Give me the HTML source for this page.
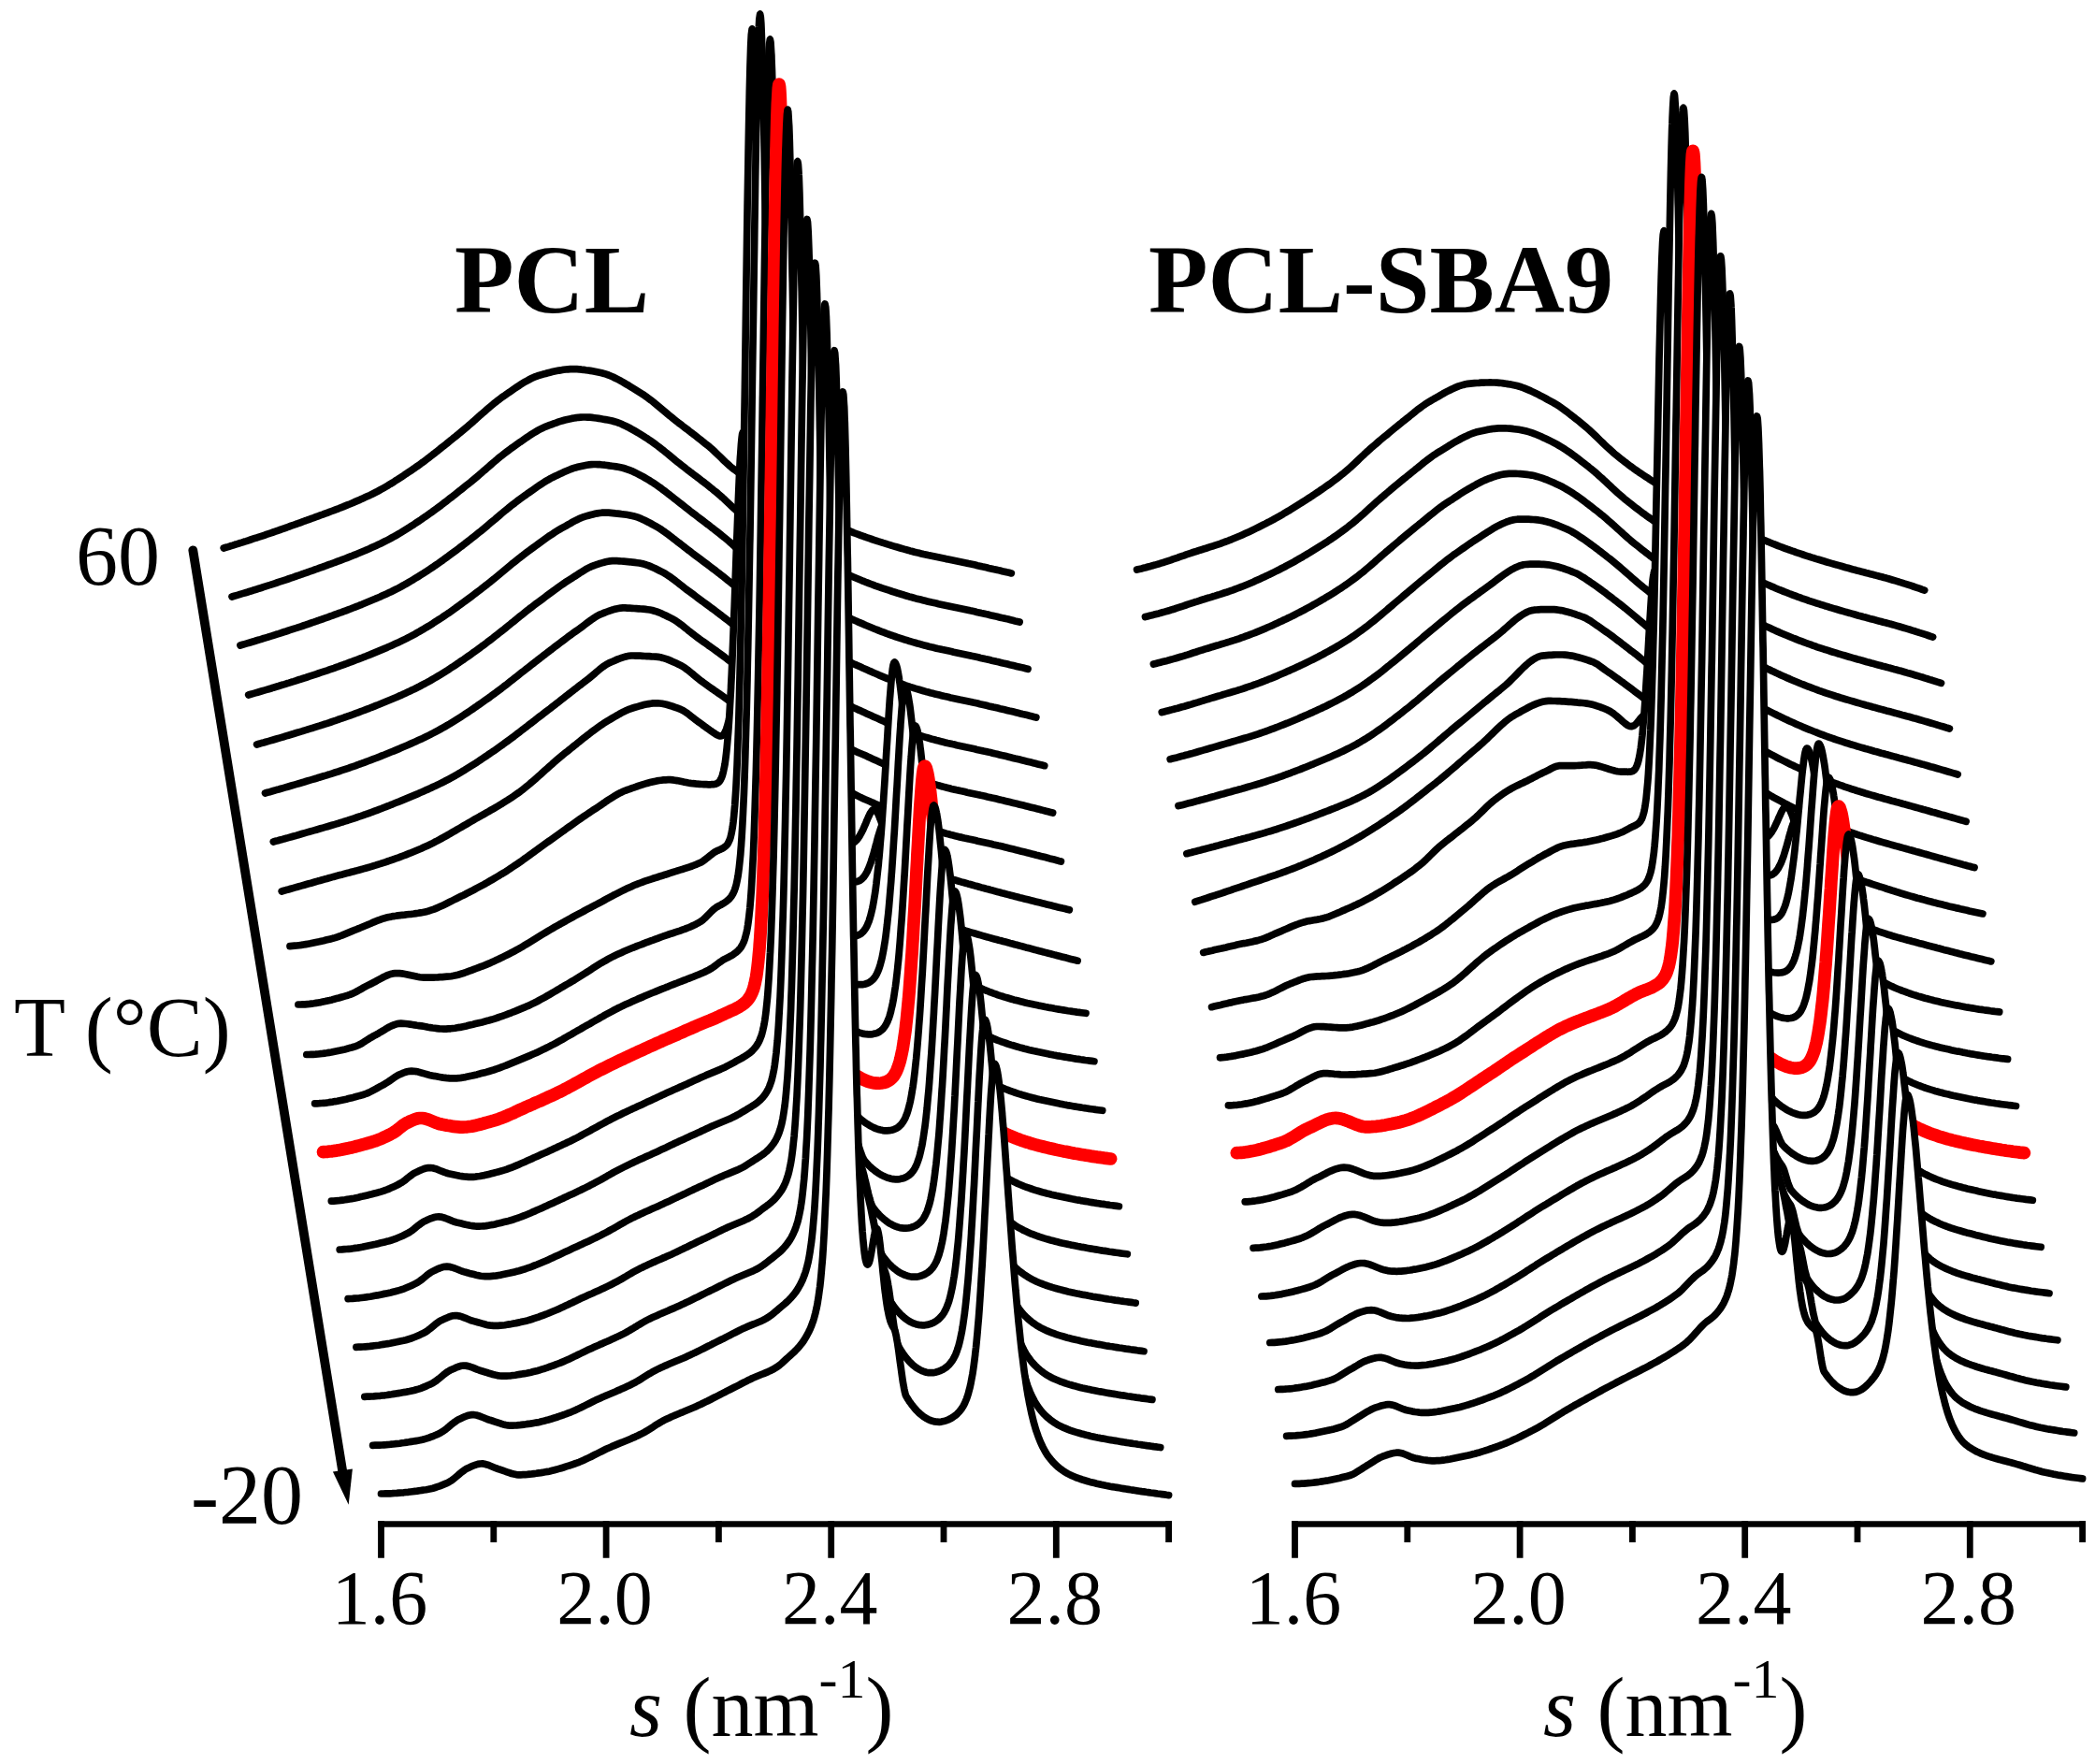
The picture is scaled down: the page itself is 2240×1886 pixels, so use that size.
<!DOCTYPE html>
<html><head><meta charset="utf-8"><style>html,body{margin:0;padding:0;background:#fff}svg{display:block}</style></head>
<body><svg xmlns="http://www.w3.org/2000/svg" width="2240" height="1886" viewBox="0 0 2240 1886">
<rect width="2240" height="1886" fill="#fff"/>
<g fill="#fff" stroke="#000" stroke-width="7.7" stroke-linecap="round" stroke-linejoin="round">
<path d="M239.2 586.0l2.4 -.7l2.4 -.7l2.4 -.8l2.4 -.7l2.4 -.8l2.4 -.7l2.4 -.8l2.4 -.7l2.4 -.8l2.4 -.7l2.4 -.8l2.4 -.8l2.4 -.8l2.4 -.8l2.4 -.7l2.5 -.8l2.4 -.8l2.4 -.8l2.4 -.9l2.4 -.8l2.4 -.8l2.4 -.8l2.4 -.8l2.4 -.9l2.4 -.8l2.4 -.8l2.4 -.9l2.4 -.8l2.4 -.9l2.4 -.9l2.4 -.8l2.5 -.9l2.4 -.8l2.4 -.9l2.4 -.9l2.4 -.9l2.4 -.8l2.4 -.9l2.4 -.9l2.4 -.8l2.4 -.9l2.4 -.9l2.4 -.9l2.4 -.8l2.4 -.9l2.4 -.9l2.4 -.9l2.4 -.9l2.5 -.9l2.4 -.9l2.4 -.9l2.4 -1l2.4 -.9l2.4 -1l2.4 -1l2.4 -.9l2.4 -1l2.4 -1.1l2.4 -1l2.4 -1l2.4 -1.1l2.4 -1.1l2.4 -1.1l2.4 -1.1l2.5 -1.1l2.4 -1.2l2.4 -1.2l2.4 -1.2l2.4 -1.3l2.4 -1.3l2.4 -1.3l2.4 -1.4l2.4 -1.4l2.4 -1.5l2.4 -1.4l2.4 -1.6l2.4 -1.5l2.4 -1.6l2.4 -1.5l2.4 -1.6l2.4 -1.7l2.5 -1.6l2.4 -1.6l2.4 -1.7l2.4 -1.6l2.4 -1.7l2.4 -1.7l2.4 -1.8l2.4 -1.7l2.4 -1.8l2.4 -1.8l2.4 -1.9l2.4 -1.9l2.4 -1.8l2.4 -1.9l2.4 -1.9l2.4 -2l2.4 -1.9l2.5 -1.9l2.4 -2l2.4 -1.9l2.4 -2l2.4 -1.9l2.4 -2l2.4 -1.9l2.4 -2l2.4 -2l2.4 -2l2.4 -2.1l2.4 -2.1l2.4 -2.1l2.4 -2.2l2.4 -2.1l2.4 -2.2l2.5 -2.1l2.4 -2.1l2.4 -2.1l2.4 -2.1l2.4 -2l2.4 -2l2.4 -1.9l2.4 -1.9l2.4 -1.8l2.4 -1.8l2.4 -1.6l2.4 -1.7l2.4 -1.6l2.4 -1.7l2.4 -1.7l2.4 -1.6l2.4 -1.6l2.5 -1.6l2.4 -1.5l2.4 -1.5l2.4 -1.3l2.4 -1.3l2.4 -1.2l2.4 -1.1l2.4 -.9l2.4 -.9l2.4 -.6l2.4 -.7l2.4 -.6l2.4 -.7l2.4 -.6l2.4 -.6l2.4 -.5l2.4 -.5l2.5 -.5l2.4 -.4l2.4 -.4l2.4 -.3l2.4 -.2l2.4 -.2l2.4 0l2.4 0l2.4 .1l2.4 .1l2.4 .3l2.4 .2l2.4 .4l2.4 .3l2.4 .4l2.4 .4l2.4 .5l2.5 .5l2.4 .5l2.4 .5l2.4 .6l2.4 .8l2.4 .8l2.4 1l2.4 1l2.4 1.2l2.4 1.2l2.4 1.2l2.4 1.4l2.4 1.4l2.4 1.4l2.4 1.4l2.4 1.5l2.5 1.5l2.4 1.5l2.4 1.5l2.4 1.5l2.4 1.5l2.4 1.6l2.4 1.7l2.4 1.8l2.4 1.8l2.4 1.9l2.4 2l2.4 2l2.4 2l2.4 2l2.4 2l2.4 2l2.4 2.1l2.5 1.9l2.4 2l2.4 1.9l2.4 1.9l2.4 1.8l2.4 1.9l2.4 1.8l2.4 1.8l2.4 1.9l2.4 1.8l2.4 1.9l2.4 1.8l2.4 1.9l2.4 1.9l2.4 1.9l2.4 2l2.4 1.9l2.5 2l2.4 2.1l2.4 2.2l2.4 2.3l2.4 2.3l2.4 2.3l2.4 2.4l2.4 2.3l2.4 2.2l2.4 2.2l2.4 2l2.4 1.8l2.4 1.7l2.4 1.7l2.4 1.6l2.4 1.7l2.5 1.6l2.4 1.6l2.4 1.6l2.4 1.5l2.4 1.6l2.4 1.5l2.4 1.5l2.4 1.5l2.4 1.4l2.4 1.5l2.4 1.4l2.4 1.4l2.4 1.4l2.4 1.4l2.4 1.3l2.4 1.4l2.4 1.3l2.5 1.3l2.4 1.3l2.4 1.3l2.4 1.3l2.4 1.2l2.4 1.3l2.4 1.2l2.4 1.2l2.4 1.2l2.4 1.2l2.4 1.2l2.4 1.1l2.4 1.2l2.4 1.1l2.4 1.1l2.4 1.1l2.5 1.1l2.4 1.1l2.4 1.1l2.4 1.1l2.4 1l2.4 1.1l2.4 1l2.4 1l2.4 1.1l2.4 1l2.4 1l2.4 1l2.4 1l2.4 .9l2.4 1l2.4 1l2.4 .9l2.5 .9l2.4 .9l2.4 .9l2.4 .8l2.4 .9l2.4 .8l2.4 .8l2.4 .8l2.4 .8l2.4 .8l2.4 .7l2.4 .8l2.4 .7l2.4 .8l2.4 .7l2.4 .8l2.4 .7l2.5 .7l2.4 .7l2.4 .7l2.4 .7l2.4 .7l2.4 .6l2.4 .7l2.4 .6l2.4 .7l2.4 .6l2.4 .5l2.4 .6l2.4 .6l2.4 .5l2.4 .6l2.4 .5l2.4 .5l2.5 .5l2.4 .5l2.4 .5l2.4 .5l2.4 .5l2.4 .5l2.4 .4l2.4 .5l2.4 .5l2.4 .5l2.4 .5l2.4 .5l2.4 .5l2.4 .5l2.4 .5l2.4 .6l2.5 .5l2.4 .5l2.4 .5l2.4 .6l2.4 .5l2.4 .6l2.4 .5l2.4 .5l2.4 .6l2.4 .5l2.4 .6l2.4 .5l2.4 .6l2.4 .5l2.4 .6l2.4 .5l2.4 .6l2.5 .5l2.4 .6"/>
<path d="M248.0 638.0l2.4 -.7l2.4 -.7l2.4 -.7l2.4 -.8l2.5 -.7l2.4 -.7l2.4 -.7l2.4 -.8l2.4 -.7l2.4 -.8l2.4 -.7l2.4 -.8l2.4 -.7l2.4 -.8l2.4 -.8l2.4 -.8l2.4 -.7l2.4 -.8l2.4 -.8l2.4 -.8l2.4 -.8l2.5 -.8l2.4 -.8l2.4 -.8l2.4 -.8l2.4 -.8l2.4 -.8l2.4 -.9l2.4 -.8l2.4 -.8l2.4 -.9l2.4 -.8l2.4 -.9l2.4 -.8l2.4 -.9l2.4 -.8l2.4 -.9l2.4 -.8l2.5 -.9l2.4 -.9l2.4 -.8l2.4 -.9l2.4 -.9l2.4 -.8l2.4 -.9l2.4 -.9l2.4 -.9l2.4 -.9l2.4 -.9l2.4 -.9l2.4 -.9l2.4 -1l2.4 -.9l2.4 -1l2.4 -.9l2.5 -1l2.4 -1l2.4 -1l2.4 -1l2.4 -1.1l2.4 -1l2.4 -1.1l2.4 -1.1l2.4 -1.1l2.4 -1.1l2.4 -1.1l2.4 -1.2l2.4 -1.2l2.4 -1.2l2.4 -1.3l2.4 -1.3l2.5 -1.3l2.4 -1.4l2.4 -1.4l2.4 -1.4l2.4 -1.5l2.4 -1.5l2.4 -1.5l2.4 -1.5l2.4 -1.6l2.4 -1.5l2.4 -1.6l2.4 -1.6l2.4 -1.6l2.4 -1.7l2.4 -1.6l2.4 -1.7l2.4 -1.7l2.5 -1.7l2.4 -1.8l2.4 -1.7l2.4 -1.8l2.4 -1.8l2.4 -1.9l2.4 -1.8l2.4 -1.9l2.4 -1.9l2.4 -1.8l2.4 -1.9l2.4 -1.9l2.4 -1.9l2.4 -1.9l2.4 -2l2.4 -1.9l2.4 -1.9l2.5 -1.9l2.4 -2l2.4 -2l2.4 -2l2.4 -2.1l2.4 -2.1l2.4 -2.1l2.4 -2l2.4 -2.1l2.4 -2.1l2.4 -2.1l2.4 -2l2.4 -2.1l2.4 -2l2.4 -1.9l2.4 -1.9l2.5 -1.9l2.4 -1.8l2.4 -1.8l2.4 -1.7l2.4 -1.7l2.4 -1.7l2.4 -1.7l2.4 -1.6l2.4 -1.7l2.4 -1.7l2.4 -1.6l2.4 -1.6l2.4 -1.5l2.4 -1.4l2.4 -1.4l2.4 -1.3l2.4 -1.2l2.5 -1.1l2.4 -1l2.4 -.9l2.4 -.9l2.4 -.9l2.4 -.8l2.4 -.9l2.4 -.8l2.4 -.7l2.4 -.7l2.4 -.6l2.4 -.5l2.4 -.5l2.4 -.4l2.4 -.4l2.4 -.3l2.5 -.2l2.4 -.1l2.4 0l2.4 .1l2.4 .1l2.4 .2l2.4 .3l2.4 .3l2.4 .4l2.4 .4l2.4 .4l2.4 .4l2.4 .4l2.4 .5l2.4 .5l2.4 .7l2.4 .7l2.5 .9l2.4 1l2.4 1.1l2.4 1.1l2.4 1.2l2.4 1.3l2.4 1.3l2.4 1.4l2.4 1.4l2.4 1.4l2.4 1.5l2.4 1.5l2.4 1.6l2.4 1.5l2.4 1.6l2.4 1.7l2.4 1.8l2.5 1.8l2.4 1.8l2.4 1.9l2.4 1.9l2.4 2l2.4 1.9l2.4 2l2.4 2l2.4 2l2.4 1.9l2.4 1.9l2.4 1.9l2.4 1.9l2.4 1.9l2.4 1.8l2.4 1.9l2.4 1.8l2.5 1.8l2.4 1.9l2.4 1.8l2.4 1.9l2.4 1.8l2.4 1.9l2.4 1.9l2.4 1.9l2.4 2l2.4 1.9l2.4 2l2.4 2.1l2.4 2.1l2.4 2.2l2.4 2.3l2.4 2.3l2.5 2.3l2.4 2.2l2.4 2.2l2.4 2.1l2.4 2l2.4 1.9l2.4 1.8l2.4 1.7l2.4 1.7l2.4 1.7l2.4 1.6l2.4 1.7l2.4 1.6l2.4 1.6l2.4 1.6l2.4 1.6l2.4 1.6l2.5 1.5l2.4 1.5l2.4 1.5l2.4 1.5l2.4 1.5l2.4 1.4l2.4 1.5l2.4 1.4l2.4 1.4l2.4 1.4l2.4 1.4l2.4 1.3l2.4 1.3l2.4 1.3l2.4 1.3l2.4 1.3l2.5 1.3l2.4 1.2l2.4 1.3l2.4 1.2l2.4 1.2l2.4 1.2l2.4 1.1l2.4 1.1l2.4 1.2l2.4 1.1l2.4 1.1l2.4 1l2.4 1.1l2.4 1.1l2.4 1.1l2.4 1l2.4 1.1l2.5 1l2.4 1.1l2.4 1l2.4 1l2.4 1.1l2.4 1l2.4 1l2.4 1l2.4 1l2.4 .9l2.4 1l2.4 .9l2.4 .9l2.4 .9l2.4 .9l2.4 .8l2.4 .9l2.5 .8l2.4 .8l2.4 .8l2.4 .8l2.4 .8l2.4 .8l2.4 .7l2.4 .8l2.4 .7l2.4 .7l2.4 .8l2.4 .7l2.4 .7l2.4 .6l2.4 .7l2.4 .7l2.4 .6l2.5 .6l2.4 .6l2.4 .6l2.4 .6l2.4 .6l2.4 .6l2.4 .5l2.4 .5l2.4 .6l2.4 .5l2.4 .5l2.4 .5l2.4 .5l2.4 .5l2.4 .5l2.4 .5l2.5 .5l2.4 .5l2.4 .5l2.4 .5l2.4 .5l2.4 .5l2.4 .6l2.4 .5l2.4 .5l2.4 .6l2.4 .5l2.4 .6l2.4 .5l2.4 .6l2.4 .5l2.4 .6l2.4 .5l2.5 .6l2.4 .5l2.4 .6l2.4 .6l2.4 .5l2.4 .6l2.4 .5l2.4 .6l2.4 .6l2.4 .6l2.4 .5l2.4 .6"/>
<path d="M256.9 690.0l2.4 -.7l2.4 -.7l2.4 -.7l2.4 -.7l2.4 -.7l2.4 -.7l2.4 -.8l2.4 -.7l2.4 -.7l2.4 -.8l2.4 -.7l2.5 -.7l2.4 -.8l2.4 -.7l2.4 -.8l2.4 -.8l2.4 -.7l2.4 -.8l2.4 -.8l2.4 -.7l2.4 -.8l2.4 -.8l2.4 -.8l2.4 -.8l2.4 -.7l2.4 -.8l2.4 -.8l2.4 -.8l2.5 -.8l2.4 -.9l2.4 -.8l2.4 -.8l2.4 -.8l2.4 -.9l2.4 -.8l2.4 -.9l2.4 -.8l2.4 -.9l2.4 -.8l2.4 -.9l2.4 -.8l2.4 -.9l2.4 -.9l2.4 -.9l2.5 -.8l2.4 -.9l2.4 -.9l2.4 -.9l2.4 -.9l2.4 -1l2.4 -.9l2.4 -.9l2.4 -1l2.4 -.9l2.4 -1l2.4 -1l2.4 -1l2.4 -1l2.4 -1l2.4 -1l2.4 -1.1l2.5 -1l2.4 -1.1l2.4 -1.1l2.4 -1.1l2.4 -1.1l2.4 -1.1l2.4 -1.2l2.4 -1.2l2.4 -1.2l2.4 -1.3l2.4 -1.3l2.4 -1.3l2.4 -1.4l2.4 -1.4l2.4 -1.4l2.4 -1.4l2.4 -1.5l2.5 -1.5l2.4 -1.5l2.4 -1.5l2.4 -1.6l2.4 -1.5l2.4 -1.6l2.4 -1.6l2.4 -1.6l2.4 -1.7l2.4 -1.6l2.4 -1.7l2.4 -1.7l2.4 -1.8l2.4 -1.7l2.4 -1.8l2.4 -1.8l2.4 -1.8l2.5 -1.8l2.4 -1.8l2.4 -1.9l2.4 -1.8l2.4 -1.9l2.4 -1.8l2.4 -1.9l2.4 -1.9l2.4 -1.9l2.4 -1.9l2.4 -1.9l2.4 -1.9l2.4 -2l2.4 -2l2.4 -2l2.4 -2.1l2.5 -2l2.4 -2l2.4 -2.1l2.4 -2l2.4 -2.1l2.4 -2l2.4 -2l2.4 -1.9l2.4 -2l2.4 -1.9l2.4 -1.8l2.4 -1.9l2.4 -1.8l2.4 -1.7l2.4 -1.7l2.4 -1.7l2.4 -1.8l2.5 -1.7l2.4 -1.7l2.4 -1.7l2.4 -1.7l2.4 -1.6l2.4 -1.6l2.4 -1.6l2.4 -1.4l2.4 -1.4l2.4 -1.4l2.4 -1.2l2.4 -1.2l2.4 -1.1l2.4 -1.1l2.4 -1.1l2.4 -1.1l2.5 -1.1l2.4 -1l2.4 -1l2.4 -.8l2.4 -.8l2.4 -.6l2.4 -.6l2.4 -.5l2.4 -.5l2.4 -.5l2.4 -.3l2.4 -.2l2.4 -.2l2.4 0l2.4 .1l2.4 .1l2.4 .3l2.5 .2l2.4 .3l2.4 .4l2.4 .3l2.4 .3l2.4 .4l2.4 .4l2.4 .5l2.4 .5l2.4 .7l2.4 .8l2.4 .9l2.4 .9l2.4 1.1l2.4 1.2l2.4 1.2l2.4 1.3l2.5 1.3l2.4 1.4l2.4 1.4l2.4 1.4l2.4 1.5l2.4 1.6l2.4 1.6l2.4 1.7l2.4 1.7l2.4 1.9l2.4 1.8l2.4 1.9l2.4 1.8l2.4 1.9l2.4 1.9l2.4 1.9l2.4 1.9l2.5 1.9l2.4 1.9l2.4 1.9l2.4 1.9l2.4 1.9l2.4 1.8l2.4 1.8l2.4 1.9l2.4 1.8l2.4 1.8l2.4 1.8l2.4 1.9l2.4 1.8l2.4 1.9l2.4 1.8l2.4 1.9l2.5 1.9l2.4 1.9l2.4 2l2.4 1.9l2.4 2l2.4 2l2.4 2.1l2.4 2.2l2.4 2.2l2.4 2.2l2.4 2.2l2.4 2.2l2.4 2.2l2.4 2.1l2.4 1.9l2.4 1.9l2.4 1.8l2.5 1.8l2.4 1.7l2.4 1.8l2.4 1.7l2.4 1.7l2.4 1.7l2.4 1.6l2.4 1.7l2.4 1.6l2.4 1.6l2.4 1.6l2.4 1.6l2.4 1.6l2.4 1.5l2.4 1.5l2.4 1.5l2.5 1.5l2.4 1.5l2.4 1.5l2.4 1.4l2.4 1.4l2.4 1.4l2.4 1.4l2.4 1.3l2.4 1.4l2.4 1.3l2.4 1.3l2.4 1.3l2.4 1.2l2.4 1.3l2.4 1.2l2.4 1.2l2.4 1.1l2.5 1.1l2.4 1.1l2.4 1.1l2.4 1.1l2.4 1.1l2.4 1.1l2.4 1l2.4 1.1l2.4 1.1l2.4 1l2.4 1.1l2.4 1.1l2.4 1l2.4 1.1l2.4 1l2.4 1l2.4 1.1l2.5 1l2.4 1l2.4 1l2.4 1l2.4 .9l2.4 1l2.4 .9l2.4 .9l2.4 .9l2.4 .9l2.4 .8l2.4 .9l2.4 .8l2.4 .8l2.4 .8l2.4 .8l2.4 .8l2.5 .7l2.4 .8l2.4 .7l2.4 .7l2.4 .7l2.4 .7l2.4 .6l2.4 .7l2.4 .6l2.4 .6l2.4 .7l2.4 .6l2.4 .5l2.4 .6l2.4 .6l2.4 .5l2.5 .6l2.4 .5l2.4 .5l2.4 .5l2.4 .5l2.4 .6l2.4 .5l2.4 .5l2.4 .5l2.4 .5l2.4 .5l2.4 .5l2.4 .5l2.4 .6l2.4 .5l2.4 .5l2.4 .5l2.5 .6l2.4 .5l2.4 .6l2.4 .5l2.4 .6l2.4 .6l2.4 .5l2.4 .6l2.4 .5l2.4 .6l2.4 .6l2.4 .5l2.4 .6l2.4 .6l2.4 .5l2.4 .6l2.4 .6l2.5 .6l2.4 .6l2.4 .5l2.4 .6l2.4 .6"/>
<path d="M265.7 743.0l2.4 -.7l2.5 -.7l2.4 -.7l2.4 -.7l2.4 -.7l2.4 -.7l2.4 -.7l2.4 -.7l2.4 -.7l2.4 -.7l2.4 -.8l2.4 -.7l2.4 -.7l2.4 -.8l2.4 -.7l2.4 -.7l2.4 -.8l2.4 -.7l2.5 -.8l2.4 -.7l2.4 -.8l2.4 -.8l2.4 -.7l2.4 -.8l2.4 -.7l2.4 -.8l2.4 -.8l2.4 -.8l2.4 -.8l2.4 -.8l2.4 -.8l2.4 -.8l2.4 -.8l2.4 -.8l2.4 -.8l2.5 -.9l2.4 -.8l2.4 -.8l2.4 -.9l2.4 -.8l2.4 -.9l2.4 -.9l2.4 -.8l2.4 -.9l2.4 -.9l2.4 -.9l2.4 -.9l2.4 -.9l2.4 -.9l2.4 -.9l2.4 -1l2.5 -.9l2.4 -1l2.4 -.9l2.4 -1l2.4 -1l2.4 -1l2.4 -1l2.4 -1l2.4 -1l2.4 -1l2.4 -1.1l2.4 -1l2.4 -1.1l2.4 -1.1l2.4 -1.1l2.4 -1.1l2.4 -1.2l2.5 -1.1l2.4 -1.2l2.4 -1.3l2.4 -1.2l2.4 -1.3l2.4 -1.3l2.4 -1.4l2.4 -1.3l2.4 -1.4l2.4 -1.4l2.4 -1.5l2.4 -1.4l2.4 -1.5l2.4 -1.5l2.4 -1.6l2.4 -1.5l2.4 -1.6l2.5 -1.5l2.4 -1.7l2.4 -1.6l2.4 -1.6l2.4 -1.7l2.4 -1.7l2.4 -1.7l2.4 -1.8l2.4 -1.7l2.4 -1.8l2.4 -1.7l2.4 -1.8l2.4 -1.8l2.4 -1.8l2.4 -1.8l2.4 -1.8l2.5 -1.9l2.4 -1.8l2.4 -1.9l2.4 -1.9l2.4 -1.8l2.4 -2l2.4 -1.9l2.4 -1.9l2.4 -2l2.4 -2l2.4 -2l2.4 -2l2.4 -2l2.4 -2l2.4 -2l2.4 -2l2.4 -1.9l2.5 -2l2.4 -1.9l2.4 -1.9l2.4 -1.8l2.4 -1.9l2.4 -1.8l2.4 -1.7l2.4 -1.8l2.4 -1.8l2.4 -1.7l2.4 -1.8l2.4 -1.8l2.4 -1.7l2.4 -1.7l2.4 -1.7l2.4 -1.7l2.5 -1.6l2.4 -1.6l2.4 -1.5l2.4 -1.5l2.4 -1.4l2.4 -1.3l2.4 -1.3l2.4 -1.4l2.4 -1.3l2.4 -1.4l2.4 -1.3l2.4 -1.2l2.4 -1.1l2.4 -1.1l2.4 -.9l2.4 -.7l2.4 -.7l2.5 -.7l2.4 -.6l2.4 -.6l2.4 -.4l2.4 -.4l2.4 -.3l2.4 -.1l2.4 0l2.4 .1l2.4 .2l2.4 .2l2.4 .3l2.4 .2l2.4 .3l2.4 .3l2.4 .3l2.4 .3l2.5 .4l2.4 .5l2.4 .5l2.4 .7l2.4 .8l2.4 .9l2.4 1.1l2.4 1.1l2.4 1.2l2.4 1.2l2.4 1.3l2.4 1.3l2.4 1.3l2.4 1.4l2.4 1.5l2.4 1.7l2.4 1.6l2.5 1.8l2.4 1.8l2.4 1.9l2.4 1.9l2.4 1.8l2.4 1.9l2.4 1.8l2.4 1.9l2.4 1.8l2.4 1.9l2.4 1.8l2.4 1.9l2.4 1.8l2.4 1.8l2.4 1.8l2.4 1.8l2.5 1.9l2.4 1.8l2.4 1.8l2.4 1.8l2.4 1.8l2.4 1.8l2.4 1.9l2.4 1.8l2.4 1.9l2.4 1.9l2.4 1.9l2.4 1.9l2.4 1.9l2.4 2l2.4 1.9l2.4 2l2.4 2.1l2.5 2.1l2.4 2.2l2.4 2.1l2.4 2.2l2.4 2.1l2.4 2.1l2.4 2l2.4 2l2.4 1.9l2.4 1.8l2.4 1.8l2.4 1.8l2.4 1.8l2.4 1.8l2.4 1.7l2.4 1.8l2.5 1.7l2.4 1.7l2.4 1.7l2.4 1.7l2.4 1.6l2.4 1.7l2.4 1.6l2.4 1.6l2.4 1.6l2.4 1.5l2.4 1.6l2.4 1.5l2.4 1.5l2.4 1.5l2.4 1.4l2.4 1.5l2.4 1.4l2.5 1.4l2.4 1.4l2.4 1.3l2.4 1.4l2.4 1.3l2.4 1.3l2.4 1.2l2.4 1.3l2.4 1.2l2.4 1.1l2.4 1.1l2.4 1.1l2.4 1.1l2.4 1.1l2.4 1l2.4 1.1l2.4 1.1l2.5 1.1l2.4 1l2.4 1.1l2.4 1.1l2.4 1.1l2.4 1l2.4 1.1l2.4 1.1l2.4 1l2.4 1.1l2.4 1l2.4 1.1l2.4 1l2.4 1l2.4 1l2.4 1l2.4 .9l2.5 1l2.4 .9l2.4 .9l2.4 .9l2.4 .9l2.4 .8l2.4 .9l2.4 .8l2.4 .8l2.4 .7l2.4 .8l2.4 .7l2.4 .7l2.4 .7l2.4 .7l2.4 .7l2.5 .6l2.4 .7l2.4 .6l2.4 .6l2.4 .6l2.4 .6l2.4 .6l2.4 .6l2.4 .5l2.4 .5l2.4 .6l2.4 .5l2.4 .5l2.4 .5l2.4 .6l2.4 .5l2.4 .5l2.5 .5l2.4 .5l2.4 .5l2.4 .6l2.4 .5l2.4 .5l2.4 .6l2.4 .5l2.4 .5l2.4 .6l2.4 .6l2.4 .5l2.4 .6l2.4 .5l2.4 .6l2.4 .6l2.4 .5l2.5 .6l2.4 .6l2.4 .6l2.4 .5l2.4 .6l2.4 .6l2.4 .6l2.4 .6l2.4 .6l2.4 .5l2.4 .6l2.4 .6l2.4 .6l2.4 .6l2.4 .6"/>
<path d="M274.6 796.0l2.4 -.7l2.4 -.7l2.4 -.6l2.4 -.7l2.4 -.7l2.4 -.7l2.4 -.7l2.4 -.7l2.5 -.7l2.4 -.7l2.4 -.7l2.4 -.7l2.4 -.8l2.4 -.7l2.4 -.7l2.4 -.7l2.4 -.8l2.4 -.7l2.4 -.7l2.4 -.7l2.4 -.8l2.4 -.7l2.4 -.8l2.4 -.7l2.4 -.7l2.5 -.8l2.4 -.8l2.4 -.7l2.4 -.8l2.4 -.8l2.4 -.7l2.4 -.8l2.4 -.8l2.4 -.8l2.4 -.8l2.4 -.9l2.4 -.8l2.4 -.8l2.4 -.9l2.4 -.8l2.4 -.9l2.5 -.8l2.4 -.9l2.4 -.9l2.4 -.9l2.4 -.9l2.4 -.9l2.4 -.9l2.4 -.9l2.4 -.9l2.4 -1l2.4 -.9l2.4 -1l2.4 -.9l2.4 -1l2.4 -1l2.4 -1l2.4 -1l2.5 -1l2.4 -1l2.4 -1l2.4 -1l2.4 -1.1l2.4 -1l2.4 -1.1l2.4 -1.1l2.4 -1.1l2.4 -1.1l2.4 -1.2l2.4 -1.1l2.4 -1.2l2.4 -1.2l2.4 -1.3l2.4 -1.3l2.4 -1.2l2.5 -1.4l2.4 -1.3l2.4 -1.4l2.4 -1.4l2.4 -1.4l2.4 -1.4l2.4 -1.5l2.4 -1.5l2.4 -1.5l2.4 -1.5l2.4 -1.6l2.4 -1.5l2.4 -1.6l2.4 -1.7l2.4 -1.6l2.4 -1.7l2.5 -1.6l2.4 -1.7l2.4 -1.7l2.4 -1.7l2.4 -1.8l2.4 -1.7l2.4 -1.7l2.4 -1.8l2.4 -1.8l2.4 -1.7l2.4 -1.8l2.4 -1.9l2.4 -1.8l2.4 -1.8l2.4 -1.9l2.4 -1.9l2.4 -1.9l2.5 -1.9l2.4 -1.9l2.4 -2l2.4 -1.9l2.4 -2l2.4 -1.9l2.4 -2l2.4 -1.9l2.4 -2l2.4 -1.9l2.4 -1.9l2.4 -1.9l2.4 -1.9l2.4 -1.8l2.4 -1.9l2.4 -1.8l2.5 -1.8l2.4 -1.8l2.4 -1.8l2.4 -1.8l2.4 -1.8l2.4 -1.8l2.4 -1.8l2.4 -1.8l2.4 -1.7l2.4 -1.8l2.4 -1.7l2.4 -1.6l2.4 -1.7l2.4 -1.6l2.4 -1.5l2.4 -1.5l2.4 -1.6l2.5 -1.5l2.4 -1.6l2.4 -1.6l2.4 -1.5l2.4 -1.5l2.4 -1.3l2.4 -1.2l2.4 -1.1l2.4 -.8l2.4 -.9l2.4 -.8l2.4 -.7l2.4 -.7l2.4 -.6l2.4 -.5l2.4 -.4l2.4 -.2l2.5 -.1l2.4 .1l2.4 .1l2.4 .2l2.4 .2l2.4 .2l2.4 .2l2.4 .2l2.4 .3l2.4 .3l2.4 .3l2.4 .3l2.4 .5l2.4 .6l2.4 .7l2.4 .8l2.4 1l2.5 1.1l2.4 1.1l2.4 1.2l2.4 1.2l2.4 1.2l2.4 1.3l2.4 1.4l2.4 1.6l2.4 1.6l2.4 1.8l2.4 1.8l2.4 1.9l2.4 1.9l2.4 1.9l2.4 1.9l2.4 1.8l2.5 1.8l2.4 1.8l2.4 1.8l2.4 1.8l2.4 1.8l2.4 1.8l2.4 1.8l2.4 1.7l2.4 1.8l2.4 1.8l2.4 1.8l2.4 1.7l2.4 1.8l2.4 1.8l2.4 1.9l2.4 1.8l2.4 1.8l2.5 1.9l2.4 1.9l2.4 1.8l2.4 1.9l2.4 1.9l2.4 2l2.4 1.9l2.4 2l2.4 1.9l2.4 2.1l2.4 2l2.4 2.1l2.4 2.1l2.4 2.1l2.4 2l2.4 2.1l2.4 2l2.5 2l2.4 1.9l2.4 1.9l2.4 1.8l2.4 1.9l2.4 1.8l2.4 1.8l2.4 1.8l2.4 1.8l2.4 1.8l2.4 1.7l2.4 1.8l2.4 1.7l2.4 1.7l2.4 1.7l2.4 1.7l2.5 1.6l2.4 1.7l2.4 1.6l2.4 1.6l2.4 1.6l2.4 1.5l2.4 1.6l2.4 1.5l2.4 1.5l2.4 1.4l2.4 1.5l2.4 1.4l2.4 1.4l2.4 1.4l2.4 1.3l2.4 1.3l2.4 1.3l2.5 1.2l2.4 1.3l2.4 1.1l2.4 1.1l2.4 1.1l2.4 1.1l2.4 1l2.4 1.1l2.4 1.1l2.4 1l2.4 1.1l2.4 1.1l2.4 1.1l2.4 1.1l2.4 1.1l2.4 1.1l2.5 1.1l2.4 1l2.4 1.1l2.4 1.1l2.4 1.1l2.4 1l2.4 1.1l2.4 1l2.4 1.1l2.4 1l2.4 1l2.4 .9l2.4 1l2.4 .9l2.4 1l2.4 .8l2.4 .9l2.5 .9l2.4 .8l2.4 .8l2.4 .8l2.4 .8l2.4 .7l2.4 .7l2.4 .7l2.4 .7l2.4 .6l2.4 .7l2.4 .6l2.4 .6l2.4 .6l2.4 .6l2.4 .6l2.4 .5l2.5 .6l2.4 .5l2.4 .6l2.4 .5l2.4 .5l2.4 .5l2.4 .6l2.4 .5l2.4 .5l2.4 .5l2.4 .5l2.4 .6l2.4 .5l2.4 .5l2.4 .6l2.4 .5l2.4 .6l2.5 .5l2.4 .6l2.4 .6l2.4 .5l2.4 .6l2.4 .6l2.4 .5l2.4 .6l2.4 .6l2.4 .6l2.4 .6l2.4 .6l2.4 .5l2.4 .6l2.4 .6l2.4 .6l2.5 .6l2.4 .6l2.4 .6l2.4 .6l2.4 .6l2.4 .6l2.4 .6l2.4 .6l2.4 .6"/>
<path d="M283.5 848.0l2.4 -.7l2.4 -.6l2.4 -.7l2.4 -.7l2.4 -.7l2.4 -.6l2.4 -.7l2.4 -.7l2.4 -.7l2.4 -.7l2.4 -.7l2.4 -.7l2.4 -.7l2.4 -.7l2.4 -.7l2.5 -.7l2.4 -.7l2.4 -.8l2.4 -.7l2.4 -.7l2.4 -.7l2.4 -.7l2.4 -.7l2.4 -.8l2.4 -.7l2.4 -.7l2.4 -.7l2.4 -.8l2.4 -.7l2.4 -.8l2.4 -.8l2.5 -.7l2.4 -.8l2.4 -.8l2.4 -.8l2.4 -.8l2.4 -.8l2.4 -.9l2.4 -.8l2.4 -.8l2.4 -.9l2.4 -.9l2.4 -.8l2.4 -.9l2.4 -.9l2.4 -.9l2.4 -.9l2.4 -.9l2.5 -1l2.4 -.9l2.4 -.9l2.4 -1l2.4 -.9l2.4 -1l2.4 -1l2.4 -1l2.4 -.9l2.4 -1l2.4 -1l2.4 -1l2.4 -1.1l2.4 -1l2.4 -1l2.4 -1.1l2.4 -1l2.5 -1.1l2.4 -1.1l2.4 -1.1l2.4 -1.1l2.4 -1.1l2.4 -1.2l2.4 -1.1l2.4 -1.2l2.4 -1.3l2.4 -1.2l2.4 -1.3l2.4 -1.3l2.4 -1.3l2.4 -1.3l2.4 -1.4l2.4 -1.4l2.5 -1.4l2.4 -1.5l2.4 -1.5l2.4 -1.5l2.4 -1.5l2.4 -1.5l2.4 -1.6l2.4 -1.6l2.4 -1.6l2.4 -1.6l2.4 -1.6l2.4 -1.7l2.4 -1.6l2.4 -1.7l2.4 -1.7l2.4 -1.7l2.4 -1.7l2.5 -1.7l2.4 -1.7l2.4 -1.8l2.4 -1.7l2.4 -1.8l2.4 -1.8l2.4 -1.8l2.4 -1.9l2.4 -1.8l2.4 -1.9l2.4 -1.9l2.4 -1.9l2.4 -1.9l2.4 -1.9l2.4 -1.9l2.4 -1.9l2.5 -1.9l2.4 -1.9l2.4 -1.9l2.4 -1.9l2.4 -1.8l2.4 -1.9l2.4 -1.9l2.4 -1.8l2.4 -1.9l2.4 -1.9l2.4 -1.8l2.4 -1.8l2.4 -1.9l2.4 -1.8l2.4 -1.9l2.4 -1.8l2.4 -1.8l2.5 -1.9l2.4 -1.8l2.4 -1.8l2.4 -1.8l2.4 -1.7l2.4 -1.8l2.4 -1.7l2.4 -1.7l2.4 -1.7l2.4 -1.8l2.4 -1.8l2.4 -1.8l2.4 -1.8l2.4 -1.8l2.4 -1.6l2.4 -1.6l2.4 -1.4l2.5 -1.2l2.4 -.9l2.4 -1l2.4 -.9l2.4 -.9l2.4 -.8l2.4 -.7l2.4 -.6l2.4 -.5l2.4 -.4l2.4 -.2l2.4 0l2.4 .2l2.4 .1l2.4 .1l2.4 .2l2.4 .1l2.5 .2l2.4 .2l2.4 .2l2.4 .2l2.4 .3l2.4 .3l2.4 .5l2.4 .7l2.4 .7l2.4 .9l2.4 1l2.4 1.1l2.4 1.1l2.4 1.2l2.4 1.2l2.4 1.2l2.5 1.4l2.4 1.6l2.4 1.7l2.4 1.8l2.4 1.9l2.4 1.9l2.4 2l2.4 1.9l2.4 1.9l2.4 1.8l2.4 1.8l2.4 1.8l2.4 1.7l2.4 1.7l2.4 1.7l2.4 1.8l2.4 1.7l2.5 1.7l2.4 1.7l2.4 1.8l2.4 1.7l2.4 1.8l2.4 1.8l2.4 1.8l2.4 1.8l2.4 1.8l2.4 1.9l2.4 1.8l2.4 1.9l2.4 1.9l2.4 1.8l2.4 2l2.4 1.9l2.5 1.9l2.4 1.9l2.4 2l2.4 2l2.4 2l2.4 2l2.4 2l2.4 2l2.4 2l2.4 2l2.4 2l2.4 2l2.4 1.9l2.4 1.9l2.4 1.9l2.4 1.9l2.4 1.9l2.5 1.8l2.4 1.9l2.4 1.8l2.4 1.9l2.4 1.8l2.4 1.8l2.4 1.8l2.4 1.7l2.4 1.8l2.4 1.7l2.4 1.7l2.4 1.7l2.4 1.7l2.4 1.6l2.4 1.7l2.4 1.6l2.4 1.6l2.5 1.5l2.4 1.6l2.4 1.5l2.4 1.5l2.4 1.4l2.4 1.4l2.4 1.4l2.4 1.4l2.4 1.4l2.4 1.3l2.4 1.2l2.4 1.3l2.4 1.1l2.4 1.1l2.4 1.1l2.4 1.1l2.5 1l2.4 1l2.4 1.1l2.4 1.1l2.4 1.1l2.4 1.1l2.4 1.1l2.4 1.1l2.4 1.1l2.4 1.1l2.4 1.1l2.4 1.1l2.4 1.1l2.4 1.1l2.4 1.1l2.4 1.1l2.4 1.1l2.5 1l2.4 1.1l2.4 1l2.4 1.1l2.4 1l2.4 1l2.4 .9l2.4 1l2.4 .9l2.4 .9l2.4 .9l2.4 .8l2.4 .8l2.4 .8l2.4 .8l2.4 .7l2.4 .7l2.5 .7l2.4 .7l2.4 .6l2.4 .7l2.4 .6l2.4 .6l2.4 .6l2.4 .5l2.4 .6l2.4 .5l2.4 .6l2.4 .5l2.4 .5l2.4 .6l2.4 .5l2.4 .5l2.5 .5l2.4 .5l2.4 .5l2.4 .6l2.4 .5l2.4 .5l2.4 .6l2.4 .5l2.4 .6l2.4 .5l2.4 .6l2.4 .6l2.4 .6l2.4 .5l2.4 .6l2.4 .6l2.4 .6l2.5 .6l2.4 .6l2.4 .5l2.4 .6l2.4 .6l2.4 .6l2.4 .6l2.4 .6l2.4 .6l2.4 .6l2.4 .6l2.4 .6l2.4 .6l2.4 .6l2.4 .7l2.4 .6l2.4 .6l2.5 .6l2.4 .6"/>
<path d="M292.3 900.0l2.4 -.7l2.4 -.6l2.4 -.7l2.4 -.6l2.5 -.7l2.4 -.6l2.4 -.7l2.4 -.7l2.4 -.7l2.4 -.6l2.4 -.7l2.4 -.7l2.4 -.7l2.4 -.7l2.4 -.7l2.4 -.7l2.4 -.6l2.4 -.7l2.4 -.7l2.4 -.7l2.4 -.7l2.5 -.7l2.4 -.7l2.4 -.7l2.4 -.7l2.4 -.7l2.4 -.7l2.4 -.7l2.4 -.7l2.4 -.8l2.4 -.7l2.4 -.8l2.4 -.7l2.4 -.8l2.4 -.8l2.4 -.8l2.4 -.8l2.4 -.8l2.5 -.8l2.4 -.9l2.4 -.8l2.4 -.9l2.4 -.8l2.4 -.9l2.4 -.9l2.4 -.9l2.4 -.9l2.4 -.9l2.4 -1l2.4 -.9l2.4 -.9l2.4 -1l2.4 -.9l2.4 -1l2.4 -1l2.5 -.9l2.4 -1l2.4 -1l2.4 -1l2.4 -1l2.4 -1l2.4 -1l2.4 -1l2.4 -1l2.4 -1.1l2.4 -1l2.4 -1.1l2.4 -1.1l2.4 -1l2.4 -1.1l2.4 -1.2l2.5 -1.1l2.4 -1.1l2.4 -1.2l2.4 -1.2l2.4 -1.2l2.4 -1.3l2.4 -1.2l2.4 -1.3l2.4 -1.4l2.4 -1.3l2.4 -1.4l2.4 -1.4l2.4 -1.5l2.4 -1.4l2.4 -1.5l2.4 -1.5l2.4 -1.5l2.5 -1.6l2.4 -1.5l2.4 -1.6l2.4 -1.6l2.4 -1.6l2.4 -1.6l2.4 -1.6l2.4 -1.7l2.4 -1.6l2.4 -1.6l2.4 -1.7l2.4 -1.7l2.4 -1.7l2.4 -1.7l2.4 -1.8l2.4 -1.7l2.5 -1.8l2.4 -1.8l2.4 -1.8l2.4 -1.9l2.4 -1.8l2.4 -1.9l2.4 -1.8l2.4 -1.9l2.4 -1.8l2.4 -1.9l2.4 -1.8l2.4 -1.9l2.4 -1.9l2.4 -1.8l2.4 -1.8l2.4 -1.9l2.4 -1.8l2.5 -1.9l2.4 -1.8l2.4 -1.9l2.4 -1.9l2.4 -1.9l2.4 -1.8l2.4 -1.9l2.4 -1.9l2.4 -1.9l2.4 -1.9l2.4 -1.8l2.4 -1.9l2.4 -1.9l2.4 -1.8l2.4 -1.9l2.4 -1.8l2.4 -1.9l2.5 -1.8l2.4 -1.9l2.4 -2l2.4 -2l2.4 -2l2.4 -2.1l2.4 -2l2.4 -1.9l2.4 -1.7l2.4 -1.6l2.4 -1.3l2.4 -1.1l2.4 -1l2.4 -1.1l2.4 -1l2.4 -.9l2.5 -.9l2.4 -.7l2.4 -.7l2.4 -.4l2.4 -.3l2.4 0l2.4 .1l2.4 .1l2.4 0l2.4 .1l2.4 .2l2.4 .1l2.4 .1l2.4 .2l2.4 .1l2.4 .2l2.4 .2l2.5 .4l2.4 .6l2.4 .7l2.4 .8l2.4 1l2.4 1l2.4 1.1l2.4 1.1l2.4 1.1l2.4 1.2l2.4 1.4l2.4 1.5l2.4 1.8l2.4 1.9l2.4 1.9l2.4 2.1l2.4 2l2.5 2l2.4 1.9l2.4 1.8l2.4 1.7l2.4 1.7l2.4 1.7l2.4 1.7l2.4 1.7l2.4 1.6l2.4 1.7l2.4 1.7l2.4 1.7l2.4 1.7l2.4 1.7l2.4 1.7l2.4 1.8l2.5 1.8l2.4 1.8l2.4 1.8l2.4 1.9l2.4 1.8l2.4 1.9l2.4 1.9l2.4 1.9l2.4 1.9l2.4 1.9l2.4 1.9l2.4 2l2.4 1.9l2.4 2l2.4 1.9l2.4 2l2.4 1.9l2.5 2l2.4 1.9l2.4 2l2.4 1.9l2.4 2l2.4 1.9l2.4 2l2.4 1.9l2.4 2l2.4 1.9l2.4 1.9l2.4 1.9l2.4 1.9l2.4 1.9l2.4 1.9l2.4 1.8l2.4 1.9l2.5 1.8l2.4 1.8l2.4 1.8l2.4 1.8l2.4 1.7l2.4 1.8l2.4 1.7l2.4 1.7l2.4 1.6l2.4 1.7l2.4 1.6l2.4 1.6l2.4 1.5l2.4 1.6l2.4 1.5l2.4 1.4l2.4 1.5l2.5 1.4l2.4 1.3l2.4 1.4l2.4 1.3l2.4 1.2l2.4 1.2l2.4 1.1l2.4 1.1l2.4 1l2.4 1l2.4 1.1l2.4 1l2.4 1.1l2.4 1.1l2.4 1.1l2.4 1.1l2.5 1.2l2.4 1.1l2.4 1.1l2.4 1.2l2.4 1.1l2.4 1.1l2.4 1.2l2.4 1.1l2.4 1.1l2.4 1.1l2.4 1.1l2.4 1.1l2.4 1.1l2.4 1.1l2.4 1l2.4 1l2.4 1l2.5 1l2.4 1l2.4 .9l2.4 .9l2.4 .9l2.4 .8l2.4 .8l2.4 .8l2.4 .7l2.4 .7l2.4 .7l2.4 .6l2.4 .7l2.4 .6l2.4 .6l2.4 .6l2.4 .6l2.5 .5l2.4 .6l2.4 .5l2.4 .6l2.4 .5l2.4 .5l2.4 .5l2.4 .6l2.4 .5l2.4 .5l2.4 .5l2.4 .5l2.4 .6l2.4 .5l2.4 .6l2.4 .5l2.5 .6l2.4 .5l2.4 .6l2.4 .6l2.4 .6l2.4 .6l2.4 .6l2.4 .6l2.4 .6l2.4 .6l2.4 .6l2.4 .6l2.4 .6l2.4 .6l2.4 .6l2.4 .6l2.4 .6l2.5 .7l2.4 .6l2.4 .6l2.4 .6l2.4 .6l2.4 .6l2.4 .7l2.4 .6l2.4 .6l2.4 .6l2.4 .7l2.4 .6"/>
<path d="M301.2 953.0l2.4 -.7l2.4 -.7l2.4 -.6l2.4 -.7l2.4 -.7l2.4 -.7l2.4 -.7l2.4 -.6l2.4 -.7l2.4 -.7l2.4 -.7l2.5 -.7l2.4 -.6l2.4 -.7l2.4 -.7l2.4 -.7l2.4 -.6l2.4 -.7l2.4 -.7l2.4 -.6l2.4 -.7l2.4 -.7l2.4 -.7l2.4 -.6l2.4 -.7l2.4 -.6l2.4 -.6l2.4 -.7l2.5 -.6l2.4 -.6l2.4 -.7l2.4 -.6l2.4 -.6l2.4 -.7l2.4 -.6l2.4 -.7l2.4 -.7l2.4 -.6l2.4 -.7l2.4 -.7l2.4 -.8l2.4 -.7l2.4 -.8l2.4 -.7l2.4 -.8l2.5 -.8l2.4 -.8l2.4 -.8l2.4 -.9l2.4 -.8l2.4 -.9l2.4 -.8l2.4 -.9l2.4 -.9l2.4 -.9l2.4 -1l2.4 -.9l2.4 -1l2.4 -1l2.4 -1l2.4 -1l2.5 -1l2.4 -1.1l2.4 -1.1l2.4 -1.1l2.4 -1.1l2.4 -1.2l2.4 -1.3l2.4 -1.2l2.4 -1.3l2.4 -1.3l2.4 -1.3l2.4 -1.4l2.4 -1.3l2.4 -1.4l2.4 -1.4l2.4 -1.4l2.4 -1.4l2.5 -1.4l2.4 -1.4l2.4 -1.4l2.4 -1.4l2.4 -1.4l2.4 -1.4l2.4 -1.4l2.4 -1.4l2.4 -1.3l2.4 -1.4l2.4 -1.3l2.4 -1.4l2.4 -1.4l2.4 -1.3l2.4 -1.4l2.4 -1.4l2.5 -1.4l2.4 -1.4l2.4 -1.5l2.4 -1.4l2.4 -1.5l2.4 -1.5l2.4 -1.6l2.4 -1.5l2.4 -1.6l2.4 -1.7l2.4 -1.7l2.4 -1.7l2.4 -1.9l2.4 -1.9l2.4 -1.9l2.4 -2l2.4 -2.1l2.5 -2l2.4 -2.2l2.4 -2.1l2.4 -2.1l2.4 -2.2l2.4 -2.2l2.4 -2.1l2.4 -2.2l2.4 -2.1l2.4 -2.2l2.4 -2.1l2.4 -2l2.4 -2l2.4 -2l2.4 -1.9l2.4 -1.9l2.4 -2l2.5 -1.9l2.4 -2l2.4 -1.9l2.4 -2l2.4 -1.9l2.4 -1.9l2.4 -1.9l2.4 -1.9l2.4 -1.8l2.4 -1.9l2.4 -1.8l2.4 -1.7l2.4 -1.7l2.4 -1.7l2.4 -1.6l2.4 -1.5l2.5 -1.6l2.4 -1.4l2.4 -1.4l2.4 -1.4l2.4 -1.4l2.4 -1.4l2.4 -1.3l2.4 -1.3l2.4 -1.1l2.4 -1.1l2.4 -.9l2.4 -.8l2.4 -.7l2.4 -.7l2.4 -.7l2.4 -.7l2.4 -.6l2.5 -.6l2.4 -.4l2.4 -.4l2.4 -.3l2.4 -.1l2.4 0l2.4 .2l2.4 .3l2.4 .5l2.4 .5l2.4 .7l2.4 .7l2.4 .8l2.4 .8l2.4 .9l2.4 .9l2.4 1.1l2.5 1.4l2.4 1.6l2.4 1.8l2.4 1.9l2.4 1.9l2.4 1.9l2.4 1.8l2.4 1.7l2.4 1.7l.7 .6l.7 .5l.8 .5l.2 .2l.5 .3l.7 .6l.7 .5l.5 .3l.3 .2l.7 .5l.7 .5l.7 .6l.7 .5l.8 .5l.7 .5l.2 .2l.5 .3l.7 .5l.8 .5l.4 .3l.3 .2l.7 .5l.7 .4l.7 .5l.8 .4l.7 .4l.7 .3l.2 .1l.5 .2l.7 .2l.8 .2l.4 0l.3 0l.7 -.1l.7 -.3l.8 -.4l.7 -.7l.7 -.9l.7 -1.2l.3 -.4l.4 -1l.8 -1.8l.7 -2l.5 -1.6l.2 -.8l.7 -2.6l.8 -2.9l.7 -3.1l.7 -3.2l.7 -3.3l.7 -3.2l.3 -1.1l.5 -2l.7 -2.8l.6 -2.1l.1 -.4l.5 -1.4l.1 -.3l.1 -.3l.6 -1.2l.1 -.1l.6 -.7l.2 0l.6 -.1l.1 .1l.6 .6l.1 .2l.6 1.2l.1 .3l.6 1.8l.2 .4l.2 .9l.4 1.4l.1 .5l.6 2.7l.1 .5l.6 3l.1 .6l.5 2.6l.1 .6l.1 .7l.6 3.3l.2 .6l.6 3.3l.1 .7l.6 3.2l.1 .7l.6 3l.1 .6l.6 2.9l.2 .6l.6 2.7l.1 .5l.2 .9l.4 1.4l.1 .5l.6 2.1l.1 .4l.6 1.7l.1 .4l.5 1.2l.1 .3l.2 .2l.6 1.2l.1 .2l.6 1l.1 .1l.6 .7l.1 .1l.6 .5l.1 0l.7 .3l.1 0l.6 .1l.1 0l.2 -.1l.4 0l.1 -.1l.6 -.2l.1 -.1l.6 -.3l.2 -.1l.4 -.4l.2 -.1l.1 -.1l.6 -.5l.1 -.1l.6 -.6l.1 -.2l.6 -.6l.1 -.2l.6 -.7l.2 -.1l.6 -.7l.1 -.2l.6 -.7l.1 -.1l.3 -.3l.3 -.4l.1 -.2l.6 -.7l.2 -.1l.6 -.7l.1 -.1l.5 -.5l.1 -.1l.1 -.2l.6 -.5l.1 -.1l.6 -.5l.1 -.1l.6 -.3l.2 -.1l.6 -.2l.1 -.1l.6 -.1l.1 0l.6 0l.1 0l.3 .1l.3 .1l.2 .1l.6 .4l.1 0l.6 .6l.1 .1l.5 .6l.1 .1l.1 .2l.6 .8l.1 .2l.6 1.1l.2 .2l.6 1.2l.1 .3l.6 1.3l.7 1.8l.7 1.9l.4 1l.3 1l.8 2.2l.7 2.2l.6 1.8l.1 .4l.7 2.3l.8 2.4l.7 2.4l.1 .3l.6 2l.7 2.4l.7 2.3l.4 1.1l.4 1.2l.7 2.2l.7 2.3l.6 1.8l.1 .3l.8 2.1l.7 2.1l.7 2l.1 .3l.6 1.6l.7 1.9l.8 1.8l.3 .9l.4 .8l.7 1.7l.7 1.6l.6 1.3l.2 .3l.7 1.5l.7 1.4l.7 1.4l.1 .2l.6 1.1l.8 1.3l.7 1.2l.3 .6l.4 .6l.7 1.2l.7 1.1l.6 .9l.2 .1l.7 1.1l.7 .9l.7 1l.2 .2l.6 .7l.7 .9l.7 .9l.4 .5l.3 .4l.7 .8l.8 .9l.6 .6l2.4 2.6l2.4 2.4l2.4 2.3l2.4 2.3l2.4 2.1l2.4 2.1l2.4 2l2.4 1.9l2.4 1.8l2.4 1.8l2.4 1.7l2.4 1.6l2.4 1.6l2.4 1.4l2.5 1.4l2.4 1.2l2.4 1.1l1.2 .4l.7 .3l.5 .2l.2 0l.7 .3l.8 .2l.7 .1l.7 .2l.7 .1l.7 .1l.3 0l.5 .1l.7 0l.7 0l.5 -.1l.2 0l.8 -.1l.7 -.1l.7 -.2l.7 -.3l.7 -.3l.8 -.4l.2 -.1l.5 -.3l.7 -.5l.7 -.6l.5 -.4l.3 -.3l.7 -.7l.7 -.8l.7 -.9l.7 -1l.8 -1.1l.7 -1.1l.2 -.4l.5 -.9l.7 -1.3l.7 -1.3l.5 -1l.3 -.5l.7 -1.5l.7 -1.6l.7 -1.6l.8 -1.7l.7 -1.7l.7 -1.7l.2 -.6l.5 -1.1l.7 -1.7l.8 -1.7l.4 -1l.3 -.5l.7 -1.5l.7 -1.3l.8 -1.1l.7 -.9l.7 -.8l.7 -.4l.3 -.1l.4 -.1l.8 0l.7 .4l.5 .4l.2 .3l.7 .9l.7 1.1l.8 1.4l.7 1.6l.7 1.8l.7 1.9l.3 .6l.5 1.4l.7 2.1l.7 2.1l.5 1.4l.2 .8l.7 2.1l.8 2.2l.7 2.1l.7 2.1l.7 2l.8 2l.2 .7l.5 1.2l.7 1.9l.7 1.8l.5 1.1l.2 .5l.8 1.7l.7 1.5l.7 1.4l.7 1.4l.7 1.3l.8 1.2l.2 .4l.5 .8l.7 1l.7 1.1l.5 .6l.3 .3l.7 .9l.7 .8l.7 .8l.7 .7l.8 .7l.7 .6l.2 .2l.5 .4l.7 .6l.8 .5l.4 .3l.3 .2l.7 .5l.7 .4l.7 .4l.8 .4l.7 .4l.7 .4l.2 .1l.5 .2l.8 .4l1.2 .5l2.4 1l2.4 .9l2.4 .8l2.4 .8l2.4 .8l2.4 .7l2.4 .7l2.4 .7l2.4 .7l2.4 .6l2.4 .7l2.4 .6l2.4 .7l2.4 .6l2.4 .7l2.5 .7l2.4 .6l2.4 .7l2.4 .7l2.4 .6l2.4 .7l2.4 .7l2.4 .7l2.4 .6l2.4 .7l2.4 .7l2.4 .6l2.4 .7l2.4 .7l2.4 .6l2.4 .7l2.4 .7l2.5 .6l2.4 .7l2.4 .6l2.4 .7l2.4 .6l2.4 .7l2.4 .6l2.4 .6l2.4 .7l2.4 .6l2.4 .6l2.4 .7l2.4 .6l2.4 .6l2.4 .6l2.4 .6l2.4 .7l2.5 .6l2.4 .6l2.4 .6l2.4 .6l2.4 .6l2.4 .6l2.4 .6l2.4 .6l2.4 .6l2.4 .6l2.4 .6l2.4 .6l2.4 .6l2.4 .6l2.4 .6l2.4 .6l2.4 .6l2.5 .6l2.4 .6l2.4 .5l2.4 .6l2.4 .6"/>
<path d="M310.0 1011.6l2.4 -.2l2.5 -.2l2.4 -.2l2.4 -.3l2.4 -.3l2.4 -.4l2.4 -.4l2.4 -.4l2.4 -.4l2.4 -.5l2.4 -.5l2.4 -.5l2.4 -.5l2.4 -.6l2.4 -.5l2.4 -.6l2.4 -.6l2.4 -.6l2.5 -.6l2.4 -.7l2.4 -.8l2.4 -.8l2.4 -.9l2.4 -1l2.4 -1l2.4 -1l2.4 -1l2.4 -1l2.4 -.9l2.4 -1l2.4 -.9l2.4 -1l2.4 -1l2.4 -1l2.4 -1.1l2.5 -1l2.4 -1.1l2.4 -1l2.4 -.9l2.4 -.9l2.4 -.9l2.4 -.7l2.4 -.6l2.4 -.6l2.4 -.4l2.4 -.5l2.4 -.3l2.4 -.4l2.4 -.3l2.4 -.3l2.4 -.2l2.5 -.3l2.4 -.3l2.4 -.2l2.4 -.3l2.4 -.4l2.4 -.3l2.4 -.4l2.4 -.4l2.4 -.5l2.4 -.6l2.4 -.7l2.4 -.8l2.4 -.8l2.4 -1l2.4 -1l2.4 -1.1l2.4 -1.1l2.5 -1.2l2.4 -1.2l2.4 -1.2l2.4 -1.2l2.4 -1.2l2.4 -1.2l2.4 -1.2l2.4 -1.2l2.4 -1.1l2.4 -1.2l2.4 -1.3l2.4 -1.2l2.4 -1.2l2.4 -1.3l2.4 -1.3l2.4 -1.3l2.4 -1.3l2.5 -1.3l2.4 -1.3l2.4 -1.4l2.4 -1.4l2.4 -1.4l2.4 -1.4l2.4 -1.4l2.4 -1.4l2.4 -1.5l2.4 -1.4l2.4 -1.5l2.4 -1.6l2.4 -1.6l2.4 -1.6l2.4 -1.6l2.4 -1.6l2.5 -1.7l2.4 -1.7l2.4 -1.8l2.4 -1.7l2.4 -1.7l2.4 -1.8l2.4 -1.7l2.4 -1.8l2.4 -1.7l2.4 -1.8l2.4 -1.7l2.4 -1.7l2.4 -1.7l2.4 -1.7l2.4 -1.7l2.4 -1.7l2.4 -1.7l2.5 -1.8l2.4 -1.7l2.4 -1.7l2.4 -1.7l2.4 -1.8l2.4 -1.7l2.4 -1.7l2.4 -1.7l2.4 -1.7l2.4 -1.7l2.4 -1.7l2.4 -1.7l2.4 -1.6l2.4 -1.6l2.4 -1.6l2.4 -1.6l2.4 -1.6l2.5 -1.6l2.4 -1.6l2.4 -1.6l2.4 -1.7l2.4 -1.6l2.4 -1.7l2.4 -1.6l2.4 -1.5l2.4 -1.5l2.4 -1.4l2.4 -1.3l2.4 -1.3l2.4 -1.1l2.4 -1l2.4 -.9l2.4 -.8l2.5 -.9l2.4 -.8l2.4 -.9l2.4 -.8l2.4 -.8l2.4 -.8l2.4 -.7l2.4 -.7l2.4 -.6l2.4 -.6l2.4 -.6l2.4 -.5l2.4 -.4l2.4 -.3l2.4 -.3l2.4 -.1l2.4 -.1l2.5 0l2.4 .2l2.4 .3l2.4 .4l2.4 .5l2.4 .5l2.4 .5l2.4 .4l2.4 .5l2.4 .4l2.4 .3l2.4 .2l2.4 .3l2.4 .1l2.4 .2l2.4 .1l2.4 .1l2.5 .1l.9 0l.7 0l.7 0l.1 0l.6 -.1l.7 0l.8 0l.3 -.1l.4 0l.7 -.1l.7 -.1l.6 -.1l.2 -.1l.7 -.2l.7 -.3l.7 -.4l.1 0l.6 -.5l.8 -.6l.7 -.8l.3 -.4l.4 -.6l.7 -1.3l.8 -1.6l.5 -1.4l.2 -.5l.7 -2.4l.7 -2.9l.7 -3.5l.1 -.3l.7 -3.8l.7 -4.9l.7 -5.8l.3 -2.7l.4 -4l.7 -7.8l.8 -8.9l.5 -7.4l.2 -2.6l.7 -11.3l.7 -12.6l.8 -13.8l0 -1.2l.7 -13.9l.7 -16.3l.7 -17.4l.3 -7.5l.4 -10.8l.8 -19.2l.7 -19.7l.5 -15.1l.2 -5l.7 -20.2l.8 -19.9l.7 -19.2l0 -1.6l.7 -16.7l.7 -16.9l.7 -15.1l.3 -5.7l.3 -5.3l.2 -2l.6 -8.9l.1 -1.6l.6 -6.6l.1 -1l.5 -3.8l.1 -.3l.1 -.6l.6 -1.4l.1 0l.6 1.3l.2 .5l.6 4l.1 1l.1 .6l.5 5.9l.1 1.5l.6 8.9l.1 2l.6 10.9l.2 2.4l.3 6.2l.3 6.5l.1 2.7l.6 14.2l.1 3l.6 15.4l.1 3.1l.6 14.6l0 1.6l.1 3.3l.6 16.7l.2 3.4l.6 16.9l.1 3.4l.6 16.8l.1 3.4l.1 1.7l.5 14.8l.1 3.3l.6 16l.2 3.1l.6 15.4l.1 2.9l.3 7.4l.3 7.1l.1 2.8l.6 13.5l.1 2.6l.6 12.5l.1 2.3l.6 10.3l0 1.1l.2 2.2l.6 10.2l.1 1.9l.6 9.2l.1 1.7l.6 8l.1 1.5l.1 .8l.5 6.2l.1 1.3l.7 6l.1 1.1l.6 5.1l.1 1l.3 2.2l.3 2l.1 .8l.6 3.5l.1 .6l.6 2.8l.2 .5l.5 2l.1 .2l.1 .4l.6 1.7l.1 .3l.6 1.2l.1 .2l.6 .8l.1 .2l.1 0l.5 .5l.2 .1l.6 .3l.1 0l.6 .2l.1 0l.3 0l.3 -.1l.1 0l.6 -.1l.2 0l.6 -.2l.1 0l.5 -.2l.1 0l.1 0l.6 -.2l.1 0l.6 -.1l.1 0l.6 .1l.2 0l.6 .1l.1 .1l.6 .2l.1 .1l.6 .5l.1 .1l.3 .2l.3 .4l.2 .1l.6 .8l.1 .1l.6 1l.1 .2l.5 1l.1 .1l.1 .3l.6 1.2l.1 .3l.6 1.4l.8 1.9l.1 .5l.6 1.5l.7 2.1l.7 2.3l.4 1.3l.3 1l.8 2.4l.7 2.4l.7 2.2l0 .2l.7 2.5l.8 2.5l.7 2.4l.2 .6l.5 1.9l.7 2.3l.7 2.4l.5 1.3l.3 1l.7 2.2l.7 2.2l.7 2l0 .2l.8 2l.7 2l.7 2l.2 .4l.5 1.4l.7 1.8l.8 1.7l.4 1l.3 .7l.7 1.6l.7 1.5l.7 1.3l.1 .1l.7 1.4l.7 1.4l.7 1.3l.2 .3l.5 .9l.8 1.2l.7 1.1l.4 .7l.3 .4l.7 1.1l.7 1l.7 .9l.1 .1l.7 1l.7 .9l.7 .9l.2 .2l.6 .7l.7 .8l.7 .8l.4 .5l.3 .3l2.1 2.3l2.4 2.4l2.4 2.3l2.4 2.2l2.4 2.1l2.5 2.1l2.4 1.9l2.4 1.9l2.4 1.8l2.4 1.8l2.4 1.7l2.4 1.6l2.4 1.5l2.4 1.4l2.4 1.4l2.4 1.2l2.4 1.1l2.4 .9l2.4 .7l.6 .2l.8 .1l.7 .2l.3 0l.4 .1l.7 0l.7 .1l.6 0l.2 0l.7 -.1l.7 0l.7 -.2l.2 0l.6 -.2l.7 -.2l.7 -.3l.4 -.2l.3 -.1l.7 -.5l.8 -.5l.6 -.4l.1 -.1l.7 -.7l.7 -.7l.7 -.9l.2 -.1l.6 -.8l.7 -1l.7 -1.2l.4 -.6l.3 -.6l.8 -1.4l.7 -1.5l.6 -1.4l.1 -.2l.7 -1.8l.7 -1.8l.8 -2l.1 -.4l.6 -1.7l.7 -2.2l.7 -2.4l.4 -1.2l.4 -1.2l.7 -2.5l.7 -2.6l.6 -2.2l.1 -.5l.7 -2.7l.8 -2.7l.7 -2.7l.1 -.5l.6 -2.2l.7 -2.5l.8 -2.5l.3 -1.2l.4 -1.1l.7 -2.1l.7 -1.8l.6 -1.3l.1 -.2l.8 -1.1l.7 -.8l.7 -.4l.1 0l.6 .1l.7 .5l.8 1l.3 .7l.4 .7l.7 1.8l.7 2.1l.6 2l.2 .4l.7 2.7l.7 2.9l.7 3.1l.1 .5l.6 2.7l.8 3.2l.7 3.3l.3 1.7l.4 1.7l.7 3.3l.8 3.3l.6 2.6l.1 .6l.7 3.1l.7 3l.7 3l.2 .5l.6 2.3l.7 2.7l.7 2.6l.4 1.3l.3 1.2l.7 2.4l.8 2.2l.6 1.8l.1 .3l.7 2l.7 1.9l.8 1.8l.1 .3l.6 1.3l.7 1.6l.7 1.4l.4 .7l.3 .7l.8 1.3l.7 1.2l.6 .9l.1 .2l.7 1l.8 1l.7 .9l.1 .2l.6 .7l.7 .8l.7 .8l.4 .3l.4 .4l.7 .7l.7 .6l.6 .6l.1 .1l.8 .6l.7 .5l.7 .6l.1 0l.6 .5l1.8 1.2l2.4 1.5l2.4 1.4l2.4 1.2l2.4 1.2l2.5 1.2l2.4 1.1l2.4 1l2.4 1l2.4 1l2.4 1l2.4 .9l2.4 .9l2.4 .9l2.4 .9l2.4 .9l2.4 .8l2.4 .8l2.4 .9l2.4 .8l2.4 .8l2.4 .7l2.5 .8l2.4 .7l2.4 .7l2.4 .7l2.4 .7l2.4 .7l2.4 .7l2.4 .7l2.4 .6l2.4 .7l2.4 .7l2.4 .6l2.4 .6l2.4 .7l2.4 .6l2.4 .7l2.4 .6l2.5 .6l2.4 .7l2.4 .6l2.4 .7l2.4 .6l2.4 .6l2.4 .7l2.4 .6l2.4 .7l2.4 .6l2.4 .6l2.4 .7l2.4 .6l2.4 .7l2.4 .6l2.4 .6l2.4 .6l2.5 .7l2.4 .6l2.4 .6l2.4 .6l2.4 .7l2.4 .6l2.4 .6l2.4 .6l2.4 .6l2.4 .6l2.4 .7l2.4 .6l2.4 .6l2.4 .6l2.4 .6"/>
<path d="M318.9 1074.0l2.4 0l2.4 -.1l2.4 -.1l2.4 -.2l2.4 -.2l2.4 -.3l2.4 -.3l2.4 -.4l2.5 -.4l2.4 -.4l2.4 -.5l2.4 -.5l2.4 -.6l2.4 -.5l2.4 -.6l2.4 -.7l2.4 -.6l2.4 -.6l2.4 -.7l2.4 -.7l2.4 -.7l2.4 -.7l2.4 -.8l2.4 -1l2.4 -1.1l2.5 -1.3l2.4 -1.3l2.4 -1.4l2.4 -1.4l2.4 -1.3l2.4 -1.2l2.4 -1.2l2.4 -1.2l2.4 -1.2l2.4 -1.4l2.4 -1.3l2.4 -1.3l2.4 -1.3l2.4 -1.1l2.4 -1l2.4 -.9l2.5 -.6l2.4 -.3l2.4 -.1l2.4 .2l2.4 .2l2.4 .4l2.4 .4l2.4 .5l2.4 .6l2.4 .5l2.4 .5l2.4 .5l2.4 .4l2.4 .3l2.4 .2l2.4 0l2.4 0l2.5 0l2.4 -.1l2.4 -.1l2.4 -.1l2.4 -.2l2.4 -.1l2.4 -.2l2.4 -.2l2.4 -.2l2.4 -.3l2.4 -.4l2.4 -.5l2.4 -.6l2.4 -.7l2.4 -.7l2.4 -.8l2.4 -.9l2.5 -.9l2.4 -.9l2.4 -.9l2.4 -.9l2.4 -.9l2.4 -.9l2.4 -.9l2.4 -.9l2.4 -1l2.4 -1l2.4 -1.1l2.4 -1.1l2.4 -1.1l2.4 -1.1l2.4 -1.2l2.4 -1.1l2.5 -1.3l2.4 -1.2l2.4 -1.2l2.4 -1.3l2.4 -1.2l2.4 -1.3l2.4 -1.3l2.4 -1.4l2.4 -1.4l2.4 -1.5l2.4 -1.4l2.4 -1.5l2.4 -1.5l2.4 -1.5l2.4 -1.5l2.4 -1.5l2.4 -1.5l2.5 -1.5l2.4 -1.4l2.4 -1.4l2.4 -1.4l2.4 -1.4l2.4 -1.4l2.4 -1.3l2.4 -1.4l2.4 -1.3l2.4 -1.4l2.4 -1.3l2.4 -1.4l2.4 -1.3l2.4 -1.3l2.4 -1.3l2.4 -1.3l2.4 -1.3l2.5 -1.3l2.4 -1.3l2.4 -1.3l2.4 -1.3l2.4 -1.2l2.4 -1.3l2.4 -1.3l2.4 -1.2l2.4 -1.3l2.4 -1.3l2.4 -1.3l2.4 -1.3l2.4 -1.3l2.4 -1.3l2.4 -1.3l2.4 -1.2l2.5 -1.3l2.4 -1.2l2.4 -1.2l2.4 -1.2l2.4 -1.1l2.4 -1.1l2.4 -1.1l2.4 -1.1l2.4 -1l2.4 -.9l2.4 -.9l2.4 -.9l2.4 -.9l2.4 -.8l2.4 -.8l2.4 -.8l2.4 -.8l2.5 -.7l2.4 -.8l2.4 -.8l2.4 -.7l2.4 -.8l2.4 -.7l2.4 -.8l2.4 -.8l2.4 -.8l2.4 -.7l2.4 -.8l2.4 -.7l2.4 -.7l2.4 -.8l2.4 -.8l2.4 -.8l2.4 -.8l2.5 -1l2.4 -.9l2.4 -1.1l2.4 -1.1l2.4 -1.5l2.4 -1.8l2.4 -1.9l2.4 -1.9l2.4 -1.9l2.4 -1.7l2.4 -1.4l1.7 -.7l.7 -.3l.7 -.3l.8 -.4l.7 -.3l.2 -.1l.5 -.3l.7 -.3l.8 -.4l.4 -.3l.3 -.2l.7 -.5l.7 -.5l.7 -.6l.8 -.8l.7 -.8l.7 -1l.2 -.4l.5 -.9l.7 -1.5l.8 -1.8l.5 -1.5l.2 -.8l.7 -2.9l.7 -3.5l.8 -4.4l.7 -5.4l.7 -6.6l.7 -8.1l.3 -3.1l.4 -6.7l.8 -11.8l.7 -14l.5 -10.7l.2 -5.8l.7 -19.4l.8 -22.4l.7 -25.6l.7 -29.1l.7 -32.6l.7 -36.1l.3 -12.8l.5 -26.8l.7 -42.7l.7 -45.6l.5 -31.8l.2 -16.2l.8 -49.8l.7 -50.8l.7 -51l.7 -50.2l.7 -48.3l.8 -45.3l.2 -14.2l.5 -26.8l.6 -30l.1 -5.5l.6 -24.7l.1 -4.4l.5 -15.2l.1 -3.2l.1 -3.1l.6 -11.6l.2 -1.5l.6 -4.3l.1 -.1l.6 3.2l.1 1.4l.6 10.7l.1 2.8l.6 17.6l.2 4.2l.6 23.9l.1 5.4l.2 11.2l.4 18.2l.1 6.4l.6 34l.1 7.2l.6 37.6l.1 7.8l.5 32.1l.1 8.1l.2 8.3l.6 41.8l.1 8.5l.6 42.5l.1 8.5l.6 42.5l.1 8.4l.6 41.6l.2 8.1l.6 40.1l.1 7.9l.6 38.1l.1 7.3l.2 14.6l.4 21.1l.1 6.9l.6 33l.1 6.3l.6 30l.2 5.8l.4 21.8l.2 5.2l.1 5.2l.6 24.1l.1 4.5l.6 21.1l.1 4l.6 18.4l.1 3.4l.6 15.7l.2 2.9l.6 13.4l.1 2.4l.6 11.2l.1 2l.3 3.9l.3 5.3l.1 1.7l.6 7.5l.2 1.4l.6 6l.1 1l.5 3.9l.1 .9l.1 .8l.6 3.7l.1 .6l.6 2.8l.1 .5l.6 2l.2 .4l.6 1.4l.1 .2l.6 1l.1 .2l.6 .6l.1 .1l.3 .1l.3 .2l.2 .1l.6 .1l.1 0l.6 .1l.1 0l.5 -.1l.1 0l.1 0l.6 0l.1 -.1l.6 0l.2 0l.6 .1l.1 0l.6 .1l.1 0l.6 .3l.1 .1l.6 .4l.1 .1l.3 .2l.4 .3l.1 .2l.6 .7l.1 .2l.6 .9l.1 .2l.5 .9l.1 .2l.1 .3l.6 1.2l.2 .3l.6 1.5l.1 .3l.6 1.6l.1 .3l.6 1.8l.7 2.2l.7 2.3l.4 1.3l.4 1.2l.7 2.6l.7 2.6l.6 2.2l.1 .4l.8 2.7l.7 2.7l.7 2.7l.1 .4l.6 2.2l.7 2.7l.8 2.6l.3 1.2l.4 1.3l.7 2.5l.7 2.4l.6 2l.2 .4l.7 2.3l.7 2.2l.7 2.2l.1 .3l.6 1.8l.8 2l.7 1.9l.3 .9l.4 .9l.7 1.8l.7 1.7l.6 1.4l.2 .2l.7 1.6l.7 1.5l.7 1.4l.2 .2l.6 1.2l.7 1.3l.7 1.3l.4 .6l.3 .6l.7 1.1l.8 1.1l.6 .9l.1 .2l.7 1l.7 1l.8 1l.1 .1l.6 .8l.7 .9l.7 .9l.4 .4l.3 .4l.8 .8l1.3 1.5l2.4 2.4l2.4 2.3l2.4 2.1l2.4 2l2.4 1.9l2.4 1.8l2.4 1.6l2.4 1.5l2.4 1.3l2.4 1.2l2.5 1l2.4 .9l2.4 .7l2.4 .4l2.4 .2l2.4 -.1l2.4 -.5l2.4 -.9l2.4 -1.4l.7 -.5l.7 -.7l.8 -.7l.2 -.2l.5 -.6l.7 -.8l.7 -1l.5 -.7l.3 -.4l.7 -1.3l.7 -1.3l.7 -1.6l.7 -1.7l.8 -1.9l.7 -2.2l.2 -.7l.5 -1.6l.7 -2.7l.7 -2.9l.5 -2.1l.3 -1.1l.7 -3.6l.7 -3.9l.7 -4.3l.8 -4.6l.7 -5.2l.7 -5.5l.2 -2l.5 -4.1l.7 -6.5l.8 -7l.4 -5l.3 -2.5l.7 -8.1l.7 -8.6l.8 -9l.7 -9.6l.7 -10.1l.7 -10.5l.3 -3.6l.4 -7.3l.8 -11.3l.7 -11.6l.5 -7.9l.2 -3.9l.7 -12l.8 -12l.7 -11.8l.7 -11.6l.7 -11.1l.7 -10.5l.3 -3.3l.5 -6.4l.7 -8.6l.7 -7.3l.5 -4.1l.2 -1.8l.7 -4.3l.8 -2.5l.7 -.6l.7 .6l.7 1.4l.8 2.1l.2 .8l.5 1.9l.7 3.4l.7 4l.5 3l.2 1.6l.8 5.1l.7 5.6l.7 6l.7 6.4l.8 6.8l.7 7l.2 2.4l.5 4.9l.7 7.5l.7 7.6l.5 5.2l.3 2.6l.7 7.8l.7 7.8l.7 7.9l.7 7.8l.8 7.8l.7 7.7l.2 2.6l.5 5l.7 7.5l.8 7.4l.4 4.8l.3 2.4l.7 7.1l.7 6.9l.7 6.8l.8 6.6l.7 6.3l.7 6.2l.3 2l.4 4l.8 5.8l.7 5.6l.5 3.6l.2 1.8l.7 5.2l.7 5l.8 4.9l.7 4.6l.7 4.4l.7 4.3l.3 1.3l.4 2.7l.8 3.9l.7 3.7l.5 2.4l.2 1.2l.7 3.4l.8 3.2l.7 3.1l2.4 9.2l2.4 7.8l2.4 6.6l2.4 5.6l2.4 4.8l2.4 4l2.4 3.6l2.4 3.1l2.4 2.7l2.4 2.5l2.4 2.2l2.5 2.1l2.4 1.8l2.4 1.8l2.4 1.6l2.4 1.6l2.4 1.5l2.4 1.3l2.4 1.4l2.4 1.2l2.4 1.2l2.4 1.2l2.4 1.1l2.4 1l2.4 1.1l2.4 .9l2.4 1l2.4 .9l2.5 .9l2.4 .8l2.4 .9l2.4 .8l2.4 .7l2.4 .8l2.4 .7l2.4 .7l2.4 .7l2.4 .7l2.4 .6l2.4 .6l2.4 .6l2.4 .6l2.4 .6l2.4 .6l2.4 .5l2.5 .5l2.4 .6l2.4 .5l2.4 .5l2.4 .4l2.4 .5l2.4 .5l2.4 .4l2.4 .5l2.4 .4l2.4 .5l2.4 .4l2.4 .4l2.4 .4l2.4 .4l2.4 .4l2.5 .4l2.4 .3l2.4 .4l2.4 .3l2.4 .4l2.4 .3l2.4 .3l2.4 .3l2.4 .3"/>
<path d="M327.8 1127.5l2.4 0l2.4 -.1l2.4 -.1l2.4 -.1l2.4 -.2l2.4 -.3l2.4 -.2l2.4 -.4l2.4 -.3l2.4 -.4l2.4 -.4l2.4 -.5l2.4 -.5l2.4 -.5l2.4 -.5l2.5 -.6l2.4 -.5l2.4 -.6l2.4 -.7l2.4 -.6l2.4 -.7l2.4 -.7l2.4 -1.1l2.4 -1.2l2.4 -1.4l2.4 -1.6l2.4 -1.5l2.4 -1.6l2.4 -1.4l2.4 -1.4l2.4 -1.2l2.5 -1.4l2.4 -1.5l2.4 -1.4l2.4 -1.5l2.4 -1.4l2.4 -1.3l2.4 -1.1l2.4 -1l2.4 -.8l2.4 -.4l2.4 -.2l2.4 .1l2.4 .2l2.4 .3l2.4 .3l2.4 .4l2.4 .4l2.5 .4l2.4 .3l2.4 .3l2.4 .4l2.4 .4l2.4 .5l2.4 .4l2.4 .4l2.4 .3l2.4 .3l2.4 .3l2.4 .1l2.4 .1l2.4 0l2.4 -.2l2.4 -.1l2.5 -.3l2.4 -.3l2.4 -.4l2.4 -.4l2.4 -.5l2.4 -.5l2.4 -.5l2.4 -.6l2.4 -.6l2.4 -.5l2.4 -.6l2.4 -.6l2.4 -.6l2.4 -.5l2.4 -.6l2.4 -.7l2.4 -.6l2.5 -.7l2.4 -.7l2.4 -.8l2.4 -.8l2.4 -.8l2.4 -.8l2.4 -.9l2.4 -.9l2.4 -.9l2.4 -.9l2.4 -1l2.4 -.9l2.4 -1l2.4 -1l2.4 -1l2.4 -1l2.4 -1.1l2.5 -1l2.4 -1.2l2.4 -1.1l2.4 -1.2l2.4 -1.3l2.4 -1.3l2.4 -1.3l2.4 -1.3l2.4 -1.4l2.4 -1.4l2.4 -1.4l2.4 -1.4l2.4 -1.4l2.4 -1.4l2.4 -1.5l2.4 -1.4l2.4 -1.4l2.5 -1.4l2.4 -1.4l2.4 -1.4l2.4 -1.4l2.4 -1.5l2.4 -1.5l2.4 -1.5l2.4 -1.5l2.4 -1.5l2.4 -1.6l2.4 -1.5l2.4 -1.6l2.4 -1.5l2.4 -1.5l2.4 -1.5l2.4 -1.5l2.5 -1.4l2.4 -1.4l2.4 -1.4l2.4 -1.3l2.4 -1.2l2.4 -1.2l2.4 -1.1l2.4 -1.1l2.4 -1.1l2.4 -1.1l2.4 -1l2.4 -1l2.4 -1l2.4 -1l2.4 -.9l2.4 -1l2.4 -.9l2.5 -.9l2.4 -1l2.4 -.9l2.4 -.9l2.4 -.9l2.4 -.8l2.4 -.9l2.4 -.9l2.4 -.9l2.4 -.9l2.4 -.9l2.4 -.8l2.4 -.8l2.4 -.8l2.4 -.7l2.4 -.8l2.4 -.8l2.5 -.8l2.4 -.9l2.4 -.8l2.4 -1l2.4 -.9l2.4 -1.1l2.4 -1l2.4 -1.2l2.4 -1.3l2.4 -1.4l2.4 -1.7l2.4 -2.1l2.4 -2.4l2.4 -2.5l2.4 -2.5l2.4 -2.2l2.5 -1.9l2.4 -1.4l2.4 -1.2l2.4 -1.4l2.4 -1.5l1.3 -.9l.7 -.6l.4 -.3l.3 -.3l.8 -.6l.7 -.7l.6 -.6l.1 -.2l.7 -.8l.8 -.9l.7 -1l.1 -.2l.6 -1l.7 -1.3l.7 -1.5l.4 -.8l.4 -.9l.7 -2l.7 -2.4l.6 -2.3l.1 -.5l.7 -3.3l.8 -4l.7 -4.7l.1 -.8l.6 -4.7l.7 -6.6l.8 -7.8l.3 -4.4l.4 -4.7l.7 -10.8l.7 -12.5l.6 -12l.1 -2.5l.8 -16.8l.7 -19.1l.7 -21.8l.1 -3.8l.6 -20.7l.8 -27.4l.7 -30.4l.3 -16.3l.4 -17.1l.7 -36.5l.7 -39.3l.6 -34.8l.2 -7.2l.7 -44.5l.7 -46.5l.7 -48.2l.1 -8.1l.6 -41.1l.8 -49.6l.7 -49.3l.4 -24.2l.3 -23.8l.7 -45.9l.8 -42.8l.6 -32.5l.1 -6.1l.6 -28.2l.1 -5.2l.6 -23.1l.1 -4.1l.6 -17.3l.1 -2.8l.2 -2.6l.4 -8.2l.2 -1.5l.6 -4l.1 -.1l.6 3l.1 1.3l.4 5.3l.2 4.6l.1 2.6l.6 16.4l.2 3.9l.6 22.4l.1 5l.6 27.6l.1 5.9l.6 32l.1 6.8l.6 35.5l.1 7.4l.6 38.1l.2 7.8l.1 7.9l.5 32.1l.1 8.1l.6 41l.1 8.3l.6 41.3l.1 8.2l.4 24.6l.2 16.4l.2 8.1l.6 40.1l.1 7.9l.6 38.7l.1 7.6l.6 37l.1 7.2l.6 34.9l.1 6.7l.6 32.6l.2 6.3l.6 30.1l.1 5.8l.1 5.7l.5 21.9l.1 5.3l.6 25l.1 4.7l.6 22.5l.1 4.2l.4 12.2l.2 7.8l.2 3.7l.6 17.6l.1 3.3l.6 15.3l.1 2.9l.6 13.2l.1 2.5l.6 11.3l.2 2.1l.6 9.7l.1 1.7l.6 8.1l.1 1.5l.1 1.4l.5 5.3l.1 1.2l.6 5.5l.1 1l.6 4.5l.2 .8l.3 2.2l.3 1.4l.1 .6l.6 2.9l.1 .5l.6 2.2l.1 .4l.6 1.8l.2 .3l.6 1.4l.1 .2l.6 1.1l.1 .2l.6 .8l.1 .2l.1 .1l.5 .6l.1 .1l.6 .6l.2 .2l.6 .6l.1 .1l.3 .4l.3 .2l.1 .1l.6 .7l.1 .2l.6 .8l.1 .2l.6 .9l.2 .2l.6 1.1l.1 .2l.6 1.2l.1 .3l.6 1.4l.1 .3l.2 .3l.4 1.2l.2 .4l.6 1.7l.1 .3l.6 1.9l.5 1.6l.2 .8l.7 2.5l.7 2.6l.8 2.8l.7 2.8l.7 2.8l.7 2.9l.3 1l.5 1.9l.7 3l.7 2.9l.5 1.9l.2 .9l.7 2.9l.8 2.7l.7 2.8l.7 2.6l.7 2.6l.8 2.5l.2 .8l.5 1.6l.7 2.4l.7 2.2l.5 1.5l.2 .7l.8 2.1l.7 2l.7 1.9l.7 1.9l.7 1.7l.8 1.7l.2 .6l.5 1l.7 1.5l.7 1.5l.5 .9l.3 .5l.7 1.3l.7 1.3l.7 1.2l.7 1.1l.8 1.1l.7 1.1l.2 .3l.5 .7l.7 .9l.8 1l.4 .6l.3 .3l.7 .8l.7 .9l.7 .8l.8 .7l1.6 1.7l2.5 2.3l2.4 2l2.4 1.9l2.4 1.8l2.4 1.6l2.4 1.5l2.4 1.3l2.4 1.3l2.4 1.1l2.4 .9l2.4 .8l2.4 .6l2.4 .5l2.4 .2l2.4 0l2.4 -.1l2.4 -.4l2.5 -.7l2.4 -1.1l2.4 -1.6l0 -.1l.7 -.6l.8 -.7l.7 -.8l.2 -.2l.5 -.7l.7 -.9l.8 -1.1l.4 -.7l.3 -.5l.7 -1.4l.7 -1.5l.7 -1.5l0 -.2l.8 -1.9l.7 -2l.7 -2.4l.2 -.6l.5 -1.9l.8 -2.9l.7 -3.2l.4 -2l.3 -1.5l.7 -3.8l.7 -4.2l.7 -4.3l.1 -.4l.7 -5.1l.7 -5.5l.7 -6l.2 -1.6l.5 -4.9l.8 -7.1l.7 -7.5l.4 -4.7l.3 -3.5l.7 -8.6l.8 -9.3l.6 -8.9l.1 -.9l.7 -10.3l.7 -10.9l.7 -11.3l.2 -2.9l.6 -8.9l.7 -12.1l.7 -12.6l.4 -7.4l.3 -5.3l.8 -12.9l.7 -12.9l.6 -11.7l.1 -1.1l.7 -12.4l.7 -12l.8 -11.4l.1 -2.7l.6 -7.7l.7 -9.2l.7 -8l.5 -3.9l.3 -2.4l.7 -4.6l.7 -2.7l.7 -.7l.7 .7l.8 1.4l.7 2.2l.2 .7l.5 2.3l.7 3.6l.7 4.3l.5 2.8l.3 2.1l.7 5.5l.7 6.1l.7 5.9l0 .5l.8 7l.7 7.2l.7 7.6l.2 1.9l.5 5.9l.7 8.1l.8 8.2l.4 4.9l.3 3.4l.7 8.4l.7 8.5l.7 7.7l.1 .7l.7 8.5l.7 8.3l.7 8.3l.2 2.1l.5 6.1l.8 8.1l.7 8l.4 4.5l.3 3.2l.7 7.7l.7 7.4l.7 6.7l.1 .6l.7 7l.7 6.9l.7 6.7l.2 1.6l.6 4.8l.7 6.3l.7 6l.4 3.4l.3 2.4l.7 5.6l.8 5.4l.6 4.7l.1 .5l.7 4.9l.7 4.8l.8 4.6l.1 1.1l.6 3.3l.7 4.1l.7 4l.4 2.3l.3 1.6l.8 3.6l.7 3.5l.6 3l.1 .3l2.4 9.7l2.4 8.4l2.4 7.1l2.4 6.1l2.4 5.1l2.4 4.4l2.4 3.8l2.4 3.3l2.4 2.9l2.4 2.7l2.4 2.3l2.4 2.2l2.4 2l2.4 1.9l2.4 1.7l2.4 1.6l2.4 1.5l2.5 1.5l2.4 1.3l2.4 1.3l2.4 1.2l2.4 1.2l2.4 1.1l2.4 1.1l2.4 1l2.4 1l2.4 .9l2.4 .9l2.4 .8l2.4 .8l2.4 .8l2.4 .8l2.4 .7l2.4 .7l2.5 .7l2.4 .7l2.4 .6l2.4 .7l2.4 .6l2.4 .6l2.4 .5l2.4 .6l2.4 .5l2.4 .6l2.4 .5l2.4 .5l2.4 .5l2.4 .5l2.4 .5l2.4 .4l2.5 .5l2.4 .4l2.4 .5l2.4 .4l2.4 .4l2.4 .4l2.4 .4l2.4 .4l2.4 .4l2.4 .4l2.4 .4l2.4 .3l2.4 .4l2.4 .3l2.4 .4l2.4 .3l2.4 .3l2.5 .3l2.4 .3"/>
<path d="M336.6 1179.9l2.4 -.1l2.4 -.1l2.4 -.2l2.4 -.2l2.5 -.2l2.4 -.3l2.4 -.4l2.4 -.3l2.4 -.5l2.4 -.4l2.4 -.5l2.4 -.5l2.4 -.5l2.4 -.5l2.4 -.6l2.4 -.6l2.4 -.6l2.4 -.7l2.4 -.6l2.4 -.7l2.4 -.6l2.5 -.8l2.4 -.9l2.4 -1l2.4 -1.2l2.4 -1.3l2.4 -1.3l2.4 -1.3l2.4 -1.4l2.4 -1.2l2.4 -1.3l2.4 -1.5l2.4 -1.6l2.4 -1.7l2.4 -1.7l2.4 -1.6l2.4 -1.4l2.4 -1.1l2.5 -1.1l2.4 -.9l2.4 -.7l2.4 -.4l2.4 -.2l2.4 .1l2.4 .3l2.4 .5l2.4 .7l2.4 .6l2.4 .7l2.4 .7l2.4 .6l2.4 .5l2.4 .5l2.4 .4l2.4 .5l2.5 .4l2.4 .4l2.4 .3l2.4 .3l2.4 .2l2.4 0l2.4 0l2.4 -.1l2.4 -.1l2.4 -.3l2.4 -.4l2.4 -.4l2.4 -.5l2.4 -.5l2.4 -.5l2.4 -.6l2.5 -.6l2.4 -.7l2.4 -.6l2.4 -.6l2.4 -.6l2.4 -.7l2.4 -.7l2.4 -.7l2.4 -.8l2.4 -.8l2.4 -.9l2.4 -.9l2.4 -.9l2.4 -.9l2.4 -1l2.4 -1l2.4 -1l2.5 -1l2.4 -1l2.4 -1l2.4 -1l2.4 -1l2.4 -1l2.4 -1l2.4 -1l2.4 -1.1l2.4 -1l2.4 -1.1l2.4 -1.1l2.4 -1.2l2.4 -1.1l2.4 -1.2l2.4 -1.2l2.4 -1.3l2.5 -1.2l2.4 -1.3l2.4 -1.3l2.4 -1.4l2.4 -1.3l2.4 -1.4l2.4 -1.4l2.4 -1.4l2.4 -1.3l2.4 -1.4l2.4 -1.4l2.4 -1.4l2.4 -1.3l2.4 -1.4l2.4 -1.4l2.4 -1.4l2.5 -1.3l2.4 -1.4l2.4 -1.4l2.4 -1.4l2.4 -1.3l2.4 -1.4l2.4 -1.3l2.4 -1.4l2.4 -1.3l2.4 -1.3l2.4 -1.3l2.4 -1.3l2.4 -1.2l2.4 -1.3l2.4 -1.1l2.4 -1.2l2.4 -1.1l2.5 -1.1l2.4 -1.1l2.4 -1.1l2.4 -1.1l2.4 -1l2.4 -1.1l2.4 -1l2.4 -1l2.4 -1.1l2.4 -1l2.4 -1l2.4 -1l2.4 -.9l2.4 -1l2.4 -1l2.4 -1l2.5 -.9l2.4 -1l2.4 -.9l2.4 -1l2.4 -1l2.4 -.9l2.4 -.9l2.4 -1l2.4 -.9l2.4 -.9l2.4 -.9l2.4 -1l2.4 -.9l2.4 -.9l2.4 -1l2.4 -1l2.4 -.9l2.5 -1.1l2.4 -1l2.4 -1.2l2.4 -1.2l2.4 -1.4l2.4 -1.6l2.4 -1.8l2.4 -1.8l2.4 -1.8l2.4 -1.6l2.4 -1.5l2.4 -1.2l2.4 -1.2l2.4 -1.3l2.4 -1.5l2.4 -1.7l.8 -.6l.7 -.7l.8 -.6l.1 -.2l.6 -.6l.7 -.7l.7 -.9l.5 -.5l.3 -.4l.7 -1l.7 -1.2l.7 -1.2l0 -.1l.7 -1.4l.8 -1.7l.7 -2l.2 -.5l.5 -1.7l.7 -2.6l.8 -3.1l.4 -2l.3 -1.6l.7 -4.3l.7 -5l.7 -5.5l0 -.5l.8 -7l.7 -8.3l.7 -9.7l.2 -2.7l.5 -8.6l.7 -13.2l.8 -15.1l.4 -9.9l.3 -7.6l.7 -19.9l.7 -22.5l.7 -23.1l.1 -2.2l.7 -28.3l.7 -31.2l.7 -34.3l.2 -9.1l.5 -28.2l.8 -40.3l.7 -42.9l.4 -26.2l.3 -19.2l.7 -47.5l.8 -49.1l.6 -46l.1 -4.2l.7 -50.6l.7 -50.3l.7 -49l.2 -12l.6 -34.9l.7 -43.7l.7 -39.5l.4 -20.7l.2 -8.2l.1 -5.3l.6 -23.7l.1 -4.2l.7 -17.7l.1 -2.9l.6 -11.1l0 -.8l.1 -.8l.6 -4.1l.1 -.1l.6 3.1l.1 1.3l.6 10.1l.2 2.7l.1 4.4l.5 12.4l.1 3.9l.6 22.9l.1 5.1l.6 28.2l.1 6.1l.4 22.5l.2 10.2l.1 6.9l.6 36.2l.2 7.6l.6 38.9l.1 8l.6 40.7l0 4.1l.1 4.2l.6 41.7l.1 8.4l.6 42.1l.2 8.4l.6 41.7l.1 8.3l.2 12.3l.4 28.5l.1 8.1l.6 39.4l.1 7.7l.6 37.7l.1 7.3l.5 25.2l.1 10.4l.2 6.9l.6 33.3l.1 6.4l.6 30.8l.1 6l.6 28.2l.1 2.7l0 2.7l.6 25.6l.1 4.9l.7 23l.1 4.4l.6 20.5l.1 3.9l.2 5.6l.4 12.5l.1 3.4l.6 15.9l.1 2.9l.6 13.8l.2 2.5l.4 8.4l.2 3.4l.1 2.2l.6 10l.1 1.9l.6 8.4l.1 1.6l.6 7l.1 .6l0 .7l.6 5.8l.2 1l.6 4.8l.1 .8l.6 3.9l.1 .6l.2 1l.4 2.1l.1 .5l.6 2.5l.2 .4l.6 1.9l.1 .3l.4 1.1l.2 .4l.1 .3l.6 1.1l.1 .3l.6 .9l.1 .2l.6 .7l.1 .1l.1 .1l.6 .7l.1 .1l.6 .7l.1 .1l.6 .7l.1 .2l.2 .2l.4 .5l.2 .2l.6 .8l.1 .2l.6 1l.1 .2l.4 .8l.2 .4l.1 .2l.6 1.3l.1 .3l.6 1.5l.2 .3l.6 1.6l0 .2l.1 .2l.6 1.8l.1 .3l.6 2l.7 2.5l.3 1.1l.4 1.6l.8 2.7l.7 2.9l.5 2.2l.2 .8l.7 3l.8 3l.7 3.1l0 .2l.7 2.8l.7 3.1l.7 3l.3 1.2l.5 1.7l.7 3l.7 2.8l.6 2.1l.1 .7l.8 2.7l.7 2.6l.7 2.5l.1 .3l.6 2.2l.7 2.3l.8 2.3l.3 .9l.4 1.3l.7 2.1l.7 2l.6 1.4l.2 .5l.7 1.8l.7 1.7l.7 1.7l.1 .1l.6 1.4l.8 1.5l.7 1.5l.3 .5l.4 .8l.7 1.3l.7 1.2l.6 .9l.2 .3l.7 1.1l.7 1.1l.7 1l.1 .1l.7 .9l.7 .9l.7 .9l.3 .4l.4 .5l.7 .8l.8 .8l.5 .6l.2 .2l2.2 2.2l2.4 2.2l2.4 2l2.4 1.8l2.4 1.7l2.4 1.6l2.4 1.4l2.5 1.3l2.4 1.1l2.4 1l2.4 .9l2.4 .7l2.4 .6l2.4 .3l2.4 .2l2.4 0l2.4 -.3l2.4 -.5l2.4 -.8l2.4 -1.3l2 -1.5l.4 -.4l.3 -.3l.8 -.7l.7 -.8l.6 -.8l.1 -.1l.7 -1l.7 -1.2l.8 -1.3l.1 -.3l.6 -1.1l.7 -1.5l.7 -1.8l.5 -1.1l.3 -.9l.7 -2.1l.7 -2.5l.7 -2.4l0 -.2l.7 -3l.8 -3.3l.7 -3.6l.2 -1l.5 -3l.7 -4.4l.7 -4.9l.5 -3l.3 -2.2l.7 -5.8l.7 -6.2l.7 -6.2l0 -.6l.8 -7.3l.7 -7.9l.7 -8.4l.2 -2.2l.5 -6.8l.7 -9.6l.8 -10.1l.4 -6.2l.3 -4.6l.7 -11.2l.7 -11.8l.7 -11.2l.1 -1l.7 -12.6l.7 -13l.7 -13.2l.2 -3.4l.5 -10l.8 -13.4l.7 -13.2l.4 -7.6l.3 -5.4l.7 -12.4l.7 -11.8l.7 -9.9l.1 -.9l.7 -9.6l.7 -8.2l.7 -6.6l.2 -1.4l.6 -3.4l.7 -2.8l.7 -.7l.4 .3l.3 .4l.7 1.5l.8 2.3l.6 2.7l.1 .3l.7 3.8l.7 4.4l.8 5.1l.1 1.4l.6 4.3l.7 6.2l.7 6.8l.4 4.1l.3 3l.8 7.5l.7 7.9l.6 7.4l.1 .7l.7 8.3l.7 8.5l.8 8.7l.2 2.1l.5 6.6l.7 8.7l.7 8.8l.5 5.1l.3 3.6l.7 8.7l.7 8.6l.7 7.7l0 .8l.7 8.3l.8 8.2l.7 8.1l.2 2l.5 5.9l.7 7.7l.8 7.5l.4 4.3l.3 3l.7 7.1l.7 6.9l.7 6.2l0 .5l.8 6.5l.7 6.2l.7 6l.2 1.5l.5 4.3l.8 5.6l.7 5.4l.4 3l.3 2.1l.7 5l.7 4.7l.7 4.2l.1 .3l.7 4.3l.7 4.2l.7 3.9l.2 1l.5 2.8l.8 3.6l.7 3.4l.4 1.9l2.4 10l2.4 8.4l2.4 7.1l2.4 6l2.4 5.2l2.4 4.3l2.5 3.8l2.4 3.4l2.4 2.9l2.4 2.6l2.4 2.4l2.4 2.2l2.4 2l2.4 1.9l2.4 1.7l2.4 1.6l2.4 1.5l2.4 1.5l2.4 1.3l2.4 1.3l2.4 1.2l2.4 1.1l2.4 1.1l2.5 1.1l2.4 1l2.4 .9l2.4 .9l2.4 .9l2.4 .8l2.4 .8l2.4 .8l2.4 .7l2.4 .8l2.4 .6l2.4 .7l2.4 .7l2.4 .6l2.4 .6l2.4 .6l2.5 .6l2.4 .5l2.4 .6l2.4 .5l2.4 .5l2.4 .5l2.4 .5l2.4 .5l2.4 .5l2.4 .5l2.4 .4l2.4 .5l2.4 .4l2.4 .5l2.4 .4l2.4 .4l2.4 .4l2.5 .4l2.4 .4l2.4 .4l2.4 .3l2.4 .4l2.4 .4l2.4 .3l2.4 .3l2.4 .4l2.4 .3l2.4 .3l2.4 .3"/>
<path d="M345.5 1231.6l2.4 -.1l2.4 -.2l2.4 -.3l2.4 -.2l2.4 -.4l2.4 -.3l2.4 -.4l2.4 -.4l2.4 -.5l2.4 -.5l2.4 -.5l2.5 -.6l2.4 -.5l2.4 -.6l2.4 -.7l2.4 -.6l2.4 -.6l2.4 -.7l2.4 -.7l2.4 -.7l2.4 -.6l2.4 -.8l2.4 -.7l2.4 -.9l2.4 -.9l2.4 -1l2.4 -1.1l2.4 -1.1l2.5 -1.2l2.4 -1.2l2.4 -1.3l2.4 -1.6l2.4 -1.8l2.4 -1.9l2.4 -1.9l2.4 -1.8l2.4 -1.5l2.4 -1.1l2.4 -1.2l2.4 -1l2.4 -1l2.4 -.7l2.4 -.3l2.4 0l2.5 .3l2.4 .7l2.4 .8l2.4 1l2.4 1l2.4 1l2.4 .8l2.4 .7l2.4 .5l2.4 .4l2.4 .5l2.4 .4l2.4 .4l2.4 .4l2.4 .3l2.4 .2l2.4 .2l2.5 0l2.4 -.1l2.4 -.2l2.4 -.3l2.4 -.3l2.4 -.5l2.4 -.5l2.4 -.6l2.4 -.6l2.4 -.6l2.4 -.7l2.4 -.7l2.4 -.7l2.4 -.6l2.4 -.7l2.4 -.8l2.4 -.8l2.5 -.9l2.4 -.9l2.4 -1l2.4 -1l2.4 -1.1l2.4 -1l2.4 -1.1l2.4 -1.2l2.4 -1.1l2.4 -1.1l2.4 -1.1l2.4 -1.1l2.4 -1l2.4 -1.1l2.4 -1l2.4 -1.1l2.4 -1.1l2.5 -1l2.4 -1.1l2.4 -1.1l2.4 -1.1l2.4 -1.1l2.4 -1.1l2.4 -1.1l2.4 -1.1l2.4 -1.2l2.4 -1.1l2.4 -1.2l2.4 -1.2l2.4 -1.3l2.4 -1.2l2.4 -1.3l2.4 -1.3l2.5 -1.4l2.4 -1.3l2.4 -1.4l2.4 -1.3l2.4 -1.4l2.4 -1.3l2.4 -1.3l2.4 -1.3l2.4 -1.3l2.4 -1.3l2.4 -1.3l2.4 -1.2l2.4 -1.2l2.4 -1.2l2.4 -1.2l2.4 -1.2l2.4 -1.2l2.5 -1.1l2.4 -1.2l2.4 -1.2l2.4 -1.1l2.4 -1.1l2.4 -1.2l2.4 -1.1l2.4 -1.1l2.4 -1.2l2.4 -1.1l2.4 -1.1l2.4 -1.1l2.4 -1.1l2.4 -1.1l2.4 -1.1l2.4 -1.1l2.5 -1.1l2.4 -1.1l2.4 -1.1l2.4 -1.1l2.4 -1.1l2.4 -1l2.4 -1.1l2.4 -1.1l2.4 -1l2.4 -1.1l2.4 -1l2.4 -1l2.4 -1l2.4 -1.1l2.4 -1l2.4 -1.1l2.4 -1.1l2.5 -1.1l2.4 -1l2.4 -1.1l2.4 -1l2.4 -1.1l2.4 -1l2.4 -1l2.4 -1l2.4 -1l2.4 -1l2.4 -.9l2.4 -1l2.4 -1l2.4 -1.1l2.4 -1.1l2.4 -1.2l2.4 -1.1l2.5 -1.1l2.4 -1.1l2.4 -1.1l2.4 -1.1l2.4 -1.1l2.4 -1.2l2.4 -1.4l2.4 -1.5l2.4 -1.8l1.5 -1.3l.7 -.7l.2 -.2l.5 -.5l.8 -.8l.7 -.9l.4 -.5l.3 -.4l.7 -1.1l.8 -1.1l.6 -1.2l.1 -.1l.7 -1.4l.7 -1.6l.7 -1.8l.2 -.5l.6 -1.6l.7 -2.5l.7 -2.8l.4 -1.8l.3 -1.5l.8 -3.8l.7 -4.6l.6 -4.8l.1 -.5l.7 -6.2l.7 -7.4l.8 -8.6l.1 -2.3l.6 -7.7l.7 -11.6l.7 -13.5l.4 -8.8l.4 -6.7l.7 -17.7l.7 -20.2l.7 -20.8l0 -2l.7 -25.5l.8 -28.5l.7 -31.4l.2 -8.3l.5 -26.1l.7 -37.3l.7 -40.3l.5 -24.7l.3 -18.1l.7 -45.4l.7 -47.3l.7 -44.9l0 -4.1l.8 -50l.7 -50.5l.7 -50.1l.2 -12.4l.5 -36.5l.7 -46.9l.8 -43.7l.4 -23.6l.3 -15.9l.6 -28.9l.1 -5.3l.6 -23.8l.1 -4.1l.6 -17.8l.1 -1.5l.1 -1.4l.6 -11.2l.1 -1.5l.6 -4.2l.1 -.1l.6 3l.1 1.3l.2 2.5l.4 7.6l.1 2.7l.6 16.8l.2 4l.6 22.8l.1 5.1l.4 19.3l.2 8.9l.1 6.1l.6 32.6l.1 6.9l.6 36.2l.1 7.5l.6 38.8l.1 3.9l.1 4l.6 40.6l.1 8.2l.6 41.6l.1 8.4l.6 41.9l.1 8.3l.2 12.5l.4 29l.2 8.3l.6 40.6l.1 8l.6 39.3l.1 7.7l.4 26.4l.2 11.1l.1 7.3l.6 35.4l.1 6.9l.6 33.2l.2 6.4l.6 30.7l0 3l.1 2.9l.6 28.2l.1 5.4l.6 25.7l.1 4.9l.6 23.1l.2 4.3l.1 6.4l.5 14.3l.1 3.8l.6 18.3l.1 3.4l.6 16l.1 3l.4 9.9l.2 3.9l.1 2.6l.6 12l.2 2.2l.6 10.2l.1 1.8l.6 8.6l0 .8l.1 .8l.6 7.2l.1 1.3l.6 5.9l.1 1.1l.7 4.9l.1 .9l.2 1.2l.4 2.7l.1 .7l.6 3.2l.1 .5l.6 2.5l.1 .5l.5 1.4l.1 .6l.2 .3l.6 1.6l.1 .2l.6 1.3l.1 .2l.6 1l.1 0l0 .1l.6 .9l.1 .1l.6 .7l.2 .2l.6 .7l.1 .1l.2 .2l.4 .5l.1 .2l.6 .8l.1 .2l.6 .9l.2 .2l.4 .7l.2 .3l.1 .2l.6 1.2l.1 .3l.6 1.3l.1 .3l.6 1.6l.1 .1l0 .2l.6 1.7l.2 .4l.6 1.9l.1 .4l.6 2l.3 1.1l.4 1.5l.7 2.8l.8 2.9l.5 2.2l.2 .8l.7 3.1l.7 3.1l.7 3.2l.1 .3l.7 2.9l.7 3.2l.7 3.2l.3 1.3l.4 1.8l.7 3.1l.8 3.1l.5 2.2l.2 .7l.7 2.9l.7 2.8l.8 2.8l0 .2l.7 2.4l.7 2.6l.7 2.4l.3 1l.4 1.4l.8 2.2l.7 2.2l.5 1.5l.2 .5l.7 2l.8 1.9l.7 1.8l0 .1l.7 1.6l.7 1.6l.7 1.5l.3 .6l.5 .9l.7 1.4l.7 1.3l.5 .9l.2 .4l.8 1.1l.7 1.2l.7 1.1l.1 .1l.6 .9l.7 1l.8 1l.3 .3l.4 .6l.7 .8l.7 .9l.6 .6l.1 .2l.8 .8l1.5 1.5l2.4 2.2l2.4 2.1l2.4 1.9l2.4 1.7l2.4 1.6l2.4 1.4l2.4 1.4l2.4 1.2l2.4 1l2.4 1l2.4 .7l2.4 .7l2.5 .4l2.4 .3l2.4 0l2.4 -.2l2.4 -.4l2.4 -.7l2.4 -1.1l2.4 -1.6l.9 -.7l.7 -.7l.7 -.8l.1 0l.7 -.8l.7 -1l.7 -1l.3 -.5l.4 -.7l.7 -1.3l.8 -1.5l.5 -1.2l.2 -.4l.7 -1.8l.7 -2.1l.8 -2.2l0 -.2l.7 -2.3l.7 -2.7l.7 -3.1l.3 -1.4l.4 -2l.8 -3.7l.7 -4.1l.5 -3.4l.2 -1.2l.7 -4.9l.8 -5.4l.7 -5.9l0 -.6l.7 -5.9l.7 -6.9l.7 -7.5l.3 -3.3l.5 -4.8l.7 -8.7l.7 -9.2l.5 -7.3l.2 -2.6l.7 -10.4l.8 -11l.7 -11.6l.1 -.9l.6 -11.1l.7 -12.6l.8 -13l.3 -5.5l.4 -7.8l.7 -13.6l.7 -13.7l.6 -10.3l.1 -3.4l.8 -13.6l.7 -13.3l.7 -12.8l.1 -1.1l.6 -11l.8 -11.1l.7 -9.8l.3 -3.8l.4 -4.7l.7 -6.8l.7 -4.9l.6 -2.3l.2 -.5l.7 -.8l.7 .7l.7 1.5l.1 .2l.6 2.2l.8 3.1l.7 3.8l.3 1.9l.4 2.7l.7 5.2l.8 5.9l.5 4.7l.2 1.6l.7 6.9l.7 7.4l.7 7.7l.1 .7l.7 7.3l.7 8.4l.7 8.5l.3 3.6l.4 5.1l.8 8.9l.7 8.9l.5 6.7l.2 2.3l.7 9l.7 8.9l.8 8.9l0 .8l.7 8l.7 8.7l.7 8.6l.3 3.6l.5 4.9l.7 8.2l.7 8.1l.5 6l.2 1.9l.7 7.7l.8 7.5l.7 7.3l0 .6l.7 6.5l.7 6.9l.7 6.6l.3 2.7l.5 3.7l.7 6.2l.7 5.9l.6 4.3l.1 1.4l.8 5.5l.7 5.3l.7 5.1l.1 .4l.6 4.4l.7 4.7l.8 4.4l.3 1.8l.4 2.4l.7 4.1l.7 3.8l.6 2.8l.2 .9l.7 3.5l1.5 6.8l2.4 9.4l2.4 8l2.4 6.8l2.4 5.7l2.4 4.9l2.4 4.2l2.4 3.6l2.4 3.2l2.4 2.9l2.4 2.5l2.4 2.3l2.4 2.2l2.5 1.9l2.4 1.8l2.4 1.7l2.4 1.6l2.4 1.5l2.4 1.4l2.4 1.3l2.4 1.2l2.4 1.2l2.4 1.1l2.4 1l2.4 1l2.4 1l2.4 .9l2.4 .9l2.4 .8l2.5 .9l2.4 .7l2.4 .8l2.4 .7l2.4 .7l2.4 .7l2.4 .6l2.4 .6l2.4 .6l2.4 .6l2.4 .6l2.4 .6l2.4 .5l2.4 .5l2.4 .6l2.4 .5l2.4 .5l2.5 .5l2.4 .4l2.4 .5l2.4 .5l2.4 .4l2.4 .5l2.4 .4l2.4 .4l2.4 .4l2.4 .4l2.4 .4l2.4 .4l2.4 .4l2.4 .4l2.4 .3l2.4 .4l2.5 .3l2.4 .3l2.4 .4l2.4 .3l2.4 .3l2.4 .3" stroke="#f00" stroke-width="13.7"/>
<path d="M354.3 1284.2l2.4 -.1l2.5 -.2l2.4 -.2l2.4 -.3l2.4 -.3l2.4 -.3l2.4 -.4l2.4 -.4l2.4 -.4l2.4 -.4l2.4 -.5l2.4 -.5l2.4 -.6l2.4 -.5l2.4 -.6l2.4 -.6l2.4 -.6l2.4 -.6l2.5 -.7l2.4 -.6l2.4 -.6l2.4 -.7l2.4 -.8l2.4 -.8l2.4 -.9l2.4 -1l2.4 -1.1l2.4 -1.1l2.4 -1.1l2.4 -1.3l2.4 -1.3l2.4 -1.6l2.4 -1.8l2.4 -2l2.5 -1.9l2.4 -1.8l2.4 -1.5l2.4 -1.2l2.4 -1.1l2.4 -1.1l2.4 -1l2.4 -.7l2.4 -.4l2.4 -.1l2.4 .3l2.4 .6l2.4 .8l2.4 1l2.4 1l2.4 .9l2.4 .9l2.5 .7l2.4 .5l2.4 .5l2.4 .5l2.4 .5l2.4 .5l2.4 .4l2.4 .4l2.4 .2l2.4 .2l2.4 0l2.4 -.1l2.4 -.2l2.4 -.3l2.4 -.3l2.4 -.5l2.4 -.4l2.5 -.6l2.4 -.6l2.4 -.6l2.4 -.6l2.4 -.6l2.4 -.7l2.4 -.6l2.4 -.7l2.4 -.7l2.4 -.8l2.4 -.9l2.4 -.9l2.4 -.9l2.4 -1l2.4 -1l2.4 -1.1l2.4 -1l2.5 -1.1l2.4 -1.1l2.4 -1.1l2.4 -1.1l2.4 -1.1l2.4 -1l2.4 -1.1l2.4 -1.1l2.4 -1.1l2.4 -1l2.4 -1.1l2.4 -1.1l2.4 -1.1l2.4 -1.1l2.4 -1.1l2.4 -1.2l2.5 -1.1l2.4 -1.1l2.4 -1.1l2.4 -1.2l2.4 -1.1l2.4 -1.2l2.4 -1.2l2.4 -1.2l2.4 -1.3l2.4 -1.3l2.4 -1.3l2.4 -1.3l2.4 -1.3l2.4 -1.3l2.4 -1.4l2.4 -1.3l2.4 -1.3l2.5 -1.4l2.4 -1.3l2.4 -1.3l2.4 -1.3l2.4 -1.3l2.4 -1.2l2.4 -1.3l2.4 -1.2l2.4 -1.2l2.4 -1.1l2.4 -1.2l2.4 -1.2l2.4 -1.1l2.4 -1.1l2.4 -1.2l2.4 -1.1l2.5 -1.1l2.4 -1.1l2.4 -1.1l2.4 -1.1l2.4 -1.1l2.4 -1.2l2.4 -1.1l2.4 -1.1l2.4 -1.1l2.4 -1.1l2.4 -1.1l2.4 -1.2l2.4 -1.1l2.4 -1.1l2.4 -1.1l2.4 -1.1l2.4 -1.1l2.5 -1.1l2.4 -1l2.4 -1.1l2.4 -1.1l2.4 -1l2.4 -1.1l2.4 -1.1l2.4 -1.1l2.4 -1.1l2.4 -1.1l2.4 -1.1l2.4 -1.1l2.4 -1.1l2.4 -1.1l2.4 -1l2.4 -1.1l2.4 -1l2.5 -1l2.4 -1l2.4 -1l2.4 -1l2.4 -1l2.4 -1.1l2.4 -1.1l2.4 -1.3l2.4 -1.2l2.4 -1.3l2.4 -1.3l2.4 -1.4l2.4 -1.3l2.4 -1.3l2.4 -1.3l2.4 -1.5l2.4 -1.6l2.5 -1.8l2.4 -2.1l1.8 -2l.6 -.6l.1 -.2l.8 -.9l.7 -.9l.7 -1.1l.1 -.1l.6 -1l.8 -1.2l.7 -1.3l.3 -.6l.4 -.9l.7 -1.6l.7 -1.9l.6 -1.5l.2 -.5l.7 -2.4l.7 -2.7l.7 -3.2l.1 -.2l.7 -3.4l.7 -4.2l.7 -4.9l.3 -2.3l.4 -3.4l.7 -6.7l.8 -7.8l.5 -6.7l.2 -2.4l.7 -10.5l.7 -12.2l.7 -14.1l.1 -1.3l.7 -14.8l.7 -18.4l.7 -20.8l.3 -9.4l.4 -14l.8 -26.2l.7 -29.1l.5 -23.7l.2 -8.3l.7 -35l.7 -38l.8 -40.9l0 -3.5l.7 -40l.7 -45.9l.7 -48l.3 -20.5l.5 -29l.7 -50.7l.7 -51.1l.5 -38.2l.2 -12.6l.7 -49.6l.8 -47.5l.7 -44.4l0 -3.5l.7 -36.6l.6 -29.4l.1 -5.4l.6 -24.2l.2 -4.3l.3 -9.7l.3 -8.4l.1 -3l.6 -11.4l.1 -1.6l.6 -4.3l.1 -.1l.6 2.4l0 .6l.1 1.3l.6 10.2l.2 2.7l.6 16.9l.1 4.1l.6 23.1l.1 5.2l.1 2.6l.5 25.8l.1 6.2l.6 33l.1 7l.6 36.5l.2 7.6l.3 19.3l.3 19.9l.1 8l.6 41l.1 8.3l.6 42l.1 8.4l.6 38l0 4.2l.2 8.4l.6 41.9l.1 8.3l.6 41l.1 8l.6 39.6l.1 7.8l.1 3.8l.5 34l.1 7.4l.6 35.8l.2 6.9l.6 33.5l.1 6.5l.3 15.8l.3 15.3l.1 5.9l.6 28.6l.1 5.4l.6 26l.2 4.9l.5 21.2l.1 2.3l.1 4.4l.6 21l.1 3.9l.6 18.6l.1 3.5l.6 16.3l.1 3l.1 1.5l.5 12.7l.2 2.6l.6 12.3l.1 2.2l.6 10.5l.1 1.9l.3 4.6l.3 4.2l.1 1.6l.6 7.4l.1 1.4l.7 6.1l.1 1.1l.5 4.6l.1 .5l.1 .9l.6 4.1l.1 .7l.6 3.3l.1 .6l.6 2.6l.2 .4l0 .3l.6 1.8l.1 .4l.6 1.6l.1 .3l.6 1.2l.1 .3l.3 .5l.3 .5l.1 .2l.6 .8l.2 .2l.6 .7l.1 .1l.5 .7l.1 .1l.1 .1l.6 .7l.1 .2l.6 .8l.2 .2l.6 .9l.1 .2l0 .1l.6 .9l.1 .3l.6 1.2l.1 .2l.6 1.4l.1 .3l.3 .8l.3 .8l.2 .3l.6 1.8l.1 .4l.6 1.9l.1 .4l.5 1.9l.1 .2l.7 2.7l.8 2.9l.7 2.9l.2 .8l.5 2.3l.7 3.2l.7 3.2l.5 2l.3 1.3l.7 3.3l.7 3.3l.7 3l0 .3l.7 3.2l.8 3.2l.7 3.1l.2 .8l.5 2.2l.7 3l.8 2.9l.4 1.6l.3 1.2l.7 2.7l.7 2.5l.7 2.3l0 .2l.8 2.4l.7 2.3l.7 2.2l.2 .5l.5 1.6l.8 2l.7 1.9l.4 1l.3 .8l.7 1.7l.7 1.6l.7 1.4l.1 .1l.7 1.5l.7 1.3l.7 1.4l.2 .3l.5 1l.8 1.4l.7 1.5l.4 .9l.3 .6l.7 1.5l.8 1.6l.6 1.4l.1 .2l.7 1.5l.7 1.6l.7 1.5l.2 .4l.6 1.1l.7 1.4l1.1 2.1l2.4 3.7l2.4 2.4l2.5 2.2l2.4 2l2.4 1.8l2.4 1.6l2.4 1.5l2.4 1.3l2.4 1.2l2.4 1l2.4 .9l2.4 .6l2.4 .5l2.4 .3l2.4 0l2.4 -.2l2.4 -.4l2.4 -.7l2.4 -1.1l2.5 -1.6l1.6 -1.5l.8 -.7l.7 -.8l.7 -.9l.7 -1.1l.3 -.3l.4 -.8l.8 -1.2l.7 -1.4l.5 -1l.2 -.5l.7 -1.8l.8 -1.8l.7 -2.1l.7 -2.4l.7 -2.6l.7 -2.8l.3 -1l.5 -2.2l.7 -3.5l.7 -3.8l.5 -2.8l.2 -1.5l.8 -4.6l.7 -5.1l.7 -5.6l.7 -6l.7 -6.6l.8 -7.1l.2 -2.5l.5 -5.2l.7 -8.3l.7 -8.9l.5 -6.2l.2 -3.2l.8 -10.1l.7 -10.6l.7 -11.3l.7 -11.8l.8 -12.3l.7 -12.9l.2 -4.3l.5 -8.9l.7 -13.6l.7 -13.9l.5 -9.3l.3 -4.7l.7 -14l.7 -13.9l.7 -13.5l.8 -13.1l.7 -12.3l.7 -11.3l.2 -3.5l.5 -6.6l.7 -8.6l.8 -6.9l.4 -3.5l.3 -1.5l.7 -2.9l.7 -.8l.7 .7l.8 1.6l.7 2.4l.7 3.2l.3 1.2l.4 2.7l.8 4.7l.7 5.3l.5 3.9l.2 2l.7 6.6l.7 7l.8 7.5l.7 7.9l.7 8.2l.7 8.5l.3 2.9l.5 5.9l.7 8.9l.7 9l.5 6.1l.2 3l.7 9.2l.8 9.2l.7 9.1l.7 9.1l.7 9l.7 8.9l.3 3l.5 5.8l.7 8.6l.7 8.5l.5 5.5l.2 2.8l.8 8.1l.7 7.8l.7 7.7l.7 7.5l.7 7.2l.8 7l.2 2.3l.5 4.5l.7 6.6l.7 6.3l.5 4.1l.3 2l.7 5.8l.7 5.7l.7 5.4l.7 5.2l.8 5l.7 4.7l.2 1.6l.5 3l.7 4.3l.8 4.2l.4 2.6l.3 1.3l.7 3.8l.7 3.6l.7 3.5l2.4 10.2l2.4 8.7l2.5 7.4l2.4 6.3l2.4 5.3l2.4 4.6l2.4 3.9l2.4 3.5l2.4 3.1l2.4 2.7l2.4 2.5l2.4 2.3l2.4 2l2.4 2l2.4 1.7l2.4 1.7l2.4 1.5l2.4 1.4l2.5 1.4l2.4 1.3l2.4 1.1l2.4 1.2l2.4 1l2.4 1l2.4 1l2.4 .9l2.4 .8l2.4 .8l2.4 .8l2.4 .8l2.4 .7l2.4 .7l2.4 .7l2.4 .6l2.4 .7l2.5 .6l2.4 .6l2.4 .5l2.4 .6l2.4 .5l2.4 .5l2.4 .5l2.4 .5l2.4 .5l2.4 .5l2.4 .5l2.4 .4l2.4 .5l2.4 .4l2.4 .5l2.4 .4l2.4 .4l2.5 .4l2.4 .4l2.4 .4l2.4 .4l2.4 .4l2.4 .3l2.4 .4l2.4 .3l2.4 .4l2.4 .3l2.4 .4l2.4 .3l2.4 .3l2.4 .3l2.4 .3"/>
<path d="M363.2 1336.0l2.4 -.1l2.4 -.2l2.4 -.2l2.4 -.2l2.4 -.2l2.4 -.3l2.4 -.4l2.4 -.3l2.5 -.4l2.4 -.4l2.4 -.5l2.4 -.5l2.4 -.5l2.4 -.5l2.4 -.5l2.4 -.5l2.4 -.6l2.4 -.6l2.4 -.6l2.4 -.6l2.4 -.6l2.4 -.6l2.4 -.7l2.4 -.8l2.4 -.9l2.5 -1l2.4 -1l2.4 -1.1l2.4 -1.2l2.4 -1.2l2.4 -1.3l2.4 -1.6l2.4 -1.9l2.4 -2l2.4 -1.9l2.4 -1.8l2.4 -1.6l2.4 -1.3l2.4 -1.1l2.4 -1.1l2.4 -.9l2.5 -.8l2.4 -.5l2.4 -.1l2.4 .2l2.4 .6l2.4 .8l2.4 .9l2.4 1l2.4 1l2.4 .9l2.4 .7l2.4 .5l2.4 .6l2.4 .6l2.4 .6l2.4 .5l2.4 .5l2.5 .3l2.4 .3l2.4 .2l2.4 0l2.4 -.1l2.4 -.2l2.4 -.2l2.4 -.4l2.4 -.4l2.4 -.4l2.4 -.5l2.4 -.6l2.4 -.5l2.4 -.6l2.4 -.6l2.4 -.6l2.4 -.6l2.5 -.7l2.4 -.7l2.4 -.8l2.4 -.8l2.4 -.9l2.4 -.9l2.4 -.9l2.4 -1l2.4 -1l2.4 -1l2.4 -1.1l2.4 -1l2.4 -1.1l2.4 -1l2.4 -1.1l2.4 -1.1l2.5 -1.1l2.4 -1.1l2.4 -1.1l2.4 -1.1l2.4 -1.1l2.4 -1.1l2.4 -1.1l2.4 -1.1l2.4 -1.2l2.4 -1.1l2.4 -1.1l2.4 -1.1l2.4 -1.1l2.4 -1.1l2.4 -1.2l2.4 -1.1l2.4 -1.2l2.5 -1.2l2.4 -1.2l2.4 -1.2l2.4 -1.3l2.4 -1.2l2.4 -1.3l2.4 -1.3l2.4 -1.3l2.4 -1.3l2.4 -1.4l2.4 -1.4l2.4 -1.3l2.4 -1.4l2.4 -1.3l2.4 -1.3l2.4 -1.3l2.5 -1.3l2.4 -1.2l2.4 -1.2l2.4 -1.1l2.4 -1.2l2.4 -1.1l2.4 -1.2l2.4 -1.1l2.4 -1.1l2.4 -1.1l2.4 -1.1l2.4 -1.1l2.4 -1.1l2.4 -1l2.4 -1.1l2.4 -1.1l2.4 -1.1l2.5 -1.2l2.4 -1.1l2.4 -1.1l2.4 -1.1l2.4 -1.2l2.4 -1.1l2.4 -1.1l2.4 -1.2l2.4 -1.1l2.4 -1.1l2.4 -1.1l2.4 -1.1l2.4 -1.1l2.4 -1.1l2.4 -1.1l2.4 -1.1l2.4 -1.1l2.5 -1.1l2.4 -1.1l2.4 -1.2l2.4 -1.1l2.4 -1.1l2.4 -1.1l2.4 -1.1l2.4 -1.1l2.4 -1l2.4 -1l2.4 -1l2.4 -1l2.4 -1l2.4 -1l2.4 -1l2.4 -1.1l2.4 -1.2l2.5 -1.2l2.4 -1.3l2.4 -1.4l2.4 -1.5l2.4 -1.4l2.4 -1.5l2.4 -1.4l2.4 -1.4l2.4 -1.5l2.4 -1.7l2.4 -1.9l2.4 -2.2l2.4 -2.5l1.2 -1.5l.8 -.9l.4 -.7l.3 -.3l.7 -1.1l.7 -1.1l.7 -1.3l.8 -1.3l.7 -1.5l.7 -1.6l.2 -.6l.5 -1.2l.7 -2l.8 -2.3l.5 -1.7l.2 -.9l.7 -2.9l.7 -3.3l.8 -3.9l.7 -4.4l.7 -5.2l.7 -6l.3 -2.2l.4 -4.7l.8 -8l.7 -9.4l.5 -7l.2 -3.7l.7 -12.4l.8 -14.3l.7 -16.2l.7 -18.5l.7 -20.8l.7 -23.4l.3 -8.4l.5 -17.7l.7 -28.9l.7 -31.8l.5 -22.8l.2 -11.9l.8 -37.6l.7 -40.3l.7 -43l.7 -45.2l.7 -47.3l.8 -48.9l.2 -16.5l.5 -33.4l.7 -50.3l.7 -50.1l.5 -32.8l.2 -16.1l.8 -46.9l.7 -43.8l.7 -39.7l.6 -29.1l.1 -5.4l.6 -23.9l.2 -4.2l.6 -18l.1 -3l.2 -5.2l.4 -6.1l.1 -1.6l.6 -4.4l.1 -.1l.6 2.9l.1 1.3l.5 7.5l.1 2.4l.2 2.7l.6 16.7l.1 4l.6 22.7l.1 5.1l.6 28l.1 6.1l.6 32.4l.2 6.9l.6 35.9l.1 7.5l.6 38.5l.1 7.9l.2 16l.4 24.3l.1 8.1l.6 41.2l.1 8.3l.6 41.5l.2 8.2l.4 33l.2 8.1l.1 8.2l.6 40.1l.1 8l.6 38.8l.1 7.6l.6 37.1l.1 7.2l.6 35.2l.2 6.8l.6 32.9l.1 6.3l.6 30.6l.1 5.8l.3 11.5l.3 16.6l.1 5.4l.6 25.5l.2 4.9l.6 23.1l.1 4.4l.5 16.7l.1 4l.1 3.9l.6 18.3l.1 3.4l.6 16.2l.1 3l.6 14l.2 2.7l.6 12.1l.1 2.3l.6 10.3l.1 1.9l.6 8.8l.1 1.7l.3 3l.3 4.3l.2 1.4l.6 6.1l.1 1.1l.6 5l.1 .9l.5 3.4l.1 .7l.1 .8l.6 3.2l.1 .6l.6 2.6l.2 .5l.6 2l.1 .4l.6 1.6l.1 .2l.6 1.3l.1 .2l.6 1l.1 .2l.3 .3l.4 .5l.1 .2l.6 .7l.1 .1l.6 .7l.1 .1l.5 .6l.1 .1l.1 .2l.6 .8l.2 .2l.6 .9l.1 .1l.6 1.1l.1 .2l.6 1.2l.1 .3l.6 1.4l.1 .3l.6 1.6l.2 .3l.2 .7l.4 1.1l.1 .4l.6 2l.1 .4l.6 2.1l.6 2.3l.1 .5l.8 2.9l.7 3l.7 3.2l.1 .5l.6 2.8l.7 3.3l.8 3.3l.3 1.7l.4 1.7l.7 3.4l.7 3.3l.6 2.8l.2 .5l.7 3.3l.7 3.2l.7 3.1l.1 .5l.6 2.5l.8 3l.7 2.8l.3 1.4l.4 1.3l.7 2.7l.7 2.5l.7 2l.1 .4l.7 2.4l.7 2.2l.7 2.1l.2 .3l.6 1.7l.7 1.9l.7 1.8l.4 .8l.3 .9l.7 1.6l.8 1.5l.6 1.3l.1 .2l.7 1.7l.7 1.9l.8 2l.1 .3l.6 1.8l.7 2.2l.7 2.3l.4 1.2l.3 1.1l.8 2.4l.7 2.3l.6 1.9l.1 .3l.7 2.2l.7 2.1l.8 2l.1 .3l.6 1.6l1.8 3.7l2.4 3l2.4 2.6l2.4 2.3l2.4 2.1l2.4 1.9l2.4 1.7l2.4 1.5l2.4 1.4l2.5 1.2l2.4 1l2.4 .8l2.4 .6l2.4 .5l2.4 .1l2.4 0l2.4 -.2l2.4 -.5l2.4 -.8l2.4 -1.2l2.4 -1.6l2.3 -2l.1 -.1l.6 -.7l.7 -.9l.8 -.9l.3 -.6l.4 -.5l.7 -1.2l.7 -1.3l.6 -1.1l.2 -.3l.7 -1.6l.7 -1.7l.7 -2l.1 -.3l.6 -1.8l.8 -2.4l.7 -2.7l.3 -1.4l.4 -1.5l.7 -3.2l.8 -3.5l.6 -3.3l.1 -.7l.7 -4.3l.7 -4.7l.7 -5.1l.2 -.9l.6 -4.8l.7 -6.1l.7 -6.6l.4 -3.6l.3 -3.6l.7 -7.8l.8 -8.3l.6 -7.4l.1 -1.6l.7 -9.5l.7 -10.2l.8 -10.7l.1 -1.9l.6 -9.5l.7 -11.9l.7 -12.4l.4 -6.4l.3 -6.5l.8 -13.4l.7 -13.7l.6 -11.6l.1 -2.3l.7 -14.1l.8 -14.1l.7 -14l.1 -2.3l.6 -11.4l.7 -13.1l.7 -12.4l.4 -5.9l.4 -5.5l.7 -10.2l.7 -8.6l.6 -5.9l.1 -1.1l.8 -5l.7 -2.9l.7 -.8l.1 .1l.6 .7l.7 1.5l.8 2.5l.3 1.5l.4 1.7l.7 4l.7 4.7l.6 4.4l.1 1l.8 6l.7 6.6l.7 7.1l.1 1.2l.6 6.4l.8 7.9l.7 8.3l.3 4.3l.4 4.3l.7 8.9l.7 9l.6 7.6l.2 1.5l.7 9.2l.7 9.3l.7 9.2l.2 1.6l.6 7.7l.7 9.2l.7 9.1l.4 4.5l.3 4.5l.7 8.8l.8 8.8l.6 7.1l.1 1.4l.7 8.4l.7 8.2l.7 7.9l.2 1.3l.6 6.5l.7 7.6l.7 7.3l.4 3.6l.3 3.5l.8 6.8l.7 6.7l.6 5.3l.1 1.1l.7 6.1l.7 6l.8 5.7l.1 .9l.6 4.6l.7 5.2l.7 5.1l.4 2.4l.4 2.4l.7 4.6l.7 4.4l.6 3.6l.1 .6l.7 4.1l.8 3.8l.7 3.7l.1 .6l2.4 10.9l2.4 9.2l2.4 7.8l2.4 6.7l2.4 5.6l2.4 4.9l2.4 4.2l2.5 3.6l2.4 3.3l2.4 2.9l2.4 2.6l2.4 2.3l2.4 2.2l2.4 1.9l2.4 1.8l2.4 1.7l2.4 1.5l2.4 1.5l2.4 1.3l2.4 1.3l2.4 1.1l2.4 1.1l2.4 1.1l2.4 .9l2.5 .9l2.4 .9l2.4 .8l2.4 .8l2.4 .8l2.4 .7l2.4 .7l2.4 .7l2.4 .6l2.4 .6l2.4 .6l2.4 .6l2.4 .6l2.4 .5l2.4 .5l2.4 .6l2.4 .5l2.5 .4l2.4 .5l2.4 .5l2.4 .4l2.4 .5l2.4 .4l2.4 .5l2.4 .4l2.4 .4l2.4 .4l2.4 .4l2.4 .4l2.4 .4l2.4 .4l2.4 .3l2.4 .4l2.5 .4l2.4 .3l2.4 .4l2.4 .3l2.4 .3l2.4 .4l2.4 .3l2.4 .3l2.4 .3"/>
<path d="M372.1 1388.6l2.4 -.1l2.4 -.1l2.4 -.2l2.4 -.2l2.4 -.2l2.4 -.3l2.4 -.3l2.4 -.3l2.4 -.4l2.4 -.3l2.4 -.4l2.4 -.5l2.4 -.4l2.4 -.5l2.4 -.5l2.5 -.5l2.4 -.5l2.4 -.5l2.4 -.5l2.4 -.6l2.4 -.6l2.4 -.6l2.4 -.7l2.4 -.8l2.4 -.8l2.4 -1l2.4 -1l2.4 -1l2.4 -1.2l2.4 -1.2l2.4 -1.3l2.5 -1.7l2.4 -1.8l2.4 -2l2.4 -2l2.4 -1.9l2.4 -1.6l2.4 -1.2l2.4 -1.2l2.4 -1.1l2.4 -1l2.4 -.8l2.4 -.5l2.4 -.2l2.4 .2l2.4 .6l2.4 .7l2.4 .9l2.5 1l2.4 1l2.4 .9l2.4 .7l2.4 .6l2.4 .7l2.4 .6l2.4 .6l2.4 .6l2.4 .5l2.4 .5l2.4 .3l2.4 .2l2.4 0l2.4 -.1l2.4 -.2l2.4 -.2l2.5 -.3l2.4 -.4l2.4 -.4l2.4 -.5l2.4 -.5l2.4 -.5l2.4 -.5l2.4 -.6l2.4 -.6l2.4 -.6l2.4 -.6l2.4 -.7l2.4 -.7l2.4 -.8l2.4 -.9l2.4 -.8l2.5 -.9l2.4 -1l2.4 -.9l2.4 -1l2.4 -1l2.4 -1l2.4 -1l2.4 -1.1l2.4 -1.1l2.4 -1.1l2.4 -1.1l2.4 -1.1l2.4 -1.1l2.4 -1.1l2.4 -1.2l2.4 -1.1l2.4 -1.1l2.5 -1.2l2.4 -1.1l2.4 -1.1l2.4 -1.1l2.4 -1.1l2.4 -1.1l2.4 -1.1l2.4 -1.1l2.4 -1.1l2.4 -1.1l2.4 -1.2l2.4 -1.1l2.4 -1.2l2.4 -1.2l2.4 -1.3l2.4 -1.2l2.5 -1.3l2.4 -1.3l2.4 -1.3l2.4 -1.3l2.4 -1.4l2.4 -1.4l2.4 -1.4l2.4 -1.4l2.4 -1.3l2.4 -1.4l2.4 -1.2l2.4 -1.3l2.4 -1.1l2.4 -1.2l2.4 -1.1l2.4 -1.2l2.4 -1.1l2.5 -1.1l2.4 -1l2.4 -1.1l2.4 -1.1l2.4 -1.1l2.4 -1l2.4 -1.1l2.4 -1.1l2.4 -1.1l2.4 -1.1l2.4 -1.1l2.4 -1.1l2.4 -1.2l2.4 -1.1l2.4 -1.2l2.4 -1.1l2.4 -1.1l2.5 -1.2l2.4 -1.1l2.4 -1.2l2.4 -1.1l2.4 -1.1l2.4 -1.2l2.4 -1.1l2.4 -1.1l2.4 -1.1l2.4 -1.1l2.4 -1.2l2.4 -1.1l2.4 -1.2l2.4 -1.1l2.4 -1.2l2.4 -1.1l2.4 -1.1l2.5 -1l2.4 -1.1l2.4 -1l2.4 -.9l2.4 -1l2.4 -1l2.4 -1l2.4 -1l2.4 -1.1l2.4 -1.2l2.4 -1.3l2.4 -1.4l2.4 -1.6l2.4 -1.5l2.4 -1.6l2.4 -1.6l2.5 -1.5l2.4 -1.6l2.4 -1.6l2.4 -1.8l2.4 -2l2.4 -2.3l2.4 -2.7l2.4 -3.1l.7 -1l.7 -1.1l.8 -1.2l.2 -.4l.5 -.9l.7 -1.4l.7 -1.5l.5 -1l.2 -.6l.8 -1.8l.7 -1.9l.7 -2.2l.7 -2.4l.8 -2.8l.7 -3.1l.2 -1.1l.5 -2.4l.7 -4.1l.7 -4.6l.5 -3.5l.3 -1.9l.7 -6.2l.7 -7.1l.7 -8.3l.8 -9.5l.7 -10.9l.7 -12.5l.2 -4.6l.5 -9.7l.7 -16.3l.8 -18.4l.4 -13.6l.3 -7.2l.7 -23.2l.7 -25.9l.7 -28.6l.8 -31.3l.7 -34.2l.7 -36.9l.3 -12.9l.4 -26.7l.8 -42.1l.7 -44.3l.5 -30.7l.2 -15.7l.7 -47.8l.7 -48.9l.8 -49.3l.7 -49.1l.7 -48l.7 -46l.3 -14.7l.5 -28.3l.7 -39l.6 -28.7l.1 -5.3l.5 -19.2l.1 -4.4l.1 -4.1l.6 -17.8l.1 -2.9l.6 -11.2l.2 -1.6l.6 -4.3l.1 -.2l.6 2.8l.1 1.2l.6 9.7l.1 2.6l.6 16.3l.1 3.9l.3 8.3l.4 13.9l.1 5l.6 27.5l.1 5.9l.6 31.7l.1 6.7l.5 28l.1 7.2l.1 7.3l.6 37.6l.2 7.7l.6 39.3l.1 8l.6 40.2l.1 8.1l.6 40.4l.1 8.1l.6 40l.1 8l.6 39.1l.2 7.7l.2 15.3l.4 22.6l.1 7.4l.6 36.2l.1 7l.6 34.3l.1 6.6l.5 25.9l.1 6.2l.2 6.2l.6 29.8l.1 5.8l.6 27.4l.1 5.2l.6 25l.1 4.8l.6 22.6l.1 4.3l.6 20.2l.2 3.9l.6 18l.1 3.3l.2 6.6l.4 9.3l.1 2.9l.6 13.9l.1 2.5l.6 12l.2 2.2l.4 8.3l.2 1.9l.1 1.9l.6 8.7l.1 1.6l.6 7.3l.1 1.3l.6 6.1l.1 1.1l.6 4.9l.2 .9l.6 4l.1 .8l.6 3.2l.1 .6l.2 1.1l.4 1.4l.1 .5l.6 2l.1 .3l.6 1.6l.2 .2l.5 1l.1 .3l.1 .2l.6 .9l.1 .2l.6 .8l.1 .1l.6 .7l.2 .1l.6 .7l.1 .1l.6 .7l.1 .1l.6 .8l.1 .1l.3 .4l.3 .5l.1 .2l.6 1l.2 .3l.6 1.2l.1 .2l.5 1.2l.1 .2l.1 .3l.6 1.7l.1 .3l.6 1.8l.2 .4l.6 2l.1 .4l.6 2.2l.7 2.8l.7 3l.4 1.5l.3 1.6l.8 3.2l.7 3.4l.6 2.8l.1 .5l.7 3.5l.7 3.4l.8 3.5l.1 .6l.6 2.8l.7 3.4l.7 3.3l.4 1.6l.4 1.7l.7 3.1l.7 3.1l.6 2.5l.1 .5l.7 2.9l.8 2.8l.7 2.7l.1 .4l.6 2.2l.7 2.4l.8 2.4l.3 1.1l.4 1.1l.7 2.1l.7 2.1l.6 1.6l.1 .3l.8 1.8l.7 1.7l.7 1.6l.1 .3l.6 1.6l.8 2.2l.7 2.4l.3 1.3l.4 1.3l.7 2.8l.7 3l.6 2.5l.2 .5l.7 3.1l.7 3.1l.7 3l.1 .5l.6 2.5l.8 2.9l.7 2.6l.4 1.3l.3 1.2l.7 2.3l.8 1.9l.6 1.4l2.4 3.5l2.4 3l2.4 2.6l2.4 2.4l2.4 2.1l2.4 1.9l2.4 1.8l2.4 1.5l2.4 1.3l2.4 1.1l2.4 .9l2.4 .7l2.4 .5l2.4 .2l2.4 .1l2.5 -.2l2.4 -.5l2.4 -.7l2.4 -1l2.4 -1.4l2.4 -1.9l1.8 -1.8l.6 -.7l.1 -.1l.7 -.9l.8 -1.1l.7 -1.1l.1 -.2l.6 -1l.7 -1.4l.7 -1.5l.4 -.8l.4 -.8l.7 -1.8l.7 -2.1l.6 -1.8l.1 -.4l.8 -2.5l.7 -2.7l.7 -3l.1 -.5l.6 -2.8l.7 -3.6l.8 -4l.3 -2.2l.4 -2.2l.7 -4.9l.7 -5.2l.6 -4.8l.1 -1l.8 -6.2l.7 -6.8l.7 -7.4l.1 -1.2l.6 -6.7l.8 -8.5l.7 -9.1l.3 -4.8l.4 -4.9l.7 -10.4l.7 -10.9l.6 -9.6l.2 -2l.7 -12.1l.7 -12.6l.7 -13.2l.1 -2.2l.7 -11.4l.7 -13.9l.7 -14.2l.4 -7.2l.3 -7.2l.7 -14.4l.8 -14.2l.6 -11.6l.1 -2.3l.7 -13.4l.7 -12.6l.7 -11.6l.2 -1.8l.6 -8.5l.7 -8.8l.7 -7l.4 -2.8l.3 -2.3l.8 -3l.7 -.8l.6 .6l.1 .2l.7 1.6l.7 2.5l.8 3.3l.1 .6l.6 3.5l.7 4.8l.7 5.5l.4 3l.4 3.1l.7 6.8l.7 7.2l.6 6.5l.1 1.3l.7 8.1l.8 8.5l.7 8.8l.1 1.4l.6 7.6l.7 9.2l.7 9.3l.4 4.7l.4 4.7l.7 9.4l.7 9.5l.6 7.9l.1 1.5l.8 9.4l.7 9.3l.7 9.2l.1 1.5l.6 7.6l.7 8.9l.8 8.7l.3 4.3l.4 4.3l.7 8.3l.7 8.2l.6 6.6l.2 1.3l.7 7.7l.7 7.5l.7 7.2l.1 1.2l.6 5.9l.8 6.7l.7 6.6l.3 3.2l.4 3.1l.7 6.1l.8 5.8l.6 4.7l.1 .9l.7 5.4l.7 5.2l.7 4.9l.2 .8l.6 3.9l.7 4.6l.7 4.3l.4 2.1l.3 2l.7 4l.8 3.7l.6 3l2.4 10.8l2.4 9.2l2.4 7.8l2.4 6.6l2.4 5.7l2.4 4.8l2.4 4.2l2.4 3.7l2.4 3.3l2.4 2.9l2.4 2.5l2.4 2.4l2.4 2.1l2.5 1.9l2.4 1.8l2.4 1.7l2.4 1.5l2.4 1.4l2.4 1.4l2.4 1.2l2.4 1.1l2.4 1l2.4 1l2.4 .9l2.4 .9l2.4 .8l2.4 .8l2.4 .8l2.4 .7l2.4 .7l2.5 .6l2.4 .7l2.4 .6l2.4 .6l2.4 .6l2.4 .5l2.4 .5l2.4 .6l2.4 .5l2.4 .4l2.4 .5l2.4 .5l2.4 .4l2.4 .5l2.4 .4l2.4 .5l2.5 .4l2.4 .4l2.4 .4l2.4 .4l2.4 .4l2.4 .4l2.4 .4l2.4 .3l2.4 .4l2.4 .4l2.4 .3l2.4 .4l2.4 .3l2.4 .4l2.4 .3l2.4 .3l2.4 .3l2.5 .4l2.4 .3"/>
<path d="M380.9 1440.3l2.4 -.1l2.4 -.1l2.4 -.1l2.4 -.2l2.5 -.2l2.4 -.2l2.4 -.3l2.4 -.3l2.4 -.3l2.4 -.3l2.4 -.4l2.4 -.4l2.4 -.4l2.4 -.4l2.4 -.4l2.4 -.5l2.4 -.5l2.4 -.4l2.4 -.5l2.4 -.5l2.4 -.5l2.5 -.6l2.4 -.7l2.4 -.7l2.4 -.9l2.4 -.9l2.4 -1l2.4 -1.1l2.4 -1.1l2.4 -1.1l2.4 -1.4l2.4 -1.7l2.4 -1.9l2.4 -2l2.4 -2l2.4 -1.8l2.4 -1.7l2.4 -1.3l2.5 -1.1l2.4 -1.1l2.4 -1l2.4 -.9l2.4 -.5l2.4 -.3l2.4 .2l2.4 .4l2.4 .8l2.4 .9l2.4 .9l2.4 1l2.4 1l2.4 .7l2.4 .7l2.4 .6l2.4 .7l2.5 .7l2.4 .7l2.4 .6l2.4 .5l2.4 .3l2.4 .2l2.4 0l2.4 0l2.4 -.2l2.4 -.2l2.4 -.3l2.4 -.4l2.4 -.4l2.4 -.4l2.4 -.5l2.4 -.4l2.5 -.5l2.4 -.5l2.4 -.6l2.4 -.5l2.4 -.6l2.4 -.7l2.4 -.7l2.4 -.8l2.4 -.8l2.4 -.8l2.4 -.9l2.4 -.9l2.4 -.9l2.4 -.9l2.4 -1l2.4 -1l2.4 -1l2.5 -1l2.4 -1.1l2.4 -1.1l2.4 -1.1l2.4 -1.1l2.4 -1.1l2.4 -1.2l2.4 -1.1l2.4 -1.2l2.4 -1.1l2.4 -1.2l2.4 -1.1l2.4 -1.1l2.4 -1.1l2.4 -1.1l2.4 -1.1l2.5 -1l2.4 -1.1l2.4 -1.1l2.4 -1.1l2.4 -1.1l2.4 -1.1l2.4 -1.1l2.4 -1.2l2.4 -1.2l2.4 -1.2l2.4 -1.3l2.4 -1.2l2.4 -1.3l2.4 -1.4l2.4 -1.4l2.4 -1.4l2.4 -1.5l2.5 -1.4l2.4 -1.4l2.4 -1.3l2.4 -1.3l2.4 -1.3l2.4 -1.1l2.4 -1.2l2.4 -1.1l2.4 -1.1l2.4 -1.1l2.4 -1.1l2.4 -1l2.4 -1.1l2.4 -1l2.4 -1.1l2.4 -1l2.4 -1.1l2.5 -1.1l2.4 -1l2.4 -1.1l2.4 -1.2l2.4 -1.1l2.4 -1.2l2.4 -1.1l2.4 -1.2l2.4 -1.1l2.4 -1.2l2.4 -1.2l2.4 -1.1l2.4 -1.2l2.4 -1.2l2.4 -1.1l2.4 -1.2l2.4 -1.1l2.5 -1.1l2.4 -1.2l2.4 -1.2l2.4 -1.1l2.4 -1.2l2.4 -1.2l2.4 -1.2l2.4 -1.1l2.4 -1.2l2.4 -1.1l2.4 -1.1l2.4 -1l2.4 -1l2.4 -1l2.4 -1l2.4 -1l2.5 -1l2.4 -1.1l2.4 -1.1l2.4 -1.3l2.4 -1.4l2.4 -1.5l2.4 -1.7l2.4 -1.8l2.4 -1.8l2.4 -1.8l2.4 -1.7l2.4 -1.8l2.4 -1.9l2.4 -2.1l2.4 -2.3l2.4 -2.7l2.4 -3.1l2.2 -3.1l.3 -.4l.4 -.7l.7 -1.3l.7 -1.3l.6 -1.1l.1 -.4l.8 -1.5l.7 -1.6l.7 -1.8l.1 -.2l.6 -1.8l.7 -2.1l.8 -2.4l.3 -1.1l.4 -1.6l.7 -2.9l.7 -3.4l.6 -2.8l.2 -1l.7 -4.3l.7 -4.9l.7 -5.7l.1 -.5l.6 -6l.8 -7.4l.7 -8.5l.3 -4l.4 -5.8l.7 -11.3l.8 -12.8l.5 -10.7l.2 -3.9l.7 -16.5l.7 -18.7l.7 -20.9l.1 -1.9l.7 -21.5l.7 -25.9l.7 -28.7l.3 -12.7l.4 -18.6l.8 -34.1l.7 -36.8l.5 -29.3l.2 -10.1l.7 -41.8l.7 -44.1l.8 -46l0 -4l.7 -43.6l.7 -48.5l.7 -49l.3 -20.4l.4 -28.4l.8 -47.7l.7 -45.8l.5 -32.5l.2 -10.4l.7 -38.9l.6 -28.6l.2 -5.2l.6 -23.6l.1 -4.2l0 -2l.6 -15.7l.1 -3l.6 -11.2l.1 -1.6l.6 -4.4l.1 -.2l.3 .6l.3 2.1l.2 1.2l.6 9.6l.1 2.6l.6 16.1l.1 3.9l.5 19.6l.1 2.4l.1 5l.6 27.2l.2 5.9l.6 31.4l.1 6.7l.6 34.8l.1 7.2l.1 3.7l.5 33.6l.1 7.7l.6 38.9l.1 7.9l.6 39.8l.2 8l.3 20l.3 19.9l.1 8l.6 39.6l.1 7.9l.6 38.7l.1 7.6l.6 33.7l0 3.7l.1 7.3l.6 35.8l.2 7l.6 33.8l.1 6.6l.6 31.7l.1 6.2l.1 3l.5 26.5l.1 5.6l.6 27.2l.2 5.2l.6 24.8l.1 4.7l.3 11.5l.3 10.9l.1 4.3l.6 20.1l.1 3.8l.6 17.9l.1 3.4l.6 14.3l0 1.5l.2 2.9l.6 13.8l.1 2.6l.6 11.9l.1 2.2l.6 10.3l.1 1.9l.1 .9l.5 7.8l.2 1.6l.6 7.3l.1 1.3l.6 6.1l.1 1.1l.3 2.6l.3 2.4l.1 .9l.6 4l.1 .7l.6 3.3l.2 .6l.5 2.3l.1 .2l.1 .5l.6 2l.1 .3l.6 1.6l.1 .3l.6 1.2l.1 .2l.1 .1l.6 .8l.1 .2l.6 .7l.1 .2l.6 .7l.1 .1l.3 .3l.3 .3l.1 .1l.6 .7l.2 .2l.6 .7l.1 .2l.5 .7l.1 .1l.1 .2l.6 1.1l.1 .2l.6 1.2l.1 .3l.6 1.4l.2 .3l0 .2l.6 1.4l.1 .4l.6 1.8l.1 .4l.6 2.1l.1 .4l.3 1.1l.3 1.1l.8 2.9l.7 3l.6 2.9l.1 .3l.7 3.3l.7 3.5l.8 3.4l.1 .9l.6 2.7l.7 3.5l.7 3.5l.5 2.1l.3 1.4l.7 3.5l.7 3.4l.7 3.1l0 .3l.7 3.2l.8 3.2l.7 3l.2 .8l.5 2.2l.7 2.8l.7 2.8l.5 1.5l.3 1.1l.7 2.5l.7 2.4l.7 2l0 .2l.8 2.2l.7 2l.7 1.9l.2 .5l.5 1.4l.7 1.7l.8 1.6l.4 1l.3 .8l.7 2.2l.7 2.6l.7 2.6l.1 .3l.7 3.2l.7 3.4l.7 3.6l.2 .9l.5 2.8l.8 3.8l.7 3.7l.4 2.2l.3 1.5l.7 3.5l.8 3.4l.6 2.9l.1 .3l.7 2.8l.7 2.5l.9 2.5l2.4 4l2.4 3.2l2.4 2.9l2.4 2.6l2.4 2.3l2.5 2.1l2.4 1.9l2.4 1.7l2.4 1.4l2.4 1.2l2.4 1l2.4 .8l2.4 .5l2.4 .4l2.4 .1l2.4 -.1l2.4 -.4l2.4 -.6l2.4 -.9l2.4 -1.2l2.4 -1.5l2.4 -2l2 -2.1l.5 -.5l.3 -.4l.7 -1l.7 -1.1l.7 -1l0 -.1l.7 -1.3l.8 -1.5l.7 -1.5l.2 -.4l.5 -1.3l.7 -1.9l.8 -2.1l.4 -1.3l.3 -1l.7 -2.5l.7 -2.8l.7 -2.8l0 -.3l.8 -3.3l.7 -3.7l.7 -4.1l.2 -1.1l.5 -3.4l.7 -4.9l.8 -5.4l.4 -3.3l.3 -2.5l.7 -6.4l.7 -6.8l.7 -6.9l.1 -.6l.7 -8l.7 -8.7l.7 -9.2l.2 -2.4l.5 -7.5l.8 -10.5l.7 -11.1l.4 -6.8l.3 -5l.7 -12.3l.8 -12.8l.6 -12.2l.1 -1.2l.7 -13.7l.7 -14.2l.7 -14.4l.2 -3.7l.6 -10.9l.7 -14.6l.7 -14.4l.4 -8.3l.3 -5.8l.8 -13.6l.7 -12.8l.6 -10.8l.1 -.9l.7 -10.5l.7 -8.9l.8 -7.2l.1 -1.5l.6 -3.6l.7 -3l.7 -.8l.4 .4l.3 .4l.8 1.7l.7 2.5l.7 3.1l0 .3l.7 4.2l.8 4.9l.7 5.6l.2 1.5l.5 4.8l.7 6.9l.7 7.4l.5 4.5l.3 3.3l.7 8.3l.7 8.7l.7 8.2l0 .7l.8 9.2l.7 9.4l.7 9.4l.2 2.4l.5 7.2l.7 9.7l.8 9.6l.4 5.6l.3 4l.7 9.6l.7 9.5l.7 8.6l0 .7l.8 9.3l.7 9l.7 8.9l.2 2.2l.5 6.5l.8 8.6l.7 8.3l.4 4.7l.3 3.4l.7 7.8l.7 7.6l.7 6.8l.1 .6l.7 7.2l.7 6.9l.7 6.7l.2 1.6l.6 4.8l.7 6.2l.7 6l.4 3.4l.3 2.3l.7 5.5l.8 5.3l.6 4.6l.1 .4l.7 4.9l.7 4.6l.7 4.4l.2 1.1l.6 3.1l.7 4l.7 3.9l.4 2.1l2.4 11.2l2.4 9.6l2.5 8l2.4 6.9l2.4 5.8l2.4 5.1l2.4 4.3l2.4 3.8l2.4 3.3l2.4 3l2.4 2.6l2.4 2.4l2.4 2.1l2.4 2l2.4 1.8l2.4 1.6l2.4 1.5l2.4 1.4l2.5 1.3l2.4 1.2l2.4 1.1l2.4 1l2.4 .9l2.4 .9l2.4 .9l2.4 .8l2.4 .7l2.4 .7l2.4 .7l2.4 .7l2.4 .6l2.4 .6l2.4 .6l2.4 .6l2.4 .5l2.5 .6l2.4 .5l2.4 .5l2.4 .5l2.4 .4l2.4 .5l2.4 .4l2.4 .5l2.4 .4l2.4 .4l2.4 .4l2.4 .5l2.4 .4l2.4 .4l2.4 .3l2.4 .4l2.4 .4l2.5 .4l2.4 .3l2.4 .4l2.4 .4l2.4 .3l2.4 .4l2.4 .3l2.4 .3l2.4 .4l2.4 .3l2.4 .3l2.4 .3"/>
<path d="M389.8 1493.3l2.4 -.1l2.4 -.1l2.4 -.1l2.4 -.1l2.4 -.2l2.4 -.2l2.4 -.2l2.4 -.3l2.4 -.2l2.4 -.3l2.4 -.4l2.5 -.3l2.4 -.4l2.4 -.4l2.4 -.4l2.4 -.4l2.4 -.4l2.4 -.4l2.4 -.5l2.4 -.4l2.4 -.5l2.4 -.5l2.4 -.7l2.4 -.7l2.4 -.8l2.4 -.9l2.4 -1l2.4 -1.1l2.5 -1l2.4 -1.2l2.4 -1.4l2.4 -1.7l2.4 -1.9l2.4 -2l2.4 -2l2.4 -1.9l2.4 -1.7l2.4 -1.4l2.4 -1.1l2.4 -1.1l2.4 -1.1l2.4 -.8l2.4 -.7l2.4 -.3l2.4 .1l2.5 .5l2.4 .7l2.4 .8l2.4 1l2.4 1l2.4 .9l2.4 .8l2.4 .7l2.4 .7l2.4 .8l2.4 .7l2.4 .8l2.4 .6l2.4 .5l2.4 .4l2.4 .2l2.5 0l2.4 0l2.4 -.2l2.4 -.2l2.4 -.3l2.4 -.3l2.4 -.4l2.4 -.4l2.4 -.4l2.4 -.4l2.4 -.4l2.4 -.5l2.4 -.5l2.4 -.6l2.4 -.6l2.4 -.6l2.4 -.7l2.5 -.8l2.4 -.7l2.4 -.8l2.4 -.9l2.4 -.8l2.4 -.9l2.4 -.9l2.4 -.9l2.4 -.9l2.4 -1l2.4 -1l2.4 -1.1l2.4 -1.1l2.4 -1.1l2.4 -1.2l2.4 -1.1l2.4 -1.2l2.5 -1.2l2.4 -1.2l2.4 -1.1l2.4 -1.2l2.4 -1.1l2.4 -1.1l2.4 -1.1l2.4 -1.1l2.4 -1l2.4 -1.1l2.4 -1l2.4 -1.1l2.4 -1l2.4 -1.1l2.4 -1.1l2.4 -1.1l2.5 -1.1l2.4 -1.2l2.4 -1.1l2.4 -1.2l2.4 -1.3l2.4 -1.3l2.4 -1.4l2.4 -1.4l2.4 -1.5l2.4 -1.4l2.4 -1.5l2.4 -1.4l2.4 -1.4l2.4 -1.4l2.4 -1.2l2.4 -1.2l2.4 -1.1l2.5 -1.1l2.4 -1.1l2.4 -1.1l2.4 -1l2.4 -1.1l2.4 -1l2.4 -1l2.4 -1.1l2.4 -1l2.4 -1l2.4 -1.1l2.4 -1.1l2.4 -1.1l2.4 -1.1l2.4 -1.2l2.4 -1.1l2.5 -1.2l2.4 -1.2l2.4 -1.2l2.4 -1.1l2.4 -1.2l2.4 -1.2l2.4 -1.2l2.4 -1.2l2.4 -1.2l2.4 -1.2l2.4 -1.1l2.4 -1.2l2.4 -1.2l2.4 -1.2l2.4 -1.2l2.4 -1.2l2.4 -1.2l2.5 -1.2l2.4 -1.2l2.4 -1.1l2.4 -1.1l2.4 -1.1l2.4 -1l2.4 -1l2.4 -1l2.4 -1l2.4 -1l2.4 -1l2.4 -1.1l2.4 -1.2l2.4 -1.2l2.4 -1.5l2.4 -1.6l2.4 -1.8l2.5 -1.9l2.4 -1.9l2.4 -1.9l2.4 -1.9l2.4 -1.9l2.4 -2l2.4 -2.1l2.4 -2.5l2.4 -2.7l2.4 -3.1l2.4 -3.5l1.5 -2.4l.7 -1.4l.2 -.4l.5 -1l.7 -1.4l.7 -1.6l.5 -1.1l.3 -.6l.7 -1.8l.7 -2l.7 -2.2l.8 -2.3l.7 -2.6l.7 -2.9l.2 -1l.5 -2.2l.7 -3.6l.8 -4l.4 -3l.3 -1.6l.7 -5.2l.7 -6l.7 -6.8l.8 -7.7l.7 -8.9l.7 -10.1l.3 -3.7l.4 -7.9l.8 -13.1l.7 -14.9l.5 -11l.2 -5.8l.7 -19l.7 -21.2l.8 -23.6l.7 -26.1l.7 -28.7l.7 -31.5l.3 -11l.5 -23.1l.7 -36.8l.7 -39.3l.5 -27.6l.2 -14.2l.7 -44l.8 -45.9l.7 -47.4l.7 -48.4l.7 -48.8l.8 -48.7l.2 -16l.5 -31.6l.7 -45.8l.7 -42.9l.5 -26.4l.2 -12.5l.6 -28.6l.2 -5.3l.6 -23.6l.1 -4.2l.6 -17.8l.1 -3l.6 -11.3l.1 -1.6l.6 -4.5l.1 -.2l.6 2.6l.2 1.2l.2 3.1l.4 6.4l.1 2.6l.6 16l.1 3.9l.6 21.9l.1 5l.5 21.3l.1 5.7l.2 5.9l.6 31.3l.1 6.7l.6 34.6l.1 7.2l.6 37.1l.1 7.6l.6 38.7l.1 7.8l.6 39.6l.2 7.9l.6 39.7l.1 7.9l.2 15.8l.4 23.5l.1 7.8l.6 38.4l.1 7.6l.6 37.1l.2 7.3l.4 28.5l.2 7l.1 6.9l.6 33.6l.1 6.5l.6 31.5l.1 6.1l.6 29.3l.1 5.6l.6 27l.2 5.2l.6 24.7l.1 4.7l.6 22.3l.1 4.3l.2 8.2l.4 11.8l.1 3.8l.6 17.9l.1 3.4l.7 15.7l.1 3l.5 11.2l.1 2.6l.1 2.6l.6 11.9l.1 2.3l.6 10.2l.1 1.9l.6 8.8l.2 1.6l.6 7.4l.1 1.3l.6 6.1l.1 1.1l.6 5.1l.1 .9l.3 1.7l.3 2.4l.1 .7l.6 3.3l.2 .6l.6 2.6l.1 .4l.5 1.7l.1 .4l.1 .3l.6 1.6l.1 .3l.6 1.2l.2 .2l.6 .9l.1 .2l.6 .8l.1 .1l.6 .7l.1 .1l.6 .6l.1 .2l.3 .2l.3 .4l.2 .2l.6 .7l.1 .2l.6 .9l.1 .2l.5 .8l.1 .2l.1 .2l.6 1.3l.2 .2l.6 1.5l.1 .3l.6 1.7l.1 .3l.6 1.9l.1 .4l.6 2.1l.1 .4l.6 2.3l.4 1.5l.4 1.4l.7 3.2l.7 3.2l.6 2.9l.1 .6l.7 3.5l.8 3.5l.7 3.7l.1 .6l.6 3l.7 3.6l.8 3.6l.3 1.8l.4 1.8l.7 3.5l.7 3.4l.6 2.8l.1 .5l.8 3.2l.7 3.2l.7 3l.1 .5l.6 2.4l.8 2.8l.7 2.6l.3 1.3l.4 1.3l.7 2.4l.7 2.3l.6 1.8l.2 .4l.7 2l.7 2l.7 1.9l.1 .3l.6 2l.8 2.8l.7 3.3l.4 1.8l.3 1.9l.7 4.1l.8 4.2l.6 3.7l.1 .8l.7 4.5l.7 4.6l.7 4.6l.2 .7l.6 3.7l.7 4.3l.7 4l.4 1.9l.3 1.8l.8 3.2l.7 2.9l.6 1.9l.1 .3l.7 1.7l1.6 2.6l2.4 3.6l2.4 3.3l2.4 2.9l2.4 2.6l2.4 2.3l2.4 2.1l2.4 1.8l2.4 1.6l2.4 1.3l2.4 1.1l2.4 .8l2.5 .7l2.4 .3l2.4 .2l2.4 -.1l2.4 -.4l2.4 -.6l2.4 -.8l2.4 -1.1l2.4 -1.4l2.4 -1.8l2.4 -2.4l1.3 -1.5l.8 -1l.3 -.5l.4 -.5l.7 -1.1l.7 -1.2l.6 -1.2l.1 -.2l.8 -1.5l.7 -1.6l.7 -1.7l.1 -.4l.6 -1.6l.8 -2.1l.7 -2.4l.3 -1.2l.4 -1.3l.7 -2.9l.7 -3.1l.6 -2.8l.2 -.6l.7 -3.8l.7 -4.2l.7 -4.5l.2 -.8l.6 -4.2l.7 -5.5l.7 -5.9l.4 -3.2l.3 -3.3l.7 -7l.8 -7.5l.6 -6.8l.1 -1.4l.7 -8.8l.7 -9.4l.7 -10l.2 -1.7l.6 -9l.7 -11.3l.7 -11.9l.4 -6.1l.3 -6.3l.8 -13.1l.7 -13.5l.6 -11.7l.1 -2.3l.7 -14.4l.7 -14.7l.8 -14.7l.1 -2.5l.6 -12.4l.7 -14.6l.7 -14.3l.4 -7l.4 -6.8l.7 -13l.7 -11.9l.6 -8.9l.1 -1.7l.7 -9l.8 -7.3l.7 -5.2l.1 -.7l.6 -2.3l.7 -.8l.8 .9l.3 .7l.4 1l.7 2.6l.7 3.4l.6 3.5l.1 .8l.8 5l.7 5.8l.7 6.4l.1 1.1l.6 5.9l.7 7.5l.8 8.1l.3 4.1l.4 4.3l.7 8.8l.7 9.1l.6 7.8l.2 1.6l.7 9.5l.7 9.7l.7 9.8l.1 1.6l.6 8.2l.8 9.8l.7 9.8l.3 4.9l.4 4.9l.7 9.6l.8 9.6l.6 7.8l.1 1.6l.7 9.2l.7 9.1l.7 8.9l.2 1.4l.6 7.2l.7 8.5l.7 8.3l.4 4l.3 4l.7 7.8l.8 7.5l.6 6.1l.1 1.2l.7 7.1l.7 6.8l.8 6.6l.1 1l.6 5.3l.7 6.1l.7 5.8l.4 2.8l.3 2.8l.8 5.4l.7 5.2l.6 4.1l.1 .8l.7 4.7l.8 4.5l.7 4.3l.1 .7l.6 3.4l.7 4l1.1 5.5l2.4 11l2.4 9.3l2.4 7.9l2.4 6.7l2.4 5.7l2.4 4.9l2.4 4.3l2.5 3.7l2.4 3.3l2.4 2.9l2.4 2.5l2.4 2.3l2.4 2.1l2.4 2l2.4 1.7l2.4 1.6l2.4 1.5l2.4 1.3l2.4 1.2l2.4 1.1l2.4 1l2.4 1l2.4 .9l2.4 .8l2.5 .8l2.4 .8l2.4 .7l2.4 .7l2.4 .6l2.4 .7l2.4 .6l2.4 .6l2.4 .5l2.4 .6l2.4 .5l2.4 .5l2.4 .4l2.4 .5l2.4 .5l2.4 .4l2.4 .4l2.5 .5l2.4 .4l2.4 .4l2.4 .4l2.4 .4l2.4 .4l2.4 .4l2.4 .4l2.4 .3l2.4 .4l2.4 .4l2.4 .3l2.4 .4l2.4 .3l2.4 .4l2.4 .3l2.4 .4l2.5 .3l2.4 .3l2.4 .4l2.4 .3l2.4 .3"/>
<path d="M398.6 1545.3l2.4 -.1l2.5 0l2.4 -.1l2.4 -.1l2.4 -.2l2.4 -.1l2.4 -.2l2.4 -.3l2.4 -.2l2.4 -.3l2.4 -.2l2.4 -.3l2.4 -.4l2.4 -.3l2.4 -.4l2.4 -.3l2.4 -.4l2.4 -.4l2.5 -.4l2.4 -.4l2.4 -.4l2.4 -.5l2.4 -.7l2.4 -.7l2.4 -.8l2.4 -.9l2.4 -.9l2.4 -1l2.4 -1.1l2.4 -1.1l2.4 -1.5l2.4 -1.7l2.4 -1.9l2.4 -2l2.4 -2.1l2.5 -1.9l2.4 -1.7l2.4 -1.5l2.4 -1.1l2.4 -1.1l2.4 -1.1l2.4 -.9l2.4 -.6l2.4 -.4l2.4 .1l2.4 .3l2.4 .7l2.4 .9l2.4 .9l2.4 1l2.4 1l2.5 .8l2.4 .7l2.4 .8l2.4 .8l2.4 .8l2.4 .8l2.4 .7l2.4 .6l2.4 .4l2.4 .2l2.4 0l2.4 -.1l2.4 -.1l2.4 -.2l2.4 -.3l2.4 -.3l2.4 -.3l2.5 -.4l2.4 -.3l2.4 -.4l2.4 -.4l2.4 -.4l2.4 -.5l2.4 -.6l2.4 -.5l2.4 -.7l2.4 -.6l2.4 -.7l2.4 -.8l2.4 -.7l2.4 -.8l2.4 -.8l2.4 -.9l2.4 -.8l2.5 -.9l2.4 -.9l2.4 -.9l2.4 -1l2.4 -1.1l2.4 -1.1l2.4 -1.2l2.4 -1.1l2.4 -1.2l2.4 -1.2l2.4 -1.2l2.4 -1.2l2.4 -1.2l2.4 -1.2l2.4 -1.1l2.4 -1.1l2.5 -1.1l2.4 -1l2.4 -1.1l2.4 -1l2.4 -1l2.4 -1l2.4 -1l2.4 -1.1l2.4 -1l2.4 -1.1l2.4 -1.1l2.4 -1.1l2.4 -1.1l2.4 -1.2l2.4 -1.2l2.4 -1.3l2.4 -1.4l2.5 -1.5l2.4 -1.5l2.4 -1.5l2.4 -1.5l2.4 -1.5l2.4 -1.4l2.4 -1.3l2.4 -1.3l2.4 -1.2l2.4 -1.1l2.4 -1.1l2.4 -1.1l2.4 -1l2.4 -1.1l2.4 -1l2.4 -1l2.4 -1l2.5 -1l2.4 -1l2.4 -1l2.4 -1.1l2.4 -1.1l2.4 -1.1l2.4 -1.1l2.4 -1.2l2.4 -1.1l2.4 -1.2l2.4 -1.2l2.4 -1.2l2.4 -1.2l2.4 -1.2l2.4 -1.2l2.4 -1.3l2.5 -1.2l2.4 -1.2l2.4 -1.2l2.4 -1.2l2.4 -1.1l2.4 -1.3l2.4 -1.2l2.4 -1.2l2.4 -1.3l2.4 -1.2l2.4 -1.2l2.4 -1.2l2.4 -1.2l2.4 -1.1l2.4 -1.1l2.4 -1l2.4 -1l2.5 -1l2.4 -.9l2.4 -1l2.4 -1l2.4 -1.1l2.4 -1.2l2.4 -1.4l2.4 -1.4l2.4 -1.7l2.4 -1.9l2.4 -2.1l2.4 -2l2.4 -2.1l2.4 -2l2.4 -2l2.4 -2.1l2.4 -2.3l2.5 -2.6l2.4 -2.8l2.4 -3.2l2.4 -3.7l2.4 -4.2l.2 -.5l.7 -1.4l.8 -1.6l.7 -1.6l.7 -1.7l.7 -1.9l.8 -2l.2 -.6l.5 -1.5l.7 -2.3l.7 -2.6l.5 -1.8l.2 -1l.8 -3l.7 -3.5l.7 -3.8l.7 -4.3l.7 -4.8l.8 -5.5l.2 -1.9l.5 -4.3l.7 -7l.7 -8l.5 -6l.3 -3.2l.7 -10.4l.7 -11.7l.7 -13.4l.7 -15.1l.8 -17l.7 -19.1l.2 -6.8l.5 -14.5l.7 -23.6l.8 -26.1l.4 -18.8l.3 -9.9l.7 -31.2l.7 -34l.7 -36.5l.8 -39l.7 -41.4l.7 -43.6l.2 -14.9l.5 -30.5l.7 -46.9l.8 -47.9l.5 -32.3l.2 -16.1l.7 -48.2l.7 -47.3l.8 -45.3l.7 -42.6l.7 -38.7l.6 -28.5l.1 -5.2l.3 -9.9l.3 -13.6l.1 -4.2l.6 -17.8l.2 -2.9l.6 -11.4l.1 -1.6l.5 -4.1l.1 -.4l.1 -.2l.6 2.5l.1 1.2l.6 9.3l.2 2.6l.6 15.8l.1 3.8l.6 21.7l.1 4.9l.6 26.7l.1 5.8l.6 31l.1 6.6l.3 13.4l.3 20.8l.2 7.1l.6 36.6l.1 7.5l.6 38.2l.1 7.7l.5 31.2l.1 7.8l.1 7.9l.6 39.1l.2 7.8l.6 38.7l.1 7.7l.6 37.8l.1 7.5l.6 36.5l.1 7.2l.6 35l.1 6.8l.6 33.1l.2 6.4l.2 12.6l.4 18.4l.1 6l.6 28.9l.1 5.5l.6 26.7l.1 5.1l.5 19.6l.1 4.7l.1 4.6l.6 22.1l.2 4.2l.6 19.8l.1 3.8l.6 17.7l.1 3.3l.6 15.6l.1 3l.6 13.7l.2 2.5l.6 11.9l.1 2.2l.2 4.3l.4 5.9l.1 1.9l.6 8.7l.1 1.6l.6 7.4l.1 1.3l.5 5l.1 1.1l.2 1.1l.6 5.1l.1 .9l.6 4.1l.1 .7l.6 3.3l.1 .6l.6 2.6l.2 .4l.6 2l.1 .4l.6 1.5l.1 .3l.2 .5l.4 .7l.1 .2l.6 .9l.1 .2l.6 .8l.2 .1l.4 .5l.2 .1l.1 .2l.6 .6l.1 .1l.6 .7l.1 .1l.6 .7l.1 .2l.6 .9l.2 .2l.6 1l.1 .2l.6 1.3l.1 .3l.3 .5l.3 .9l.1 .3l.6 1.7l.2 .4l.6 1.9l.1 .4l.5 1.7l.1 .4l.1 .5l.6 2.3l.7 3l.7 3.2l.2 .6l.6 2.8l.7 3.5l.7 3.6l.4 1.8l.3 1.8l.8 3.7l.7 3.8l.6 3.1l.1 .6l.7 3.7l.7 3.6l.8 3.6l.1 .6l.6 2.9l.7 3.4l.7 3.3l.4 1.6l.4 1.6l.7 3.1l.7 2.9l.6 2.4l.1 .5l.7 2.7l.8 2.6l.7 2.4l.1 .4l.6 1.9l.7 2.2l.7 2.1l.4 1.1l.4 1.3l.7 3.1l.7 3.7l.6 3.4l.1 .7l.8 4.6l.7 5l.7 5.1l.1 .9l.6 4.5l.7 5.4l.8 5.3l.3 2.7l.4 2.6l.7 5.1l.7 4.8l.6 3.8l.2 .7l.7 4l.7 3.5l.7 2.8l.1 .4l.6 1.8l.8 1.5l.7 1.3l.3 .7l2.4 4l2.5 3.7l2.4 3.2l2.4 2.8l2.4 2.6l2.4 2.2l2.4 1.9l2.4 1.7l2.4 1.4l2.4 1.2l2.4 .9l2.4 .7l2.4 .4l2.4 .1l2.4 -.1l2.4 -.4l2.4 -.6l2.5 -.9l2.4 -1.1l2.4 -1.4l2.4 -1.7l2.4 -2.3l2.3 -2.7l.1 -.1l.6 -.9l.8 -1.1l.7 -1.1l.3 -.5l.4 -.8l.7 -1.4l.8 -1.5l.5 -1.2l.2 -.4l.7 -1.8l.7 -2l.7 -2.2l.1 -.2l.7 -2.1l.7 -2.6l.7 -2.9l.3 -1.3l.4 -1.9l.7 -3.4l.8 -3.9l.5 -3.1l.2 -1l.7 -4.6l.7 -5l.8 -5.5l0 -.5l.7 -5.5l.7 -6.5l.7 -7l.3 -3.1l.4 -4.6l.8 -8.2l.7 -8.8l.5 -7l.2 -2.4l.7 -10.1l.8 -10.8l.7 -11.3l0 -1l.7 -11l.7 -12.5l.7 -13.1l.3 -5.7l.5 -8l.7 -14l.7 -14.5l.5 -11l.2 -3.7l.8 -14.9l.7 -14.9l.7 -14.7l.1 -1.2l.6 -13.2l.7 -13.8l.8 -13l.3 -5.2l.4 -6.8l.7 -10.7l.7 -9l.6 -5.7l.1 -1.6l.8 -5.2l.7 -3.1l.7 -.7l.1 0l.6 .9l.8 1.8l.7 2.6l.3 1.4l.4 2.1l.7 4.3l.7 5.1l.6 4.3l.2 1.5l.7 6.5l.7 7.1l.7 7.6l.1 .6l.7 7.5l.7 8.5l.7 8.9l.3 3.8l.4 5.4l.7 9.5l.8 9.6l.5 7.3l.2 2.5l.7 9.8l.7 10l.7 9.9l.1 .8l.7 9.1l.7 9.8l.7 9.8l.3 4l.4 5.6l.8 9.5l.7 9.3l.5 6.9l.2 2.3l.7 9l.7 8.7l.8 8.6l0 .7l.7 7.6l.7 8.1l.7 7.9l.3 3.2l.5 4.4l.7 7.4l.7 7.1l.5 5.2l.2 1.7l.7 6.7l.8 6.4l.7 6.1l0 .5l.7 5.4l.7 5.7l.7 5.5l.4 2.2l.4 3l.7 5l.7 4.8l.6 3.4l.1 1.1l.8 4.4l.7 4.2l.7 3.9l.1 .4l2.4 11.9l2.4 10.1l2.4 8.6l2.4 7.3l2.4 6.2l2.4 5.3l2.4 4.6l2.4 4l2.4 3.5l2.4 3.1l2.4 2.7l2.4 2.4l2.4 2.2l2.4 2l2.5 1.8l2.4 1.7l2.4 1.5l2.4 1.3l2.4 1.2l2.4 1.1l2.4 1l2.4 1l2.4 .9l2.4 .8l2.4 .8l2.4 .7l2.4 .7l2.4 .7l2.4 .6l2.4 .7l2.4 .5l2.5 .6l2.4 .5l2.4 .6l2.4 .5l2.4 .4l2.4 .5l2.4 .4l2.4 .5l2.4 .4l2.4 .4l2.4 .4l2.4 .4l2.4 .4l2.4 .4l2.4 .4l2.4 .4l2.4 .4l2.5 .3l2.4 .4l2.4 .4l2.4 .3l2.4 .4l2.4 .3l2.4 .4l2.4 .3l2.4 .4l2.4 .3l2.4 .3l2.4 .4l2.4 .3l2.4 .3l2.4 .3"/>
<path d="M407.5 1597.0l2.4 0l2.4 -.1l2.4 0l2.4 -.1l2.4 -.1l2.4 -.2l2.4 -.1l2.4 -.2l2.5 -.2l2.4 -.2l2.4 -.3l2.4 -.2l2.4 -.3l2.4 -.3l2.4 -.3l2.4 -.3l2.4 -.4l2.4 -.3l2.4 -.4l2.4 -.3l2.4 -.4l2.4 -.5l2.4 -.6l2.4 -.7l2.4 -.8l2.5 -.8l2.4 -1l2.4 -1l2.4 -1l2.4 -1.1l2.4 -1.5l2.4 -1.7l2.4 -2l2.4 -2l2.4 -2.1l2.4 -1.9l2.4 -1.8l2.4 -1.5l2.4 -1.1l2.4 -1.1l2.4 -1.1l2.5 -.9l2.4 -.7l2.4 -.4l2.4 -.1l2.4 .4l2.4 .6l2.4 .8l2.4 1l2.4 1l2.4 1l2.4 .9l2.4 .7l2.4 .8l2.4 .9l2.4 .9l2.4 .8l2.4 .8l2.5 .6l2.4 .5l2.4 .2l2.4 0l2.4 -.1l2.4 -.1l2.4 -.2l2.4 -.3l2.4 -.2l2.4 -.3l2.4 -.3l2.4 -.4l2.4 -.3l2.4 -.4l2.4 -.4l2.4 -.4l2.4 -.5l2.5 -.6l2.4 -.6l2.4 -.6l2.4 -.7l2.4 -.7l2.4 -.7l2.4 -.8l2.4 -.8l2.4 -.7l2.4 -.9l2.4 -.8l2.4 -.8l2.4 -.9l2.4 -1l2.4 -1.1l2.4 -1.1l2.5 -1.2l2.4 -1.1l2.4 -1.3l2.4 -1.2l2.4 -1.2l2.4 -1.2l2.4 -1.2l2.4 -1.2l2.4 -1.2l2.4 -1.1l2.4 -1l2.4 -1.1l2.4 -1l2.4 -1l2.4 -1l2.4 -.9l2.4 -1l2.5 -1l2.4 -1l2.4 -1l2.4 -1.1l2.4 -1l2.4 -1.1l2.4 -1.2l2.4 -1.2l2.4 -1.3l2.4 -1.4l2.4 -1.5l2.4 -1.5l2.4 -1.5l2.4 -1.6l2.4 -1.5l2.4 -1.4l2.4 -1.4l2.5 -1.3l2.4 -1.2l2.4 -1.1l2.4 -1.1l2.4 -1l2.4 -1.1l2.4 -1l2.4 -1l2.4 -.9l2.4 -1l2.4 -1l2.4 -1l2.4 -1l2.4 -1l2.4 -1.1l2.4 -1.1l2.5 -1.1l2.4 -1.2l2.4 -1.2l2.4 -1.1l2.4 -1.2l2.4 -1.3l2.4 -1.2l2.4 -1.2l2.4 -1.2l2.4 -1.3l2.4 -1.2l2.4 -1.2l2.4 -1.3l2.4 -1.2l2.4 -1.2l2.4 -1.2l2.4 -1.2l2.5 -1.3l2.4 -1.3l2.4 -1.2l2.4 -1.2l2.4 -1.3l2.4 -1.1l2.4 -1.2l2.4 -1l2.4 -1l2.4 -1l2.4 -1l2.4 -.9l2.4 -1l2.4 -1l2.4 -1.1l2.4 -1.2l2.4 -1.4l2.5 -1.5l2.4 -1.8l2.4 -2l2.4 -2.2l2.4 -2.2l2.4 -2.2l2.4 -2.2l2.4 -2.1l2.4 -2.3l2.4 -2.5l2.4 -2.7l2.4 -3l2.4 -3.5l2.4 -3.9l2.4 -4.5l.5 -1l.7 -1.6l.8 -1.6l.4 -1.2l.3 -.6l.7 -1.9l.7 -2l.8 -2.1l.7 -2.3l.7 -2.5l.7 -2.7l.3 -1l.4 -2l.8 -3.3l.7 -3.6l.5 -2.7l.2 -1.4l.7 -4.5l.7 -5.1l.8 -5.7l.7 -6.5l.7 -7.3l.7 -8.4l.3 -3l.5 -6.4l.7 -10.7l.7 -12.1l.5 -8.9l.2 -4.8l.7 -15.4l.8 -17.3l.7 -19.3l.7 -21.6l.7 -23.9l.8 -26.3l.2 -9.3l.5 -19.5l.7 -31.4l.7 -34.1l.5 -24.1l.2 -12.5l.8 -39l.7 -41.5l.7 -43.5l.7 -45.4l.7 -46.9l.8 -47.9l.2 -16.1l.5 -32.3l.7 -48.2l.7 -47.2l.5 -30.5l.3 -14.9l.7 -42.6l.7 -38.6l.7 -33.7l.7 -27.6l.8 -20.6l.7 -12.8l.2 -2.4l.5 -2l.6 2.8l.1 1.2l.6 9.8l.2 2.6l.4 12.6l.2 3.7l.1 3.9l.6 22.2l.1 5l.6 27.3l.1 5.9l.6 31.6l.1 6.7l.6 34.9l.2 7.3l.6 37.3l.1 7.6l.6 39l.1 7.9l.2 15.8l.4 23.9l.1 8l.6 40l.2 8l.6 39.6l.1 7.9l.5 31.1l.1 7.7l.1 7.6l.6 37.6l.1 7.4l.6 36.1l.1 7l.6 34.3l.2 6.7l.6 32.3l.1 6.3l.6 30.2l.1 5.9l.6 28.1l.1 5.4l.3 10.6l.3 15.4l.1 4.9l.6 23.8l.2 4.5l.6 21.6l.1 4.2l.5 15.7l.1 3.8l.1 3.7l.6 17.5l.1 3.4l.6 15.6l.2 2.9l.6 13.9l.1 2.6l.6 12.1l.1 2.3l.6 10.6l.1 1.9l.6 9.1l.1 1.7l.3 3.2l.3 4.5l.2 1.4l.6 6.5l.1 1.1l.6 5.3l.1 .9l.5 3.4l.1 .7l.1 .7l.6 3.1l.2 .5l.6 2l.1 .4l.6 1l.1 .2l.6 .2l.1 -.1l.6 -.6l.1 -.2l.6 -1.4l.2 -.3l.2 -.8l.4 -1.3l.1 -.5l.6 -2.7l.1 -.6l.6 -3.1l.1 -.7l.5 -2.7l.1 -.7l.1 -.8l.7 -3.6l.1 -.8l.6 -3.7l.1 -.7l.6 -3.5l.1 -.7l.6 -3.1l.1 -.6l.6 -2.5l.2 -.4l.6 -1.7l.1 -.2l.2 -.4l.4 -.3l.1 0l.6 .5l.7 1.9l.6 2.6l.1 .6l.8 4.4l.7 5.5l.7 6.3l.1 1.1l.6 5.7l.8 7.1l.7 7.2l.3 3.5l.4 3.6l.7 6.8l.7 6.6l.6 5.1l.2 .9l.7 5.6l.7 5.1l.7 4.5l.1 .7l.7 3.3l.7 3.5l.7 3l.4 1.4l.3 1.2l.7 2.2l.8 1.9l.6 1.3l.1 .3l.7 1.4l.7 1.1l.7 1.1l.2 .2l.6 1.5l.7 2.5l.7 3.2l.4 1.8l.3 2l.8 4.3l.7 4.7l.6 4.2l.1 .8l.7 5.3l.7 5.4l.8 5.4l.1 .9l.6 4.4l.7 5.1l.7 4.9l.4 2.2l.4 2.2l.7 3.9l.7 3.3l.6 2.2l.1 .4l.7 1.7l.8 1.2l.7 1.2l.1 .2l.6 .9l.7 1.1l.7 1.1l.4 .5l.4 .5l.7 1l1.3 1.8l2.4 3l2.4 2.7l2.4 2.4l2.4 2.1l2.4 1.9l2.5 1.6l2.4 1.3l2.4 1.1l2.4 .8l2.4 .6l2.4 .3l2.4 .1l2.4 -.2l2.4 -.5l2.4 -.7l2.4 -.9l2.4 -1.2l2.4 -1.4l2.4 -1.7l2.4 -2l2.4 -2.5l1.8 -2.3l.6 -.9l.1 -.1l.7 -1.1l.8 -1.2l.7 -1.4l.2 -.3l.5 -1.1l.7 -1.5l.7 -1.7l.5 -1.1l.3 -.7l.7 -2l.7 -2.2l.7 -2.2l0 -.2l.7 -2.7l.8 -2.9l.7 -3.2l.2 -.8l.5 -2.7l.7 -3.8l.8 -4.2l.4 -2.7l.3 -2l.7 -5l.7 -5.5l.7 -5.5l0 -.6l.8 -6.5l.7 -7.1l.7 -7.7l.2 -2l.5 -6.3l.8 -8.9l.7 -9.5l.4 -5.8l.3 -4.3l.7 -10.8l.7 -11.5l.7 -11l.1 -1l.7 -12.7l.7 -13.2l.7 -13.7l.2 -3.5l.5 -10.7l.8 -14.5l.7 -14.9l.4 -8.7l.3 -6.2l.7 -15l.8 -14.9l.6 -13.3l.1 -1.2l.7 -13.9l.7 -13.1l.7 -12l.2 -2.9l.6 -7.9l.7 -9.1l.7 -7.3l.4 -3.3l.3 -2l.8 -3l.7 -.7l.6 .8l.1 .1l.7 1.8l.7 2.7l.8 3.6l.1 1l.6 3.4l.7 5.1l.7 5.9l.5 3.7l.3 2.9l.7 7.1l.7 7.7l.7 7.6l0 .7l.7 8.6l.8 9l.7 9.3l.2 2.4l.5 7.2l.7 9.7l.7 9.9l.5 5.8l.3 4.2l.7 10l.7 10l.7 9.2l0 .8l.8 10l.7 9.9l.7 9.7l.2 2.4l.5 7.2l.7 9.5l.8 9.2l.4 5.3l.3 3.8l.7 8.9l.7 8.6l.7 7.8l.1 .7l.7 8.2l.7 7.9l.7 7.7l.2 1.9l.5 5.6l.8 7.2l.7 7l.4 4l.3 2.7l.7 6.5l.7 6.2l.7 5.5l.1 .5l.7 5.8l.7 5.5l.7 5.3l.2 1.3l.6 3.7l.7 4.9l.7 4.6l.4 2.6l.3 1.8l.7 4.3l.8 4l.6 3.5l2.4 11.6l2.4 9.9l2.4 8.3l2.5 7.1l2.4 6.1l2.4 5.1l2.4 4.5l2.4 3.9l2.4 3.3l2.4 3l2.4 2.6l2.4 2.3l2.4 2.2l2.4 1.9l2.4 1.7l2.4 1.6l2.4 1.4l2.4 1.2l2.4 1.2l2.4 1l2.5 1l2.4 .9l2.4 .8l2.4 .8l2.4 .7l2.4 .7l2.4 .7l2.4 .6l2.4 .6l2.4 .6l2.4 .5l2.4 .6l2.4 .5l2.4 .5l2.4 .4l2.4 .5l2.4 .4l2.5 .4l2.4 .4l2.4 .4l2.4 .4l2.4 .4l2.4 .4l2.4 .4l2.4 .4l2.4 .3l2.4 .4l2.4 .4l2.4 .3l2.4 .4l2.4 .3l2.4 .4l2.4 .3l2.5 .4l2.4 .3l2.4 .3l2.4 .4l2.4 .3l2.4 .3l2.4 .3l2.4 .4l2.4 .3"/>
</g>
<g fill="#fff" stroke="#000" stroke-width="7.7" stroke-linecap="round" stroke-linejoin="round">
<path d="M1215.6 609.0l2.4 -.6l2.4 -.5l2.4 -.6l2.4 -.6l2.4 -.7l2.4 -.6l2.4 -.7l2.4 -.6l2.4 -.7l2.4 -.7l2.5 -.8l2.4 -.7l2.4 -.8l2.4 -.8l2.4 -.8l2.4 -.9l2.4 -.8l2.4 -.8l2.4 -.9l2.4 -.8l2.4 -.8l2.4 -.9l2.4 -.8l2.4 -.8l2.4 -.8l2.4 -.7l2.5 -.8l2.4 -.8l2.4 -.7l2.4 -.8l2.4 -.7l2.4 -.8l2.4 -.8l2.4 -.7l2.4 -.8l2.4 -.8l2.4 -.8l2.4 -.9l2.4 -.9l2.4 -.8l2.4 -1l2.4 -.9l2.4 -1l2.5 -1l2.4 -1l2.4 -1l2.4 -1.1l2.4 -1.1l2.4 -1.1l2.4 -1.1l2.4 -1.1l2.4 -1.2l2.4 -1.2l2.4 -1.2l2.4 -1.2l2.4 -1.2l2.4 -1.2l2.4 -1.3l2.4 -1.2l2.4 -1.3l2.5 -1.3l2.4 -1.3l2.4 -1.4l2.4 -1.3l2.4 -1.4l2.4 -1.5l2.4 -1.4l2.4 -1.4l2.4 -1.5l2.4 -1.5l2.4 -1.5l2.4 -1.5l2.4 -1.5l2.4 -1.6l2.4 -1.5l2.4 -1.6l2.5 -1.5l2.4 -1.6l2.4 -1.6l2.4 -1.6l2.4 -1.6l2.4 -1.7l2.4 -1.6l2.4 -1.7l2.4 -1.7l2.4 -1.7l2.4 -1.8l2.4 -1.8l2.4 -1.8l2.4 -1.9l2.4 -1.9l2.4 -1.9l2.4 -2.1l2.5 -2.1l2.4 -2.2l2.4 -2.2l2.4 -2.2l2.4 -2.3l2.4 -2.3l2.4 -2.3l2.4 -2.2l2.4 -2.3l2.4 -2.1l2.4 -2.2l2.4 -2.1l2.4 -2l2.4 -2.1l2.4 -2.1l2.4 -2l2.4 -2l2.5 -2l2.4 -2l2.4 -2l2.4 -2l2.4 -2l2.4 -1.9l2.4 -1.9l2.4 -2l2.4 -1.9l2.4 -1.9l2.4 -1.9l2.4 -2l2.4 -1.9l2.4 -2l2.4 -1.9l2.4 -1.8l2.5 -1.8l2.4 -1.7l2.4 -1.5l2.4 -1.5l2.4 -1.4l2.4 -1.4l2.4 -1.3l2.4 -1.4l2.4 -1.4l2.4 -1.4l2.4 -1.3l2.4 -1.3l2.4 -1.2l2.4 -1.2l2.4 -1.1l2.4 -1l2.4 -1l2.5 -.8l2.4 -.7l2.4 -.6l2.4 -.4l2.4 -.3l2.4 -.2l2.4 -.2l2.4 -.2l2.4 -.1l2.4 -.2l2.4 -.1l2.4 -.1l2.4 0l2.4 -.1l2.4 .1l2.4 0l2.5 .1l2.4 .2l2.4 .2l2.4 .4l2.4 .3l2.4 .4l2.4 .3l2.4 .5l2.4 .5l2.4 .6l2.4 .7l2.4 .8l2.4 .9l2.4 1l2.4 1l2.4 1l2.4 1.2l2.5 1.1l2.4 1.2l2.4 1.3l2.4 1.2l2.4 1.3l2.4 1.3l2.4 1.3l2.4 1.3l2.4 1.3l2.4 1.4l2.4 1.5l2.4 1.6l2.4 1.7l2.4 1.7l2.4 1.8l2.4 1.9l2.4 1.8l2.5 1.9l2.4 2l2.4 1.9l2.4 1.9l2.4 2l2.4 2l2.4 2l2.4 2.2l2.4 2.2l2.4 2.2l2.4 2.3l2.4 2.3l2.4 2.4l2.4 2.3l2.4 2.3l2.4 2.3l2.4 2.2l2.5 2.2l2.4 2.2l2.4 2l2.4 1.9l2.4 1.9l2.4 1.9l2.4 1.9l2.4 1.8l2.4 1.8l2.4 1.7l2.4 1.8l2.4 1.7l2.4 1.7l2.4 1.6l2.4 1.6l2.4 1.6l2.5 1.6l2.4 1.6l2.4 1.5l2.4 1.5l2.4 1.4l2.4 1.5l2.4 1.5l2.4 1.4l2.4 1.5l2.4 1.4l2.4 1.5l2.4 1.4l2.4 1.4l2.4 1.4l2.4 1.4l2.4 1.4l2.4 1.4l2.5 1.4l2.4 1.3l2.4 1.4l2.4 1.3l2.4 1.4l2.4 1.3l2.4 1.3l2.4 1.3l2.4 1.3l2.4 1.3l2.4 1.3l2.4 1.3l2.4 1.3l2.4 1.2l2.4 1.2l2.4 1.3l2.5 1.2l2.4 1.2l2.4 1.2l2.4 1.2l2.4 1.2l2.4 1.2l2.4 1.1l2.4 1.2l2.4 1.1l2.4 1.2l2.4 1.1l2.4 1.1l2.4 1.1l2.4 1.1l2.4 1.1l2.4 1.1l2.4 1l2.5 1.1l2.4 1l2.4 1l2.4 1.1l2.4 .9l2.4 1l2.4 1l2.4 .9l2.4 1l2.4 .9l2.4 .9l2.4 .9l2.4 .9l2.4 .8l2.4 .9l2.4 .8l2.4 .9l2.5 .8l2.4 .8l2.4 .8l2.4 .8l2.4 .8l2.4 .7l2.4 .8l2.4 .7l2.4 .8l2.4 .7l2.4 .7l2.4 .7l2.4 .8l2.4 .7l2.4 .7l2.4 .7l2.4 .7l2.5 .6l2.4 .7l2.4 .7l2.4 .7l2.4 .7l2.4 .6l2.4 .7l2.4 .7l2.4 .6l2.4 .7l2.4 .6l2.4 .6l2.4 .6l2.4 .7l2.4 .6l2.4 .6l2.5 .6l2.4 .6l2.4 .7l2.4 .6l2.4 .6l2.4 .7l2.4 .6l2.4 .7l2.4 .7l2.4 .7l2.4 .7l2.4 .7l2.4 .8l2.4 .7l2.4 .8l2.4 .7l2.4 .8l2.5 .8l2.4 .8l2.4 .8l2.4 .8l2.4 .8l2.4 .9l2.4 .8"/>
<path d="M1224.5 659.5l2.4 -.6l2.4 -.6l2.4 -.5l2.4 -.7l2.4 -.6l2.4 -.6l2.4 -.7l2.4 -.6l2.4 -.7l2.4 -.7l2.4 -.7l2.5 -.8l2.4 -.7l2.4 -.8l2.4 -.8l2.4 -.8l2.4 -.8l2.4 -.8l2.4 -.8l2.4 -.8l2.4 -.8l2.4 -.8l2.4 -.7l2.4 -.8l2.4 -.8l2.4 -.7l2.4 -.8l2.4 -.7l2.5 -.7l2.4 -.8l2.4 -.7l2.4 -.8l2.4 -.7l2.4 -.8l2.4 -.8l2.4 -.7l2.4 -.8l2.4 -.9l2.4 -.8l2.4 -.9l2.4 -.9l2.4 -.9l2.4 -.9l2.4 -1l2.5 -1l2.4 -1l2.4 -1l2.4 -1l2.4 -1.1l2.4 -1.1l2.4 -1.1l2.4 -1.1l2.4 -1.1l2.4 -1.1l2.4 -1.2l2.4 -1.1l2.4 -1.2l2.4 -1.2l2.4 -1.2l2.4 -1.2l2.4 -1.3l2.5 -1.2l2.4 -1.3l2.4 -1.3l2.4 -1.3l2.4 -1.3l2.4 -1.4l2.4 -1.4l2.4 -1.3l2.4 -1.4l2.4 -1.5l2.4 -1.4l2.4 -1.4l2.4 -1.5l2.4 -1.5l2.4 -1.5l2.4 -1.5l2.4 -1.5l2.5 -1.5l2.4 -1.6l2.4 -1.5l2.4 -1.6l2.4 -1.6l2.4 -1.7l2.4 -1.7l2.4 -1.7l2.4 -1.7l2.4 -1.8l2.4 -1.8l2.4 -1.8l2.4 -1.9l2.4 -1.9l2.4 -2l2.4 -2l2.4 -2.1l2.5 -2.2l2.4 -2.1l2.4 -2.2l2.4 -2.2l2.4 -2.2l2.4 -2.2l2.4 -2.2l2.4 -2.1l2.4 -2.1l2.4 -2.1l2.4 -2l2.4 -2.1l2.4 -2l2.4 -2.1l2.4 -2l2.4 -2l2.5 -2l2.4 -2l2.4 -2l2.4 -2l2.4 -1.9l2.4 -2l2.4 -1.9l2.4 -1.9l2.4 -2l2.4 -1.9l2.4 -2l2.4 -1.9l2.4 -2l2.4 -1.9l2.4 -1.8l2.4 -1.8l2.4 -1.8l2.5 -1.6l2.4 -1.6l2.4 -1.4l2.4 -1.5l2.4 -1.5l2.4 -1.5l2.4 -1.5l2.4 -1.4l2.4 -1.5l2.4 -1.4l2.4 -1.3l2.4 -1.3l2.4 -1.3l2.4 -1.2l2.4 -1.1l2.4 -1.1l2.5 -1l2.4 -.9l2.4 -.8l2.4 -.6l2.4 -.6l2.4 -.5l2.4 -.5l2.4 -.5l2.4 -.4l2.4 -.4l2.4 -.3l2.4 -.2l2.4 -.2l2.4 -.1l2.4 0l2.4 .1l2.4 .1l2.5 .2l2.4 .2l2.4 .3l2.4 .3l2.4 .3l2.4 .4l2.4 .5l2.4 .5l2.4 .7l2.4 .7l2.4 .8l2.4 .9l2.4 1l2.4 1l2.4 1l2.4 1.1l2.4 1.1l2.5 1.2l2.4 1.2l2.4 1.2l2.4 1.3l2.4 1.3l2.4 1.4l2.4 1.4l2.4 1.5l2.4 1.6l2.4 1.6l2.4 1.6l2.4 1.8l2.4 1.7l2.4 1.9l2.4 1.8l2.4 1.9l2.4 1.9l2.5 1.9l2.4 1.9l2.4 2l2.4 1.9l2.4 2l2.4 2.1l2.4 2.2l2.4 2.1l2.4 2.3l2.4 2.2l2.4 2.3l2.4 2.2l2.4 2.3l2.4 2.2l2.4 2.2l2.4 2.1l2.5 2.1l2.4 2.1l2.4 1.9l2.4 1.9l2.4 1.9l2.4 1.9l2.4 1.9l2.4 1.8l2.4 1.8l2.4 1.8l2.4 1.7l2.4 1.8l2.4 1.7l2.4 1.7l2.4 1.7l2.4 1.6l2.4 1.6l2.5 1.6l2.4 1.6l2.4 1.6l2.4 1.6l2.4 1.5l2.4 1.6l2.4 1.5l2.4 1.5l2.4 1.5l2.4 1.6l2.4 1.5l2.4 1.4l2.4 1.5l2.4 1.5l2.4 1.4l2.4 1.5l2.5 1.4l2.4 1.5l2.4 1.4l2.4 1.4l2.4 1.4l2.4 1.3l2.4 1.4l2.4 1.4l2.4 1.3l2.4 1.3l2.4 1.3l2.4 1.3l2.4 1.3l2.4 1.3l2.4 1.2l2.4 1.3l2.4 1.2l2.5 1.2l2.4 1.3l2.4 1.2l2.4 1.2l2.4 1.1l2.4 1.2l2.4 1.2l2.4 1.1l2.4 1.2l2.4 1.1l2.4 1.1l2.4 1.1l2.4 1.1l2.4 1.1l2.4 1.1l2.4 1l2.4 1.1l2.5 1l2.4 1.1l2.4 1l2.4 1l2.4 .9l2.4 1l2.4 .9l2.4 1l2.4 .9l2.4 .9l2.4 .9l2.4 .9l2.4 .8l2.4 .9l2.4 .8l2.4 .8l2.4 .9l2.5 .8l2.4 .8l2.4 .8l2.4 .7l2.4 .8l2.4 .7l2.4 .8l2.4 .7l2.4 .8l2.4 .7l2.4 .7l2.4 .7l2.4 .7l2.4 .7l2.4 .7l2.4 .7l2.5 .7l2.4 .6l2.4 .7l2.4 .7l2.4 .7l2.4 .7l2.4 .6l2.4 .7l2.4 .6l2.4 .6l2.4 .7l2.4 .6l2.4 .6l2.4 .7l2.4 .6l2.4 .6l2.4 .7l2.5 .6l2.4 .6l2.4 .7l2.4 .6l2.4 .7l2.4 .7l2.4 .7l2.4 .7l2.4 .7l2.4 .7l2.4 .7l2.4 .7l2.4 .8l2.4 .7l2.4 .8l2.4 .8l2.4 .7l2.5 .8l2.4 .8l2.4 .8l2.4 .8l2.4 .8"/>
<path d="M1233.4 710.0l2.4 -.6l2.4 -.6l2.4 -.6l2.4 -.6l2.4 -.6l2.4 -.6l2.4 -.7l2.4 -.6l2.4 -.7l2.4 -.7l2.4 -.7l2.4 -.7l2.4 -.7l2.5 -.8l2.4 -.7l2.4 -.8l2.4 -.8l2.4 -.8l2.4 -.7l2.4 -.8l2.4 -.8l2.4 -.7l2.4 -.8l2.4 -.7l2.4 -.7l2.4 -.8l2.4 -.7l2.4 -.7l2.4 -.7l2.4 -.8l2.5 -.7l2.4 -.7l2.4 -.8l2.4 -.7l2.4 -.8l2.4 -.7l2.4 -.8l2.4 -.8l2.4 -.9l2.4 -.8l2.4 -.9l2.4 -.9l2.4 -.9l2.4 -.9l2.4 -.9l2.4 -1l2.5 -1l2.4 -1l2.4 -1l2.4 -1l2.4 -1.1l2.4 -1l2.4 -1.1l2.4 -1.1l2.4 -1.1l2.4 -1.1l2.4 -1.1l2.4 -1.2l2.4 -1.1l2.4 -1.2l2.4 -1.1l2.4 -1.2l2.4 -1.2l2.5 -1.3l2.4 -1.2l2.4 -1.3l2.4 -1.2l2.4 -1.3l2.4 -1.3l2.4 -1.3l2.4 -1.4l2.4 -1.3l2.4 -1.4l2.4 -1.4l2.4 -1.4l2.4 -1.4l2.4 -1.5l2.4 -1.4l2.4 -1.5l2.4 -1.5l2.5 -1.5l2.4 -1.6l2.4 -1.5l2.4 -1.7l2.4 -1.6l2.4 -1.7l2.4 -1.7l2.4 -1.7l2.4 -1.8l2.4 -1.8l2.4 -1.8l2.4 -1.9l2.4 -1.9l2.4 -2l2.4 -2.1l2.4 -2l2.5 -2.1l2.4 -2.1l2.4 -2.2l2.4 -2.1l2.4 -2.1l2.4 -2.1l2.4 -2.1l2.4 -2l2.4 -2.1l2.4 -2l2.4 -2.1l2.4 -2l2.4 -2l2.4 -2.1l2.4 -2l2.4 -2l2.4 -2l2.5 -2l2.4 -2l2.4 -2l2.4 -1.9l2.4 -2l2.4 -1.9l2.4 -2l2.4 -1.9l2.4 -2l2.4 -2l2.4 -1.9l2.4 -1.9l2.4 -1.9l2.4 -1.9l2.4 -1.7l2.4 -1.8l2.5 -1.6l2.4 -1.6l2.4 -1.6l2.4 -1.5l2.4 -1.6l2.4 -1.6l2.4 -1.6l2.4 -1.5l2.4 -1.5l2.4 -1.5l2.4 -1.4l2.4 -1.4l2.4 -1.4l2.4 -1.3l2.4 -1.4l2.4 -1.2l2.4 -1.2l2.5 -1.2l2.4 -1l2.4 -.9l2.4 -.9l2.4 -.9l2.4 -.7l2.4 -.8l2.4 -.6l2.4 -.5l2.4 -.4l2.4 -.3l2.4 -.2l2.4 0l2.4 0l2.4 0l2.4 .1l2.4 .2l2.5 .2l2.4 .2l2.4 .3l2.4 .3l2.4 .4l2.4 .5l2.4 .6l2.4 .7l2.4 .7l2.4 .8l2.4 .9l2.4 .9l2.4 1l2.4 1l2.4 1.1l2.4 1.1l2.4 1.1l2.5 1.2l2.4 1.3l2.4 1.4l2.4 1.4l2.4 1.5l2.4 1.5l2.4 1.6l2.4 1.6l2.4 1.7l2.4 1.7l2.4 1.8l2.4 1.8l2.4 1.8l2.4 1.9l2.4 1.8l2.4 1.9l2.5 1.9l2.4 1.9l2.4 2l2.4 1.9l2.4 2.1l2.4 2.1l2.4 2.1l2.4 2.1l2.4 2.2l2.4 2.1l2.4 2.2l2.4 2.2l2.4 2.2l2.4 2.1l2.4 2.1l2.4 2.1l2.4 2l2.5 2l2.4 1.9l2.4 1.9l2.4 1.9l2.4 1.9l2.4 1.9l2.4 1.8l2.4 1.8l2.4 1.9l2.4 1.8l2.4 1.7l2.4 1.8l2.4 1.7l2.4 1.8l2.4 1.7l2.4 1.7l2.5 1.6l2.4 1.7l2.4 1.6l2.4 1.7l2.4 1.6l2.4 1.6l2.4 1.6l2.4 1.6l2.4 1.6l2.4 1.6l2.4 1.6l2.4 1.5l2.4 1.6l2.4 1.5l2.4 1.5l2.4 1.5l2.4 1.5l2.5 1.5l2.4 1.5l2.4 1.4l2.4 1.4l2.4 1.5l2.4 1.4l2.4 1.3l2.4 1.4l2.4 1.4l2.4 1.3l2.4 1.3l2.4 1.3l2.4 1.3l2.4 1.2l2.4 1.3l2.4 1.2l2.4 1.3l2.5 1.2l2.4 1.2l2.4 1.2l2.4 1.2l2.4 1.2l2.4 1.2l2.4 1.1l2.4 1.1l2.4 1.2l2.4 1.1l2.4 1.1l2.4 1.1l2.4 1.1l2.4 1.1l2.4 1l2.4 1.1l2.4 1l2.5 1l2.4 1l2.4 1l2.4 1l2.4 .9l2.4 1l2.4 .9l2.4 .9l2.4 .9l2.4 .9l2.4 .9l2.4 .8l2.4 .9l2.4 .8l2.4 .9l2.4 .8l2.5 .8l2.4 .8l2.4 .7l2.4 .8l2.4 .8l2.4 .7l2.4 .7l2.4 .8l2.4 .7l2.4 .7l2.4 .7l2.4 .7l2.4 .7l2.4 .7l2.4 .7l2.4 .7l2.4 .7l2.5 .6l2.4 .7l2.4 .7l2.4 .7l2.4 .6l2.4 .7l2.4 .6l2.4 .7l2.4 .6l2.4 .6l2.4 .7l2.4 .6l2.4 .6l2.4 .7l2.4 .6l2.4 .7l2.5 .6l2.4 .7l2.4 .6l2.4 .7l2.4 .7l2.4 .7l2.4 .6l2.4 .7l2.4 .8l2.4 .7l2.4 .7l2.4 .7l2.4 .7l2.4 .8l2.4 .7l2.4 .8l2.4 .7l2.5 .8l2.4 .8l2.4 .7l2.4 .8"/>
<path d="M1242.3 761.5l2.4 -.6l2.4 -.6l2.4 -.6l2.4 -.6l2.4 -.7l2.4 -.6l2.4 -.6l2.4 -.7l2.4 -.7l2.4 -.6l2.4 -.7l2.4 -.7l2.4 -.7l2.4 -.8l2.5 -.7l2.4 -.7l2.4 -.8l2.4 -.7l2.4 -.8l2.4 -.7l2.4 -.7l2.4 -.8l2.4 -.7l2.4 -.7l2.4 -.7l2.4 -.7l2.4 -.8l2.4 -.7l2.4 -.7l2.4 -.7l2.4 -.7l2.5 -.7l2.4 -.7l2.4 -.8l2.4 -.7l2.4 -.8l2.4 -.8l2.4 -.8l2.4 -.8l2.4 -.8l2.4 -.9l2.4 -.8l2.4 -.9l2.4 -.9l2.4 -.9l2.4 -1l2.4 -.9l2.4 -1l2.5 -.9l2.4 -1l2.4 -1l2.4 -1.1l2.4 -1l2.4 -1l2.4 -1.1l2.4 -1.1l2.4 -1l2.4 -1.1l2.4 -1.1l2.4 -1.1l2.4 -1.1l2.4 -1.1l2.4 -1.2l2.4 -1.1l2.4 -1.2l2.5 -1.2l2.4 -1.2l2.4 -1.2l2.4 -1.2l2.4 -1.3l2.4 -1.2l2.4 -1.3l2.4 -1.3l2.4 -1.3l2.4 -1.4l2.4 -1.3l2.4 -1.4l2.4 -1.4l2.4 -1.4l2.4 -1.5l2.4 -1.5l2.5 -1.5l2.4 -1.5l2.4 -1.6l2.4 -1.6l2.4 -1.7l2.4 -1.7l2.4 -1.7l2.4 -1.7l2.4 -1.8l2.4 -1.8l2.4 -1.9l2.4 -1.9l2.4 -1.9l2.4 -2l2.4 -2l2.4 -2l2.4 -2l2.5 -2.1l2.4 -2l2.4 -2.1l2.4 -2l2.4 -2.1l2.4 -2l2.4 -2l2.4 -2l2.4 -2.1l2.4 -2l2.4 -2l2.4 -2.1l2.4 -2l2.4 -2l2.4 -2.1l2.4 -2l2.5 -2l2.4 -2l2.4 -2l2.4 -1.9l2.4 -2l2.4 -2l2.4 -1.9l2.4 -2l2.4 -2l2.4 -2l2.4 -1.9l2.4 -1.9l2.4 -1.9l2.4 -1.8l2.4 -1.8l2.4 -1.8l2.4 -1.6l2.5 -1.7l2.4 -1.7l2.4 -1.7l2.4 -1.7l2.4 -1.7l2.4 -1.6l2.4 -1.6l2.4 -1.6l2.4 -1.6l2.4 -1.5l2.4 -1.6l2.4 -1.6l2.4 -1.5l2.4 -1.6l2.4 -1.5l2.4 -1.5l2.4 -1.4l2.5 -1.3l2.4 -1.2l2.4 -1.2l2.4 -1.1l2.4 -1l2.4 -.9l2.4 -.8l2.4 -.6l2.4 -.4l2.4 -.3l2.4 -.1l2.4 0l2.4 0l2.4 0l2.4 .1l2.4 .1l2.4 .2l2.5 .1l2.4 .3l2.4 .3l2.4 .4l2.4 .6l2.4 .6l2.4 .6l2.4 .8l2.4 .8l2.4 .8l2.4 .9l2.4 1l2.4 1l2.4 1l2.4 1l2.4 1.2l2.5 1.3l2.4 1.4l2.4 1.5l2.4 1.5l2.4 1.6l2.4 1.6l2.4 1.6l2.4 1.7l2.4 1.7l2.4 1.8l2.4 1.7l2.4 1.9l2.4 1.8l2.4 1.8l2.4 1.9l2.4 1.9l2.4 1.9l2.5 1.8l2.4 2l2.4 2l2.4 2l2.4 2l2.4 2l2.4 2.1l2.4 2.1l2.4 2.1l2.4 2.1l2.4 2.1l2.4 2.1l2.4 2.1l2.4 2l2.4 2l2.4 2l2.5 1.9l2.4 1.9l2.4 2l2.4 1.9l2.4 1.9l2.4 1.9l2.4 1.8l2.4 1.9l2.4 1.9l2.4 1.8l2.4 1.8l2.4 1.8l2.4 1.8l2.4 1.8l2.4 1.8l2.4 1.7l2.4 1.7l2.5 1.8l2.4 1.7l2.4 1.7l2.4 1.7l2.4 1.7l2.4 1.7l2.4 1.6l2.4 1.7l2.4 1.6l2.4 1.7l2.4 1.6l2.4 1.6l2.4 1.6l2.4 1.5l2.4 1.6l2.4 1.5l2.4 1.6l2.5 1.5l2.4 1.4l2.4 1.5l2.4 1.4l2.4 1.5l2.4 1.4l2.4 1.3l2.4 1.4l2.4 1.3l2.4 1.4l2.4 1.3l2.4 1.2l2.4 1.3l2.4 1.3l2.4 1.2l2.4 1.3l2.4 1.2l2.5 1.2l2.4 1.2l2.4 1.2l2.4 1.2l2.4 1.1l2.4 1.2l2.4 1.1l2.4 1.1l2.4 1.2l2.4 1.1l2.4 1.1l2.4 1l2.4 1.1l2.4 1l2.4 1.1l2.4 1l2.5 1l2.4 1l2.4 1l2.4 .9l2.4 1l2.4 .9l2.4 .9l2.4 .9l2.4 .9l2.4 .9l2.4 .9l2.4 .8l2.4 .9l2.4 .8l2.4 .8l2.4 .8l2.4 .8l2.5 .8l2.4 .8l2.4 .7l2.4 .8l2.4 .7l2.4 .7l2.4 .7l2.4 .7l2.4 .7l2.4 .7l2.4 .7l2.4 .7l2.4 .7l2.4 .7l2.4 .7l2.4 .6l2.5 .7l2.4 .7l2.4 .6l2.4 .7l2.4 .6l2.4 .7l2.4 .6l2.4 .7l2.4 .6l2.4 .6l2.4 .7l2.4 .6l2.4 .7l2.4 .6l2.4 .7l2.4 .6l2.4 .7l2.5 .6l2.4 .7l2.4 .7l2.4 .6l2.4 .7l2.4 .7l2.4 .7l2.4 .7l2.4 .7l2.4 .7l2.4 .7l2.4 .7l2.4 .7l2.4 .8l2.4 .7l2.4 .7l2.4 .7l2.5 .8l2.4 .7"/>
<path d="M1251.2 811.7l2.4 -.6l2.4 -.6l2.4 -.6l2.4 -.7l2.4 -.6l2.4 -.6l2.4 -.7l2.4 -.6l2.4 -.7l2.4 -.6l2.4 -.7l2.4 -.7l2.4 -.7l2.4 -.7l2.4 -.7l2.4 -.7l2.5 -.7l2.4 -.7l2.4 -.7l2.4 -.7l2.4 -.7l2.4 -.7l2.4 -.7l2.4 -.7l2.4 -.7l2.4 -.7l2.4 -.7l2.4 -.7l2.4 -.7l2.4 -.7l2.4 -.7l2.4 -.7l2.4 -.7l2.5 -.7l2.4 -.7l2.4 -.8l2.4 -.7l2.4 -.8l2.4 -.8l2.4 -.8l2.4 -.8l2.4 -.9l2.4 -.8l2.4 -.9l2.4 -.9l2.4 -.9l2.4 -.9l2.4 -.9l2.4 -1l2.4 -.9l2.5 -1l2.4 -.9l2.4 -1l2.4 -1l2.4 -1l2.4 -1l2.4 -1l2.4 -1.1l2.4 -1l2.4 -1.1l2.4 -1l2.4 -1.1l2.4 -1l2.4 -1.1l2.4 -1.1l2.4 -1.1l2.5 -1.1l2.4 -1.2l2.4 -1.1l2.4 -1.2l2.4 -1.2l2.4 -1.2l2.4 -1.2l2.4 -1.2l2.4 -1.3l2.4 -1.3l2.4 -1.3l2.4 -1.3l2.4 -1.4l2.4 -1.4l2.4 -1.4l2.4 -1.5l2.4 -1.5l2.5 -1.6l2.4 -1.6l2.4 -1.6l2.4 -1.7l2.4 -1.6l2.4 -1.8l2.4 -1.7l2.4 -1.8l2.4 -1.8l2.4 -1.8l2.4 -1.9l2.4 -1.9l2.4 -2l2.4 -1.9l2.4 -2l2.4 -1.9l2.5 -2l2.4 -1.9l2.4 -2l2.4 -2l2.4 -2l2.4 -2l2.4 -2l2.4 -2.1l2.4 -2l2.4 -2l2.4 -2.1l2.4 -2l2.4 -2l2.4 -2.1l2.4 -2l2.4 -2l2.4 -2l2.5 -2l2.4 -2l2.4 -2l2.4 -2l2.4 -2l2.4 -1.9l2.4 -2l2.4 -2l2.4 -2l2.4 -1.9l2.4 -1.9l2.4 -1.9l2.4 -1.9l2.4 -1.8l2.4 -1.8l2.4 -1.8l2.4 -1.8l2.5 -1.7l2.4 -1.8l2.4 -1.8l2.4 -1.7l2.4 -1.8l2.4 -1.7l2.4 -1.7l2.4 -1.7l2.4 -1.7l2.4 -1.8l2.4 -1.8l2.4 -1.9l2.4 -1.8l2.4 -1.8l2.4 -1.7l2.4 -1.7l2.5 -1.6l2.4 -1.5l2.4 -1.5l2.4 -1.3l2.4 -1.1l2.4 -1l2.4 -.8l2.4 -.6l2.4 -.3l2.4 -.2l2.4 -.1l2.4 0l2.4 -.1l2.4 0l2.4 .1l2.4 .1l2.4 .1l2.5 .2l2.4 .2l2.4 .4l2.4 .5l2.4 .5l2.4 .6l2.4 .7l2.4 .7l2.4 .8l2.4 .8l2.4 .9l2.4 .9l2.4 1l2.4 .9l2.4 1.1l2.4 1.3l2.4 1.5l2.5 1.5l2.4 1.7l2.4 1.6l2.4 1.7l2.4 1.6l2.4 1.6l2.4 1.7l2.4 1.8l2.4 1.8l2.4 1.7l2.4 1.9l2.4 1.8l2.4 1.8l2.4 1.9l2.4 1.8l2.4 1.9l2.5 1.9l2.4 1.9l2.4 1.9l2.4 2l2.4 2l2.4 2l2.4 2l2.4 2l2.4 2.1l2.4 2l2.4 2l2.4 2l2.4 2.1l2.4 1.9l2.4 2l2.4 2l2.4 1.9l2.5 2l2.4 1.9l2.4 1.9l2.4 2l2.4 1.9l2.4 1.9l2.4 1.9l2.4 1.9l2.4 1.9l2.4 1.9l2.4 1.9l2.4 1.8l2.4 1.9l2.4 1.8l2.4 1.8l2.4 1.8l2.4 1.8l2.5 1.8l2.4 1.8l2.4 1.8l2.4 1.8l2.4 1.7l2.4 1.8l2.4 1.7l2.4 1.7l2.4 1.7l2.4 1.6l2.4 1.7l2.4 1.6l2.4 1.7l2.4 1.6l2.4 1.5l2.4 1.6l2.4 1.5l2.5 1.6l2.4 1.4l2.4 1.5l2.4 1.5l2.4 1.4l2.4 1.4l2.4 1.3l2.4 1.4l2.4 1.3l2.4 1.3l2.4 1.3l2.4 1.3l2.4 1.2l2.4 1.3l2.4 1.2l2.4 1.3l2.5 1.2l2.4 1.2l2.4 1.2l2.4 1.2l2.4 1.1l2.4 1.2l2.4 1.1l2.4 1.1l2.4 1.2l2.4 1.1l2.4 1l2.4 1.1l2.4 1.1l2.4 1l2.4 1.1l2.4 1l2.4 1l2.5 1l2.4 .9l2.4 1l2.4 .9l2.4 1l2.4 .9l2.4 .9l2.4 .9l2.4 .9l2.4 .8l2.4 .9l2.4 .8l2.4 .8l2.4 .8l2.4 .8l2.4 .8l2.5 .8l2.4 .7l2.4 .8l2.4 .7l2.4 .7l2.4 .8l2.4 .7l2.4 .7l2.4 .7l2.4 .7l2.4 .6l2.4 .7l2.4 .7l2.4 .7l2.4 .6l2.4 .7l2.4 .7l2.5 .6l2.4 .7l2.4 .6l2.4 .7l2.4 .6l2.4 .7l2.4 .6l2.4 .7l2.4 .6l2.4 .7l2.4 .6l2.4 .7l2.4 .6l2.4 .7l2.4 .7l2.4 .6l2.4 .7l2.5 .7l2.4 .6l2.4 .7l2.4 .7l2.4 .7l2.4 .6l2.4 .7l2.4 .7l2.4 .7l2.4 .7l2.4 .7l2.4 .7l2.4 .7l2.4 .7l2.4 .7l2.4 .7l2.4 .7"/>
<path d="M1260.0 861.6l2.4 -.6l2.5 -.6l2.4 -.6l2.4 -.7l2.4 -.6l2.4 -.6l2.4 -.6l2.4 -.7l2.4 -.6l2.4 -.7l2.4 -.6l2.4 -.7l2.4 -.6l2.4 -.7l2.4 -.7l2.4 -.6l2.4 -.7l2.4 -.7l2.5 -.7l2.4 -.6l2.4 -.7l2.4 -.7l2.4 -.6l2.4 -.7l2.4 -.7l2.4 -.6l2.4 -.7l2.4 -.6l2.4 -.7l2.4 -.7l2.4 -.7l2.4 -.7l2.4 -.7l2.4 -.7l2.4 -.7l2.5 -.7l2.4 -.8l2.4 -.7l2.4 -.8l2.4 -.8l2.4 -.8l2.4 -.8l2.4 -.8l2.4 -.8l2.4 -.9l2.4 -.8l2.4 -.9l2.4 -.9l2.4 -.8l2.4 -.9l2.4 -1l2.5 -.9l2.4 -.9l2.4 -.9l2.4 -1l2.4 -.9l2.4 -1l2.4 -1l2.4 -1l2.4 -.9l2.4 -1l2.4 -1l2.4 -1l2.4 -1l2.4 -1l2.4 -1l2.4 -1.1l2.4 -1l2.5 -1.1l2.4 -1.1l2.4 -1.1l2.4 -1.1l2.4 -1.1l2.4 -1.2l2.4 -1.2l2.4 -1.2l2.4 -1.2l2.4 -1.3l2.4 -1.3l2.4 -1.4l2.4 -1.3l2.4 -1.5l2.4 -1.4l2.4 -1.6l2.5 -1.5l2.4 -1.6l2.4 -1.6l2.4 -1.7l2.4 -1.7l2.4 -1.7l2.4 -1.7l2.4 -1.8l2.4 -1.8l2.4 -1.8l2.4 -1.8l2.4 -1.9l2.4 -1.9l2.4 -1.8l2.4 -1.9l2.4 -1.9l2.4 -1.9l2.5 -1.9l2.4 -1.9l2.4 -2l2.4 -2l2.4 -1.9l2.4 -2.1l2.4 -2l2.4 -2l2.4 -2l2.4 -2.1l2.4 -2l2.4 -2.1l2.4 -2l2.4 -2l2.4 -2.1l2.4 -2l2.4 -2l2.5 -2l2.4 -2l2.4 -1.9l2.4 -2l2.4 -2l2.4 -2l2.4 -1.9l2.4 -2l2.4 -2l2.4 -1.9l2.4 -1.9l2.4 -1.9l2.4 -1.9l2.4 -1.9l2.4 -1.9l2.4 -1.9l2.4 -1.8l2.5 -1.9l2.4 -1.9l2.4 -1.8l2.4 -1.8l2.4 -1.9l2.4 -1.8l2.4 -1.9l2.4 -2l2.4 -2l2.4 -2.2l2.4 -2.1l2.4 -2.1l2.4 -2.1l2.4 -2.1l2.4 -1.9l2.4 -1.9l2.5 -1.7l2.4 -1.6l2.4 -1.4l2.4 -1.2l2.4 -1l2.4 -.7l2.4 -.4l2.4 -.2l2.4 -.2l2.4 -.1l2.4 -.1l2.4 0l2.4 -.1l2.4 .1l2.4 0l2.4 .1l2.4 .2l2.5 .3l2.4 .4l2.4 .5l2.4 .6l2.4 .6l2.4 .6l2.4 .8l2.4 .7l2.4 .9l2.4 .8l2.4 .9l2.4 .9l2.4 1l2.4 1.4l2.4 1.4l2.4 1.7l2.5 1.7l2.4 1.7l2.4 1.6l2.4 1.7l2.4 1.7l2.4 1.7l2.4 1.7l2.4 1.7l2.4 1.8l2.4 1.8l2.4 1.8l2.4 1.8l2.4 1.9l2.4 1.8l2.4 1.9l2.4 1.8l2.4 1.9l2.5 1.9l2.4 1.8l2.4 1.9l2.4 2l2.4 1.9l2.4 2l2.4 1.9l2.4 2l2.4 2l2.4 2l2.4 2l2.4 2l2.4 1.9l2.4 2l2.4 2l2.4 2l2.4 1.9l2.5 2l2.4 2l2.4 2l2.4 2l2.4 1.9l2.4 2l2.4 2l2.4 1.9l2.4 2l2.4 1.9l2.4 1.9l2.4 2l2.4 1.9l2.4 1.9l2.4 1.9l2.4 1.9l2.4 1.8l2.5 1.9l2.4 1.8l2.4 1.9l2.4 1.8l2.4 1.8l2.4 1.8l2.4 1.8l2.4 1.7l2.4 1.7l2.4 1.8l2.4 1.7l2.4 1.6l2.4 1.7l2.4 1.6l2.4 1.6l2.4 1.6l2.5 1.5l2.4 1.5l2.4 1.5l2.4 1.5l2.4 1.4l2.4 1.4l2.4 1.4l2.4 1.3l2.4 1.3l2.4 1.4l2.4 1.3l2.4 1.3l2.4 1.2l2.4 1.3l2.4 1.3l2.4 1.2l2.4 1.2l2.5 1.2l2.4 1.2l2.4 1.2l2.4 1.2l2.4 1.1l2.4 1.2l2.4 1.1l2.4 1.1l2.4 1.1l2.4 1.1l2.4 1.1l2.4 1.1l2.4 1l2.4 1l2.4 1l2.4 1.1l2.5 .9l2.4 1l2.4 1l2.4 .9l2.4 .9l2.4 1l2.4 .9l2.4 .9l2.4 .8l2.4 .9l2.4 .8l2.4 .9l2.4 .8l2.4 .8l2.4 .8l2.4 .7l2.4 .8l2.5 .8l2.4 .7l2.4 .7l2.4 .8l2.4 .7l2.4 .7l2.4 .7l2.4 .7l2.4 .7l2.4 .7l2.4 .6l2.4 .7l2.4 .7l2.4 .6l2.4 .7l2.4 .7l2.4 .6l2.5 .7l2.4 .6l2.4 .7l2.4 .7l2.4 .6l2.4 .7l2.4 .6l2.4 .7l2.4 .7l2.4 .6l2.4 .7l2.4 .7l2.4 .7l2.4 .6l2.4 .7l2.4 .7l2.4 .7l2.5 .6l2.4 .7l2.4 .7l2.4 .7l2.4 .6l2.4 .7l2.4 .7l2.4 .7l2.4 .6l2.4 .7l2.4 .7l2.4 .7l2.4 .6l2.4 .7l2.4 .7"/>
<path d="M1268.9 912.7l2.4 -.6l2.4 -.6l2.4 -.7l2.5 -.6l2.4 -.6l2.4 -.6l2.4 -.7l2.4 -.6l2.4 -.6l2.4 -.7l2.4 -.6l2.4 -.6l2.4 -.7l2.4 -.6l2.4 -.7l2.4 -.6l2.4 -.7l2.4 -.6l2.4 -.6l2.4 -.7l2.5 -.6l2.4 -.7l2.4 -.6l2.4 -.6l2.4 -.7l2.4 -.6l2.4 -.7l2.4 -.6l2.4 -.7l2.4 -.6l2.4 -.7l2.4 -.7l2.4 -.6l2.4 -.7l2.4 -.7l2.4 -.8l2.5 -.7l2.4 -.7l2.4 -.8l2.4 -.7l2.4 -.8l2.4 -.8l2.4 -.8l2.4 -.8l2.4 -.8l2.4 -.8l2.4 -.9l2.4 -.8l2.4 -.8l2.4 -.9l2.4 -.9l2.4 -.8l2.4 -.9l2.5 -.9l2.4 -.9l2.4 -.9l2.4 -.9l2.4 -.9l2.4 -1l2.4 -.9l2.4 -.9l2.4 -.9l2.4 -.9l2.4 -1l2.4 -.9l2.4 -1l2.4 -.9l2.4 -1l2.4 -1l2.5 -1l2.4 -1l2.4 -1.1l2.4 -1l2.4 -1.1l2.4 -1.1l2.4 -1.2l2.4 -1.2l2.4 -1.2l2.4 -1.2l2.4 -1.3l2.4 -1.3l2.4 -1.4l2.4 -1.5l2.4 -1.5l2.4 -1.5l2.4 -1.6l2.5 -1.6l2.4 -1.6l2.4 -1.6l2.4 -1.7l2.4 -1.7l2.4 -1.8l2.4 -1.7l2.4 -1.8l2.4 -1.7l2.4 -1.8l2.4 -1.8l2.4 -1.8l2.4 -1.8l2.4 -1.8l2.4 -1.8l2.4 -1.9l2.4 -1.9l2.5 -1.9l2.4 -2l2.4 -1.9l2.4 -2l2.4 -2l2.4 -2.1l2.4 -2l2.4 -2l2.4 -2.1l2.4 -2l2.4 -2.1l2.4 -2.1l2.4 -2l2.4 -2l2.4 -2.1l2.4 -2l2.4 -2l2.5 -2l2.4 -1.9l2.4 -2l2.4 -2l2.4 -2l2.4 -2l2.4 -2l2.4 -2l2.4 -2l2.4 -2l2.4 -2l2.4 -2l2.4 -1.9l2.4 -2l2.4 -2l2.4 -2l2.5 -1.9l2.4 -2l2.4 -1.9l2.4 -2l2.4 -2l2.4 -2l2.4 -2.2l2.4 -2.4l2.4 -2.4l2.4 -2.4l2.4 -2.5l2.4 -2.5l2.4 -2.4l2.4 -2.3l2.4 -2.2l2.4 -2l2.4 -1.9l2.5 -1.7l2.4 -1.4l2.4 -1.2l2.4 -.8l2.4 -.5l2.4 -.3l2.4 -.2l2.4 -.2l2.4 -.1l2.4 -.2l2.4 -.1l2.4 0l2.4 0l2.4 0l2.4 .2l2.4 .2l2.5 .3l2.4 .4l2.4 .5l2.4 .6l2.4 .6l2.4 .6l2.4 .7l2.4 .8l2.4 .8l2.4 .8l2.4 .8l2.4 1l2.4 1.3l2.4 1.5l2.4 1.7l2.4 1.8l2.4 1.8l2.5 1.7l2.4 1.6l2.4 1.7l2.4 1.7l2.4 1.7l2.4 1.7l2.4 1.8l2.4 1.7l2.4 1.8l2.4 1.8l2.4 1.8l2.4 1.8l2.4 1.9l2.4 1.8l2.4 1.8l2.4 1.8l2.4 1.8l2.5 1.8l2.4 1.9l2.4 1.8l2.4 1.9l2.4 1.9l2.4 1.9l2.4 2l2.4 1.9l2.4 2l2.4 1.9l2.4 2l2.4 2l2.4 2l2.4 2l2.4 2l2.4 2l2.4 2l2.5 2.1l2.4 2l2.4 2l2.4 2.1l2.4 2l2.4 2l2.4 2l2.4 2l2.4 2.1l2.4 2l2.4 2l2.4 1.9l2.4 2l2.4 2l2.4 2l2.4 1.9l2.5 1.9l2.4 1.9l2.4 1.9l2.4 1.9l2.4 1.9l2.4 1.8l2.4 1.9l2.4 1.8l2.4 1.7l2.4 1.8l2.4 1.7l2.4 1.7l2.4 1.7l2.4 1.7l2.4 1.6l2.4 1.6l2.4 1.5l2.5 1.6l2.4 1.5l2.4 1.4l2.4 1.5l2.4 1.3l2.4 1.4l2.4 1.4l2.4 1.3l2.4 1.3l2.4 1.3l2.4 1.3l2.4 1.3l2.4 1.3l2.4 1.2l2.4 1.3l2.4 1.2l2.5 1.2l2.4 1.2l2.4 1.2l2.4 1.1l2.4 1.2l2.4 1.1l2.4 1.2l2.4 1.1l2.4 1.1l2.4 1.1l2.4 1l2.4 1.1l2.4 1l2.4 1l2.4 1l2.4 1l2.4 1l2.5 1l2.4 .9l2.4 1l2.4 .9l2.4 .9l2.4 .9l2.4 .9l2.4 .9l2.4 .8l2.4 .8l2.4 .9l2.4 .8l2.4 .8l2.4 .7l2.4 .8l2.4 .8l2.4 .7l2.5 .7l2.4 .8l2.4 .7l2.4 .7l2.4 .7l2.4 .7l2.4 .7l2.4 .6l2.4 .7l2.4 .7l2.4 .7l2.4 .6l2.4 .7l2.4 .6l2.4 .7l2.4 .7l2.4 .6l2.5 .7l2.4 .6l2.4 .7l2.4 .7l2.4 .6l2.4 .7l2.4 .7l2.4 .7l2.4 .6l2.4 .7l2.4 .7l2.4 .7l2.4 .6l2.4 .7l2.4 .7l2.4 .7l2.5 .6l2.4 .7l2.4 .6l2.4 .7l2.4 .7l2.4 .6l2.4 .7l2.4 .6l2.4 .7l2.4 .6l2.4 .7l2.4 .6l2.4 .7l2.4 .6"/>
<path d="M1277.8 964.2l2.4 -.8l2.4 -.8l2.4 -.7l2.4 -.8l2.4 -.8l2.5 -.8l2.4 -.8l2.4 -.8l2.4 -.7l2.4 -.8l2.4 -.8l2.4 -.8l2.4 -.8l2.4 -.8l2.4 -.8l2.4 -.8l2.4 -.9l2.4 -.8l2.4 -.8l2.4 -.8l2.4 -.8l2.5 -.8l2.4 -.8l2.4 -.9l2.4 -.8l2.4 -.8l2.4 -.8l2.4 -.8l2.4 -.8l2.4 -.8l2.4 -.8l2.4 -.8l2.4 -.9l2.4 -.8l2.4 -.8l2.4 -.8l2.4 -.9l2.4 -.8l2.5 -.9l2.4 -.9l2.4 -.9l2.4 -.9l2.4 -.9l2.4 -.9l2.4 -1l2.4 -1l2.4 -.9l2.4 -1l2.4 -1l2.4 -1l2.4 -1l2.4 -1.1l2.4 -1l2.4 -1.1l2.4 -1.1l2.5 -1.1l2.4 -1.1l2.4 -1.1l2.4 -1.1l2.4 -1.2l2.4 -1.1l2.4 -1.2l2.4 -1.2l2.4 -1.2l2.4 -1.3l2.4 -1.2l2.4 -1.3l2.4 -1.3l2.4 -1.3l2.4 -1.4l2.4 -1.3l2.5 -1.4l2.4 -1.4l2.4 -1.4l2.4 -1.5l2.4 -1.4l2.4 -1.5l2.4 -1.5l2.4 -1.5l2.4 -1.6l2.4 -1.5l2.4 -1.5l2.4 -1.6l2.4 -1.6l2.4 -1.6l2.4 -1.6l2.4 -1.6l2.4 -1.7l2.5 -1.7l2.4 -1.7l2.4 -1.7l2.4 -1.8l2.4 -1.7l2.4 -1.8l2.4 -1.8l2.4 -1.8l2.4 -1.9l2.4 -1.8l2.4 -1.9l2.4 -1.9l2.4 -1.9l2.4 -1.9l2.4 -1.9l2.4 -1.9l2.4 -1.9l2.5 -1.9l2.4 -1.9l2.4 -2l2.4 -1.9l2.4 -2l2.4 -2l2.4 -2l2.4 -2.1l2.4 -2l2.4 -2l2.4 -2.1l2.4 -2.1l2.4 -2.1l2.4 -2l2.4 -2.1l2.4 -2.1l2.5 -2.1l2.4 -2.1l2.4 -2.1l2.4 -2l2.4 -2.1l2.4 -2.1l2.4 -2.1l2.4 -2.3l2.4 -2.2l2.4 -2.4l2.4 -2.3l2.4 -2.4l2.4 -2.3l2.4 -2.3l2.4 -2.2l2.4 -2.1l2.4 -2.1l2.5 -1.9l2.4 -1.8l2.4 -1.6l2.4 -1.5l2.4 -1.3l2.4 -1.3l2.4 -1.4l2.4 -1.3l2.4 -1.3l2.4 -1.3l2.4 -1.2l2.4 -1.2l2.4 -1l2.4 -1l2.4 -.8l2.4 -.7l2.5 -.6l2.4 -.4l2.4 -.2l2.4 0l2.4 .1l2.4 0l2.4 .1l2.4 .1l2.4 .1l2.4 .1l2.4 .2l2.4 .2l2.4 .1l2.4 .2l2.4 .2l2.4 .3l2.4 .2l2.5 .2l2.4 .3l2.4 .3l2.4 .4l2.4 .5l2.4 .6l2.4 .7l2.4 .8l2.4 .8l2.4 .9l2.4 1l2.4 1l2.4 1.1l2.4 1.4l2.4 1.7l2.4 1.9l2.4 2.1l2.5 2.2l2.4 2.2l2.4 2l2.4 1.8l2.4 1.2l2.4 .3l2.4 -.8l2.4 -2l2.4 -2.9l2.4 -3.2l2.4 -2.5l.7 -.4l.8 -.2l.7 0l.2 0l.5 .2l.7 .5l.7 .8l.5 .6l.3 .4l.7 1.1l.7 1.4l.7 1.5l.8 1.6l.7 1.6l.7 1.7l.2 .5l.5 1.1l.7 1.6l.8 1.5l.4 1l.3 .5l.7 1.3l.7 1.2l.7 1l.8 .9l.7 .7l.7 .5l.3 .1l.4 .3l.8 .2l.7 0l.5 0l.2 -.1l.7 -.2l.7 -.3l.8 -.5l.7 -.5l.7 -.7l.7 -.7l.3 -.3l.5 -.5l.7 -.8l.7 -.8l.5 -.6l.2 -.3l.7 -.9l.8 -.8l.7 -.8l.7 -.8l.7 -.6l.8 -.6l.2 -.2l.5 -.3l.7 -.3l.7 -.1l.5 -.1l.2 .1l.8 .2l.7 .4l.7 .6l.7 .8l.7 1.1l.8 1.2l.2 .5l.5 .9l.7 1.6l.7 1.8l.5 1.2l.3 .7l.7 2l.7 2.1l.7 2.3l.7 2.2l.8 2.3l.7 2.4l.2 .8l.5 1.5l.7 2.4l.8 2.4l.4 1.5l.3 .8l.7 2.3l.7 2.2l.7 2.3l.8 2.1l.7 2.2l.7 2l.2 .7l.5 1.3l.7 2l.8 1.8l.5 1.2l.2 .6l.7 1.8l.7 1.7l.8 1.6l.7 1.6l.7 1.5l.7 1.4l.3 .5l.4 .9l.8 1.3l.7 1.3l.5 .8l.2 .5l.7 1.1l.8 1.2l.7 1.1l.7 1.1l.7 1l.7 1l.3 .3l.5 .7l.7 .9l.7 1l.5 .6l.2 .3l.8 .8l.7 .9l.7 .8l2.4 2.7l2.4 2.5l2.4 2.4l2.4 2.4l2.4 2.2l2.4 2.2l2.4 2.1l2.4 2.1l2.4 2l2.5 1.9l2.4 1.8l2.4 1.8l2.4 1.8l2.4 1.6l2.4 1.6l2.4 1.5l2.4 1.4l2.4 1.2l2.4 1.2l.7 .3l.8 .2l.7 .3l.2 .1l.5 .1l.7 .3l.7 .2l.5 .1l.3 0l.7 .2l.7 .1l.7 0l.7 .1l.8 0l.7 -.1l.2 0l.5 -.1l.7 -.1l.8 -.2l.4 -.2l.3 -.1l.7 -.3l.7 -.4l.7 -.5l.8 -.5l.7 -.6l.7 -.7l.3 -.2l.4 -.5l.8 -.9l.7 -.9l.5 -.7l.2 -.3l.7 -1.1l.7 -1.1l.8 -1.3l.7 -1.3l.7 -1.4l.7 -1.5l.3 -.5l.4 -1l.8 -1.6l.7 -1.6l.5 -1.1l.2 -.5l.7 -1.7l.8 -1.6l.7 -1.6l.7 -1.6l.7 -1.5l.7 -1.4l.3 -.4l.5 -.8l.7 -1.1l.7 -.9l.5 -.5l.2 -.2l.8 -.4l.7 -.1l.7 .1l.7 .5l.7 .7l.8 1l.2 .3l.5 .9l.7 1.4l.7 1.7l.5 1.2l.3 .6l.7 2l.7 2l.7 2.2l.7 2.2l.8 2.2l.7 2.2l.2 .7l.5 1.5l.7 2.2l.7 2.2l.5 1.4l.3 .7l.7 2l.7 2l.7 1.9l.8 1.8l.7 1.8l.7 1.6l.2 .6l.5 1l.7 1.5l.8 1.5l.4 .9l.3 .4l.7 1.3l.7 1.2l.8 1.1l.7 1.1l.7 1l.7 .9l.3 .3l.4 .6l.8 .8l.7 .8l.5 .5l.2 .3l.7 .6l.7 .7l.8 .6l.7 .6l.7 .5l.7 .6l.3 .1l.5 .4l.7 .4l.7 .5l.5 .3l.2 .1l.7 .4l.8 .4l.7 .4l2.4 1.2l2.4 1.2l2.4 1l2.4 1l2.4 .9l2.4 .9l2.4 .9l2.4 .8l2.4 .9l2.4 .8l2.5 .8l2.4 .8l2.4 .7l2.4 .8l2.4 .8l2.4 .8l2.4 .7l2.4 .8l2.4 .8l2.4 .8l2.4 .7l2.4 .8l2.4 .8l2.4 .8l2.4 .8l2.4 .8l2.4 .7l2.5 .8l2.4 .8l2.4 .8l2.4 .7l2.4 .8l2.4 .7l2.4 .8l2.4 .7l2.4 .8l2.4 .7l2.4 .7l2.4 .7l2.4 .7l2.4 .7l2.4 .7l2.4 .7l2.5 .6l2.4 .7l2.4 .6l2.4 .7l2.4 .6l2.4 .6l2.4 .7l2.4 .6l2.4 .6l2.4 .6l2.4 .6l2.4 .6l2.4 .6l2.4 .6l2.4 .5l2.4 .6l2.4 .6l2.5 .5l2.4 .6l2.4 .5l2.4 .6l2.4 .5l2.4 .6l2.4 .5l2.4 .5l2.4 .5l2.4 .5l2.4 .5l2.4 .5"/>
<path d="M1286.7 1018.4l2.4 -.6l2.4 -.5l2.4 -.6l2.4 -.5l2.4 -.6l2.4 -.5l2.5 -.6l2.4 -.5l2.4 -.6l2.4 -.5l2.4 -.6l2.4 -.5l2.4 -.6l2.4 -.5l2.4 -.6l2.4 -.5l2.4 -.5l2.4 -.5l2.4 -.4l2.4 -.5l2.4 -.5l2.4 -.5l2.4 -.6l2.5 -.5l2.4 -.7l2.4 -.7l2.4 -.8l2.4 -1l2.4 -1l2.4 -1.1l2.4 -1.1l2.4 -1.1l2.4 -1l2.4 -1l2.4 -1l2.4 -1.1l2.4 -1l2.4 -1.1l2.4 -1l2.5 -1.1l2.4 -.9l2.4 -.9l2.4 -.9l2.4 -.7l2.4 -.7l2.4 -.6l2.4 -.5l2.4 -.4l2.4 -.4l2.4 -.4l2.4 -.5l2.4 -.4l2.4 -.6l2.4 -.6l2.4 -.7l2.4 -.8l2.5 -1l2.4 -1l2.4 -1l2.4 -1.1l2.4 -1l2.4 -1.1l2.4 -1l2.4 -1.1l2.4 -1l2.4 -1.1l2.4 -1.1l2.4 -1.1l2.4 -1.2l2.4 -1.1l2.4 -1.2l2.4 -1.3l2.4 -1.3l2.5 -1.3l2.4 -1.3l2.4 -1.4l2.4 -1.4l2.4 -1.4l2.4 -1.4l2.4 -1.5l2.4 -1.5l2.4 -1.5l2.4 -1.5l2.4 -1.5l2.4 -1.6l2.4 -1.6l2.4 -1.5l2.4 -1.6l2.4 -1.6l2.4 -1.7l2.5 -1.6l2.4 -1.7l2.4 -1.7l2.4 -1.8l2.4 -1.9l2.4 -1.9l2.4 -1.9l2.4 -2.2l2.4 -2.2l2.4 -2.4l2.4 -2.4l2.4 -2.4l2.4 -2.3l2.4 -2.3l2.4 -2.1l2.4 -2l2.5 -2l2.4 -1.9l2.4 -1.9l2.4 -1.8l2.4 -1.9l2.4 -1.9l2.4 -1.9l2.4 -1.9l2.4 -1.9l2.4 -1.9l2.4 -1.9l2.4 -1.9l2.4 -1.9l2.4 -2.1l2.4 -2.1l2.4 -2.2l2.4 -2.4l2.5 -2.4l2.4 -2.4l2.4 -2.4l2.4 -2.2l2.4 -2.1l2.4 -2l2.4 -1.8l2.4 -1.9l2.4 -1.7l2.4 -1.7l2.4 -1.6l2.4 -1.5l2.4 -1.5l2.4 -1.4l2.4 -1.3l2.4 -1.2l2.5 -1.2l2.4 -1.1l2.4 -1.1l2.4 -1.2l2.4 -1.1l2.4 -1.3l2.4 -1.2l2.4 -1.3l2.4 -1.2l2.4 -1.3l2.4 -1.2l2.4 -1.2l2.4 -1.1l2.4 -1.1l2.4 -1.3l2.4 -1.3l2.4 -1.1l2.5 -.9l2.4 -.5l2.4 -.1l2.4 0l2.4 0l2.4 0l2.4 0l2.4 0l2.4 0l2.4 -.1l2.4 -.2l2.4 -.1l2.4 -.2l2.4 -.1l2.4 -.2l2.4 0l2.4 .1l2.5 .3l2.4 .5l2.4 .6l2.4 .7l2.4 .7l2.4 .8l2.4 .8l2.4 .7l2.4 .7l2.4 .6l2.4 .5l2.4 .3l1.5 .1l.7 0l.2 0l.6 0l.7 0l.7 .1l.4 0l.3 0l.8 0l.7 0l.6 0l.1 0l.7 0l.7 .1l.8 -.1l.1 0l.6 0l.7 0l.7 -.1l.4 -.1l.4 -.1l.7 -.2l.7 -.3l.7 -.3l0 -.1l.7 -.5l.8 -.7l.7 -.9l.2 -.3l.5 -.9l.7 -1.5l.7 -1.9l.5 -1.3l.3 -1l.7 -2.8l.7 -3.3l.7 -3.7l0 -.3l.8 -4.8l.7 -5.5l.7 -6.3l.2 -1.7l.5 -5.5l.7 -8.1l.8 -9l.4 -5.7l.3 -4.2l.7 -10.7l.7 -11.4l.7 -11l.1 -1l.7 -12.5l.7 -12.8l.7 -12.8l.2 -3.2l.5 -9.4l.8 -12.1l.7 -11.4l.4 -6.1l.3 -4.2l.6 -7.5l.1 -1.4l.6 -6.1l.1 -1.1l.6 -4.5l.1 -.4l.1 -.4l.6 -2.8l.1 -.4l.6 -.9l.1 0l.6 1l.1 .3l.2 .7l.4 2.2l.2 .7l.6 4.6l.1 1.1l.6 6.2l.1 1.4l.4 5.3l.2 2.3l.1 1.7l.6 8.8l.1 1.8l.6 9.7l.2 2l.6 10.3l0 1l.1 1.1l.6 10.7l.1 2.1l.6 10.9l.1 2.1l.6 10.8l.2 2.2l.1 3.2l.5 7.3l.1 2.1l.6 10.1l.1 2l.6 9.6l.1 1.9l.4 6.3l.2 2.6l.1 1.7l.6 8.2l.2 1.6l.6 7.4l.1 1.4l.6 6.7l0 .6l.1 .6l.6 5.8l.1 1.1l.6 5.1l.1 .9l.7 4.3l.1 .8l.2 1.1l.4 2.5l.1 .6l.6 2.9l.1 .6l.6 2.3l.1 .4l.5 1.3l.1 .5l.2 .3l.6 1.4l.1 .2l.6 .9l.1 .2l.6 .5l.1 .1l.6 .3l.1 0l.6 .1l.2 -.1l.6 -.1l.1 -.1l.2 -.1l.4 -.2l.1 -.1l.6 -.4l.1 -.1l.6 -.5l.2 -.1l.4 -.4l.2 -.2l.1 -.1l.6 -.6l.1 -.1l.6 -.6l.1 -.1l.6 -.5l.1 -.1l.6 -.5l.2 -.1l.6 -.3l.1 -.1l.6 -.3l.1 0l.2 0l.4 -.1l.1 0l.6 0l.2 0l.6 .2l.1 0l.4 .3l.2 .1l.1 .1l.6 .5l.1 .2l.6 .7l.1 .1l.6 1l.1 .1l.1 .1l.6 1l.1 .3l.6 1.2l.1 .3l.6 1.4l.3 .7l.4 1.1l.7 2l.8 2.2l.5 1.6l.2 .6l.7 2.3l.7 2.4l.8 2.4l0 .2l.7 2.3l.7 2.5l.7 2.5l.3 1l.4 1.4l.8 2.5l.7 2.4l.5 1.8l.2 .6l.7 2.3l.8 2.3l.7 2.2l0 .2l.7 2l.7 2.1l.7 2l.3 .8l.5 1.2l.7 1.9l.7 1.8l.5 1.3l.2 .5l.8 1.7l.7 1.6l.7 1.6l.1 .1l.6 1.4l.7 1.4l.8 1.4l.3 .6l.4 .8l.7 1.3l.7 1.2l.6 .9l.1 .3l.8 1.1l.7 1.2l.7 1l.1 .1l.6 1l.8 1l.7 1l.3 .4l.4 .5l.7 1l.7 .9l.6 .6l.2 .3l.7 .8l1.5 1.8l2.4 2.6l2.4 2.6l2.4 2.4l2.4 2.4l2.4 2.3l2.4 2.2l2.4 2.1l2.4 2.1l2.4 2l2.5 1.9l2.4 1.8l2.4 1.8l2.4 1.7l2.4 1.6l2.4 1.4l2.4 1.4l2.4 1.2l2.4 1l1.8 .6l.6 .2l.1 0l.7 .2l.8 .1l.7 .1l.1 .1l.6 0l.7 .1l.8 0l.3 0l.4 -.1l.7 0l.7 -.2l.6 -.1l.1 -.1l.8 -.2l.7 -.3l.7 -.4l.1 -.1l.6 -.4l.8 -.5l.7 -.6l.3 -.3l.4 -.4l.7 -.8l.7 -.9l.6 -.8l.2 -.2l.7 -1.1l.7 -1.2l.7 -1.3l.1 -.2l.6 -1.2l.8 -1.6l.7 -1.7l.4 -.9l.3 -.9l.7 -2l.8 -2l.6 -1.8l.1 -.4l.7 -2.3l.7 -2.4l.7 -2.4l.2 -.4l.6 -2.2l.7 -2.6l.7 -2.6l.4 -1.4l.3 -1.3l.8 -2.7l.7 -2.6l.6 -2.1l.1 -.4l.7 -2.4l.7 -2.2l.8 -2.1l.1 -.3l.6 -1.4l.7 -1.5l.7 -1.1l.4 -.4l.3 -.3l.8 -.3l.7 .1l.6 .5l.1 .1l.7 1l.8 1.5l.7 1.8l.1 .3l.6 1.8l.7 2.5l.7 2.8l.4 1.4l.4 1.5l.7 3.1l.7 3.3l.6 2.8l.1 .5l.8 3.4l.7 3.4l.7 3.3l.1 .6l.6 2.7l.7 3.3l.8 3.2l.3 1.6l.4 1.5l.7 3l.7 2.9l.6 2.3l.2 .4l.7 2.7l.7 2.5l.7 2.4l.1 .4l.6 1.9l.8 2.2l.7 2l.3 1l.4 1l.7 1.8l.7 1.7l.6 1.3l.2 .3l.7 1.5l.7 1.4l.7 1.3l.2 .3l.6 1l.7 1.2l.7 1l.4 .6l.3 .5l.7 1l.8 .9l.6 .7l.1 .1l.7 .8l.7 .8l.8 .8l.1 .1l.6 .6l.7 .6l.7 .7l.4 .3l.3 .3l.8 .6l.7 .5l.6 .5l2.4 1.7l2.4 1.6l2.4 1.5l2.4 1.3l2.4 1.3l2.4 1.3l2.4 1.2l2.4 1.2l2.4 1.1l2.4 1.1l2.4 1.1l2.5 1l2.4 1l2.4 1l2.4 1l2.4 .9l2.4 .9l2.4 .9l2.4 .9l2.4 .9l2.4 .9l2.4 .8l2.4 .8l2.4 .8l2.4 .8l2.4 .7l2.4 .8l2.5 .7l2.4 .7l2.4 .7l2.4 .6l2.4 .7l2.4 .7l2.4 .6l2.4 .6l2.4 .7l2.4 .6l2.4 .6l2.4 .7l2.4 .6l2.4 .6l2.4 .7l2.4 .6l2.4 .7l2.5 .6l2.4 .6l2.4 .7l2.4 .6l2.4 .6l2.4 .7l2.4 .6l2.4 .6l2.4 .6l2.4 .6l2.4 .6l2.4 .6l2.4 .7l2.4 .6l2.4 .6l2.4 .6l2.5 .6l2.4 .6l2.4 .5l2.4 .6l2.4 .6l2.4 .6l2.4 .6l2.4 .6l2.4 .6l2.4 .5l2.4 .6"/>
<path d="M1295.6 1076.7l2.4 -.6l2.4 -.6l2.4 -.6l2.4 -.5l2.4 -.6l2.4 -.6l2.4 -.5l2.4 -.6l2.5 -.5l2.4 -.6l2.4 -.5l2.4 -.5l2.4 -.5l2.4 -.4l2.4 -.5l2.4 -.4l2.4 -.4l2.4 -.5l2.4 -.4l2.4 -.5l2.4 -.5l2.4 -.6l2.4 -.6l2.4 -.7l2.4 -.9l2.5 -1l2.4 -1.1l2.4 -1.1l2.4 -1.2l2.4 -1.3l2.4 -1.2l2.4 -1.2l2.4 -1.2l2.4 -1.1l2.4 -1l2.4 -.9l2.4 -1l2.4 -.9l2.4 -1l2.4 -.9l2.4 -.8l2.5 -.7l2.4 -.6l2.4 -.4l2.4 -.2l2.4 -.2l2.4 -.2l2.4 -.1l2.4 -.1l2.4 -.1l2.4 -.1l2.4 -.2l2.4 -.2l2.4 -.2l2.4 -.3l2.4 -.2l2.4 -.3l2.4 -.3l2.5 -.4l2.4 -.3l2.4 -.4l2.4 -.5l2.4 -.4l2.4 -.5l2.4 -.5l2.4 -.7l2.4 -.8l2.4 -.9l2.4 -1l2.4 -1.1l2.4 -1.2l2.4 -1.2l2.4 -1.3l2.4 -1.2l2.4 -1.3l2.5 -1.2l2.4 -1.2l2.4 -1.1l2.4 -1.2l2.4 -1.1l2.4 -1.2l2.4 -1.2l2.4 -1.1l2.4 -1.2l2.4 -1.3l2.4 -1.2l2.4 -1.3l2.4 -1.2l2.4 -1.3l2.4 -1.4l2.4 -1.3l2.5 -1.3l2.4 -1.4l2.4 -1.4l2.4 -1.4l2.4 -1.5l2.4 -1.4l2.4 -1.6l2.4 -1.5l2.4 -1.6l2.4 -1.7l2.4 -1.7l2.4 -1.8l2.4 -1.8l2.4 -1.9l2.4 -2l2.4 -1.9l2.4 -2l2.5 -2.1l2.4 -2l2.4 -2l2.4 -2l2.4 -2l2.4 -2l2.4 -2.1l2.4 -2.2l2.4 -2.1l2.4 -2.2l2.4 -2.1l2.4 -2.1l2.4 -2.1l2.4 -2l2.4 -1.8l2.4 -1.8l2.5 -1.7l2.4 -1.5l2.4 -1.4l2.4 -1.4l2.4 -1.3l2.4 -1.3l2.4 -1.3l2.4 -1.4l2.4 -1.4l2.4 -1.5l2.4 -1.5l2.4 -1.5l2.4 -1.6l2.4 -1.5l2.4 -1.5l2.4 -1.5l2.4 -1.5l2.5 -1.4l2.4 -1.5l2.4 -1.4l2.4 -1.5l2.4 -1.3l2.4 -1.4l2.4 -1.3l2.4 -1.2l2.4 -1.3l2.4 -1.3l2.4 -1.3l2.4 -1.2l2.4 -1.2l2.4 -.9l2.4 -.8l2.4 -.5l2.4 -.5l2.5 -.5l2.4 -.4l2.4 -.3l2.4 -.4l2.4 -.3l2.4 -.3l2.4 -.3l2.4 -.4l2.4 -.4l2.4 -.5l2.4 -.5l2.4 -.5l2.4 -.5l2.4 -.6l2.4 -.6l2.4 -.6l2.4 -.7l2.5 -.7l2.4 -.7l2.4 -.7l2.4 -.8l2.4 -.8l2.4 -.9l2.4 -.9l2.4 -1.1l2.4 -1.3l2.4 -1.3l2.3 -1.2l.1 -.1l.6 -.3l.7 -.3l.8 -.4l.3 -.2l.4 -.1l.7 -.3l.7 -.4l.6 -.2l.1 -.1l.8 -.4l.7 -.4l.7 -.4l.1 -.1l.6 -.4l.8 -.5l.7 -.7l.3 -.3l.4 -.4l.7 -.9l.7 -1.2l.6 -1.1l.2 -.2l.7 -1.7l.7 -2.1l.7 -2.6l.2 -.4l.6 -2.7l.7 -4l.7 -4.8l.4 -2.8l.3 -3l.7 -7.2l.8 -8.5l.6 -8.3l.1 -1.9l.7 -12l.7 -14l.7 -16.2l.2 -3l.6 -15.7l.7 -21.1l.7 -23.6l.4 -12.8l.3 -13.4l.8 -28.7l.7 -31.1l.6 -27.4l.1 -5.7l.7 -34.8l.7 -36.1l.8 -36.9l.1 -6.2l.6 -30.9l.7 -36.4l.7 -35l.4 -16.8l.4 -16.1l.7 -29.7l.6 -21.9l.1 -3.9l.6 -18l.1 -3.1l.6 -13.4l.1 -2.2l.6 -8.4l.2 -1.2l.6 -3l.1 -.1l.1 .1l.5 2.3l.1 1l.6 7.7l.1 2.1l.6 12.8l.2 3l.3 10l.3 7.4l.1 3.9l.6 21.4l.1 4.6l.6 24.7l.1 5.2l.6 27.3l.1 5.7l.6 29.2l.2 6l.6 30.3l.1 6.1l.6 30.9l.1 6.2l.1 6.2l.5 24.6l.1 6.1l.6 30.1l.1 5.9l.6 29.1l.2 5.7l.3 16.7l.3 10.8l.1 5.4l.6 25.8l.1 5l.6 23.8l.1 4.6l.6 21.7l.2 4.1l.6 19.5l.1 3.7l.6 17.4l.1 3.2l.6 15.2l.1 2.9l.1 2.7l.5 10.4l.1 2.5l.6 11.2l.2 2.1l.6 9.4l.1 1.8l.3 4.9l.3 3l.1 1.4l.6 6.4l.1 1.2l.6 5.2l.2 .9l.6 4.1l.1 .7l.6 3.2l.1 .5l.6 2.4l.1 .4l.6 1.7l.1 .3l.2 .3l.4 .9l.2 .2l.6 .8l.1 .1l.6 .4l.1 .1l.4 .1l.2 0l.1 0l.6 0l.1 0l.7 -.2l.1 0l.6 -.2l.1 -.1l.6 -.2l.1 -.1l.6 -.2l.1 -.1l.6 -.2l.2 0l.1 0l.5 -.1l.1 0l.6 0l.1 .1l.6 .1l.1 .1l.4 .1l.2 .2l.1 .1l.6 .4l.2 .2l.6 .6l.1 .2l.6 .8l.1 .2l.6 1.1l.1 .2l.6 1.2l.2 .3l.6 1.4l.1 .3l.1 .3l.5 1.3l.7 2l.7 2.2l.5 1.5l.2 .8l.8 2.4l.7 2.5l.7 2.6l.7 2.7l.8 2.6l.7 2.7l.2 .9l.5 1.8l.7 2.6l.7 2.6l.5 1.8l.3 .8l.7 2.6l.7 2.5l.7 2.4l.7 2.4l.8 2.3l.7 2.2l.2 .8l.5 1.4l.7 2.1l.8 2l.4 1.3l.3 .6l.7 1.9l.7 1.8l.7 1.7l.8 1.7l.7 1.6l.7 1.5l.3 .5l.4 1l.8 1.4l.7 1.3l.5 .9l.2 .4l.7 1.3l.7 1.2l.8 1.1l.7 1.1l.7 1.1l.7 1l.3 .4l.4 .7l.8 .9l.7 1l.5 .6l.2 .3l.7 .9l.8 .9l.7 .8l2.4 2.8l2.4 2.5l2.4 2.5l2.4 2.3l2.4 2.2l2.4 2.1l2.4 2l2.4 2l2.4 1.8l2.4 1.7l2.4 1.6l2.5 1.4l2.4 1.3l2.4 1.2l2.4 1l2.4 .8l2.4 .5l2.4 .3l2.4 -.1l1.5 -.2l.7 -.1l.2 -.1l.5 -.2l.8 -.2l.7 -.3l.4 -.2l.3 -.2l.7 -.5l.8 -.5l.6 -.5l.1 -.1l.7 -.7l.7 -.8l.7 -1l.2 -.2l.6 -.8l.7 -1.3l.7 -1.3l.4 -.9l.3 -.7l.7 -1.7l.8 -2l.6 -1.9l.1 -.2l.7 -2.4l.7 -2.7l.8 -2.9l.1 -.8l.6 -2.4l.7 -3.5l.7 -3.8l.4 -2.4l.3 -1.8l.8 -4.4l.7 -4.9l.6 -4.7l.1 -.4l.7 -5.5l.8 -5.9l.7 -6.1l.2 -1.6l.5 -4.9l.7 -6.9l.7 -7l.5 -4.3l.3 -3.1l.7 -7.5l.7 -7.7l.7 -7.1l0 -.6l.7 -7.8l.8 -7.7l.7 -7.5l.2 -1.9l.5 -5.4l.7 -6.7l.8 -6.3l.4 -3.3l.3 -2.2l.7 -4.7l.7 -3.7l.7 -2.5l0 -.1l.8 -1.5l.7 -.2l.7 .6l.2 .3l.5 .9l.8 1.6l.7 2l.4 1.4l.3 1.1l.7 2.9l.7 3.2l.7 3.3l.1 .4l.7 3.9l.7 4.3l.7 4.5l.2 1.1l.5 3.6l.8 4.9l.7 5.1l.4 3l.3 2.2l.7 5.3l.8 5.4l.6 5l.1 .4l.7 5.5l.7 5.4l.7 5.5l.2 1.3l.6 4.1l.7 5.3l.7 5.3l.4 3.1l.3 2.2l.8 5.1l.7 5l.6 4.6l.1 .4l.7 4.8l.7 4.7l.8 4.6l.1 1.1l.6 3.4l.7 4.3l.7 4.2l.4 2.4l.4 1.7l.7 3.9l.7 3.9l.7 3.3l0 .3l.7 3.6l.8 3.4l.7 3.3l.2 .8l.5 2.4l.7 3l.7 2.9l.5 1.7l.3 1.1l.7 2.7l.7 2.6l.7 2.2l0 .2l.8 2.4l.7 2.2l.9 2.7l2.4 6.4l2.4 5.6l2.4 4.7l2.4 4.2l2.4 3.6l2.4 3.2l2.4 2.8l2.4 2.5l2.4 2.4l2.4 2.1l2.4 2l2.5 1.8l2.4 1.8l2.4 1.6l2.4 1.6l2.4 1.5l2.4 1.4l2.4 1.3l2.4 1.3l2.4 1.2l2.4 1.2l2.4 1.2l2.4 1l2.4 1.1l2.4 1l2.4 .9l2.4 1l2.4 .8l2.5 .9l2.4 .9l2.4 .8l2.4 .8l2.4 .7l2.4 .8l2.4 .7l2.4 .7l2.4 .7l2.4 .6l2.4 .6l2.4 .7l2.4 .6l2.4 .5l2.4 .6l2.4 .6l2.4 .5l2.5 .5l2.4 .5l2.4 .5l2.4 .5l2.4 .5l2.4 .5l2.4 .4l2.4 .5l2.4 .4l2.4 .5l2.4 .4l2.4 .4l2.4 .4l2.4 .4l2.4 .4l2.4 .4l2.5 .3l2.4 .4l2.4 .3l2.4 .3l2.4 .4l2.4 .3l2.4 .3l2.4 .2l2.4 .3"/>
<path d="M1304.5 1130.8l2.4 -.2l2.4 -.2l2.4 -.3l2.4 -.4l2.4 -.3l2.4 -.4l2.4 -.4l2.4 -.5l2.4 -.5l2.5 -.5l2.4 -.5l2.4 -.6l2.4 -.5l2.4 -.6l2.4 -.6l2.4 -.6l2.4 -.7l2.4 -.7l2.4 -.7l2.4 -.9l2.4 -.9l2.4 -1l2.4 -1l2.4 -1l2.4 -1.1l2.4 -1.1l2.5 -1.1l2.4 -1l2.4 -1.1l2.4 -1l2.4 -1l2.4 -1l2.4 -1.1l2.4 -1.2l2.4 -1.3l2.4 -1.3l2.4 -1.2l2.4 -1.2l2.4 -1.1l2.4 -.9l2.4 -.8l2.4 -.5l2.4 -.3l2.5 0l2.4 .1l2.4 .1l2.4 .1l2.4 .2l2.4 .1l2.4 .2l2.4 .2l2.4 .1l2.4 .2l2.4 .1l2.4 0l2.4 0l2.4 -.2l2.4 -.3l2.4 -.3l2.4 -.5l2.5 -.5l2.4 -.6l2.4 -.6l2.4 -.6l2.4 -.7l2.4 -.6l2.4 -.7l2.4 -.6l2.4 -.7l2.4 -.7l2.4 -.8l2.4 -.8l2.4 -.8l2.4 -.9l2.4 -.9l2.4 -.9l2.5 -.9l2.4 -1l2.4 -1l2.4 -1l2.4 -1.1l2.4 -1.1l2.4 -1.2l2.4 -1.2l2.4 -1.2l2.4 -1.2l2.4 -1.3l2.4 -1.3l2.4 -1.3l2.4 -1.3l2.4 -1.3l2.4 -1.3l2.4 -1.3l2.5 -1.3l2.4 -1.4l2.4 -1.3l2.4 -1.4l2.4 -1.4l2.4 -1.4l2.4 -1.5l2.4 -1.5l2.4 -1.6l2.4 -1.6l2.4 -1.7l2.4 -1.9l2.4 -1.9l2.4 -2l2.4 -2.1l2.4 -2.1l2.4 -2.2l2.5 -2.2l2.4 -2.2l2.4 -2.1l2.4 -2.2l2.4 -2.1l2.4 -2l2.4 -2l2.4 -1.9l2.4 -1.8l2.4 -1.7l2.4 -1.8l2.4 -1.7l2.4 -1.6l2.4 -1.7l2.4 -1.6l2.4 -1.6l2.5 -1.6l2.4 -1.5l2.4 -1.6l2.4 -1.5l2.4 -1.4l2.4 -1.5l2.4 -1.4l2.4 -1.4l2.4 -1.3l2.4 -1.4l2.4 -1.3l2.4 -1.4l2.4 -1.3l2.4 -1.3l2.4 -1.3l2.4 -1.3l2.4 -1.3l2.5 -1.2l2.4 -1.2l2.4 -1.1l2.4 -1.1l2.4 -1l2.4 -1l2.4 -.9l2.4 -.9l2.4 -.8l2.4 -.8l2.4 -.8l2.4 -.7l2.4 -.7l2.4 -.6l2.4 -.6l2.4 -.5l2.4 -.5l2.5 -.5l2.4 -.4l2.4 -.5l2.4 -.4l2.4 -.5l2.4 -.4l2.4 -.4l2.4 -.5l2.4 -.4l2.4 -.5l2.4 -.5l2.4 -.6l2.4 -.5l2.4 -.6l2.4 -.7l2.4 -.8l2.5 -.8l2.4 -.9l2.4 -1l2.4 -.9l2.4 -1l2.4 -1.1l2.4 -1l2.4 -1.1l2.4 -1.2l2.4 -1.3l1.9 -1.2l.5 -.4l.3 -.1l.7 -.6l.7 -.6l.7 -.6l.7 -.6l.8 -.8l.7 -.8l.2 -.3l.5 -.6l.7 -1l.7 -1.2l.5 -.9l.3 -.4l.7 -1.6l.7 -1.8l.7 -2.1l.8 -2.5l.7 -3l.7 -3.5l.2 -1.3l.5 -2.9l.7 -5l.8 -5.9l.4 -4.5l.3 -2.4l.7 -8.2l.7 -9.6l.8 -11.3l.7 -13l.7 -14.9l.7 -17.2l.3 -6.2l.4 -13.3l.8 -21.9l.7 -24.6l.5 -17.8l.2 -9.4l.7 -30l.8 -32.6l.7 -35.2l.7 -37.6l.7 -39.9l.7 -41.7l.3 -14.2l.5 -28.9l.7 -44.1l.7 -44.4l.5 -29.5l.2 -14.6l.7 -43.1l.8 -41.1l.7 -38.3l.7 -34.6l.6 -25.3l.1 -4.6l.6 -20.7l.2 -3.7l.2 -6.7l.4 -8.8l.1 -2.5l.6 -9.7l.1 -1.3l.6 -3.6l.1 -.1l.5 1.7l.1 1l.1 1.1l.6 8.9l.2 2.4l.6 14.7l.1 3.4l.6 20.1l.1 4.5l.6 24.6l.1 5.4l.6 28.6l.2 6.1l.6 31.8l.1 6.6l.2 13.5l.4 20.6l.1 7.1l.6 35.7l.1 7.3l.6 36.7l.1 7.4l.5 29.6l.1 7.3l.2 7.4l.6 36.7l.1 7.3l.6 35.8l.1 7.1l.6 34.7l.1 6.7l.6 33.1l.1 6.4l.6 31.3l.2 6l.6 29.1l.1 5.7l.2 11l.4 15.9l.1 5.1l.6 24.7l.1 4.7l.6 22.3l.2 4.2l.4 16.2l.2 3.9l.1 3.7l.6 17.8l.1 3.4l.6 15.6l.1 2.9l.6 13.7l.1 2.5l.6 11.8l.2 2.2l.6 10l.1 1.8l.6 8.5l.1 1.6l.3 3l.3 4.1l.1 1.3l.6 5.9l.2 1l.6 4.8l.1 .9l.5 3.2l.1 .7l.1 .7l.6 3.1l.1 .5l.6 2.4l.1 .5l.6 1.8l.2 .4l.6 1.4l.1 .3l.6 1.1l.1 .2l.6 .8l.1 .1l.3 .3l.3 .4l.1 .1l.7 .6l.1 .1l.6 .4l.1 .1l.5 .4l.1 .1l.1 .1l.6 .5l.1 .1l.6 .6l.2 .1l.6 .7l.1 .2l.6 .8l.1 .2l.6 1l.1 .2l.6 1.2l.1 .2l.3 .6l.3 .8l.2 .3l.6 1.4l.1 .4l.6 1.6l.1 .4l.5 1.4l.1 .4l.7 2.3l.8 2.4l.7 2.6l.1 .5l.6 2.2l.7 2.8l.7 2.8l.4 1.4l.4 1.4l.7 2.9l.7 2.9l.6 2.4l.1 .5l.8 2.8l.7 2.8l.7 2.8l.1 .4l.6 2.3l.7 2.6l.8 2.5l.3 1.3l.4 1.2l.7 2.4l.7 2.4l.6 1.9l.1 .3l.8 2.2l.7 2.1l.7 2l.1 .3l.6 1.6l.8 1.8l.7 1.7l.3 .9l.4 .8l.7 1.6l.7 1.5l.6 1.2l.2 .3l.7 1.4l.7 1.3l.7 1.3l.2 .2l.6 1l.7 1.1l.7 1.1l.4 .6l.3 .5l.7 1l.8 1l.6 .7l.1 .2l.7 .9l.7 .9l.7 .8l.2 .2l.6 .6l.7 .8l1.1 1.2l2.4 2.3l2.4 2.2l2.4 2l2.4 1.9l2.4 1.8l2.4 1.6l2.4 1.6l2.4 1.4l2.4 1.3l2.4 1.2l2.4 1.1l2.4 .9l2.5 .8l2.4 .6l2.4 .4l2.4 .3l2.4 .1l2.4 -.1l2.4 -.4l2.4 -.8l.3 -.2l.7 -.3l.7 -.5l.7 -.4l.1 -.1l.7 -.5l.7 -.7l.7 -.7l.2 -.2l.5 -.7l.8 -.9l.7 -1.1l.4 -.7l.3 -.5l.7 -1.4l.8 -1.5l.6 -1.6l.1 -.1l.7 -1.9l.7 -2.2l.7 -2.4l.2 -.6l.6 -2l.7 -3l.7 -3.2l.4 -2.1l.3 -1.5l.8 -3.9l.7 -4.3l.6 -4.3l.1 -.4l.7 -5l.7 -5.5l.8 -5.9l.1 -1.6l.6 -4.8l.7 -6.8l.7 -7.2l.4 -4.5l.4 -3.2l.7 -8.1l.7 -8.6l.7 -8.1l0 -.8l.7 -9.2l.8 -9.6l.7 -9.9l.2 -2.5l.5 -7.5l.7 -10.2l.7 -10.1l.5 -5.9l.3 -4.2l.7 -9.8l.7 -9.5l.7 -8.2l0 -.7l.8 -8.2l.7 -7.2l.7 -6.2l.2 -1.4l.5 -3.5l.7 -3.6l.8 -2l.4 -.4l.3 0l.7 .7l.7 1.3l.7 1.7l.1 .2l.7 2.5l.7 3l.7 3.6l.2 1l.5 3.1l.8 4.5l.7 4.9l.4 3.1l.3 2.3l.7 5.6l.7 6l.7 5.6l.1 .5l.7 6.4l.7 6.6l.7 6.7l.2 1.7l.6 5.1l.7 6.8l.7 6.9l.4 4l.3 2.9l.7 6.9l.8 6.8l.6 6.2l.1 .6l.7 6.7l.7 6.5l.8 6.5l.1 1.6l.6 4.8l.7 6.2l.7 6.1l.4 3.5l.3 2.4l.8 5.8l.7 5.6l.6 5l.1 .5l.7 5.2l.7 5.2l.8 4.9l.2 1.2l.5 3.6l.7 4.6l.7 4.4l.5 2.5l.3 1.8l.7 4.1l.7 3.9l.7 3.5l0 .3l.7 3.6l.8 3.5l.7 3.3l.2 .8l.5 2.4l.7 3l.8 2.9l.4 1.7l.3 1.1l2.1 7.4l2.4 7.2l2.4 6.2l2.4 5.3l2.4 4.6l2.4 3.9l2.4 3.5l2.4 3l2.4 2.7l2.4 2.5l2.4 2.3l2.4 2l2.5 2l2.4 1.8l2.4 1.6l2.4 1.6l2.4 1.5l2.4 1.4l2.4 1.4l2.4 1.2l2.4 1.2l2.4 1.2l2.4 1.1l2.4 1l2.4 1l2.4 .9l2.4 .9l2.4 .9l2.4 .8l2.5 .8l2.4 .8l2.4 .8l2.4 .7l2.4 .7l2.4 .6l2.4 .7l2.4 .6l2.4 .6l2.4 .6l2.4 .6l2.4 .6l2.4 .5l2.4 .5l2.4 .6l2.4 .5l2.5 .5l2.4 .4l2.4 .5l2.4 .5l2.4 .4l2.4 .5l2.4 .4l2.4 .5l2.4 .4l2.4 .4l2.4 .4l2.4 .4l2.4 .4l2.4 .3l2.4 .4l2.4 .3l2.4 .4l2.5 .3l2.4 .3l2.4 .4l2.4 .3l2.4 .2l2.4 .3l2.4 .3"/>
<path d="M1313.4 1181.8l2.4 0l2.4 -.1l2.4 -.2l2.4 -.2l2.4 -.3l2.4 -.3l2.4 -.4l2.4 -.4l2.4 -.5l2.4 -.5l2.4 -.5l2.5 -.6l2.4 -.6l2.4 -.7l2.4 -.7l2.4 -.7l2.4 -.7l2.4 -.7l2.4 -.8l2.4 -.8l2.4 -.7l2.4 -.8l2.4 -.8l2.4 -.8l2.4 -1l2.4 -1.1l2.4 -1.3l2.4 -1.4l2.5 -1.5l2.4 -1.5l2.4 -1.4l2.4 -1.4l2.4 -1.3l2.4 -1.2l2.4 -1.2l2.4 -1.3l2.4 -1.2l2.4 -1.3l2.4 -1.1l2.4 -1l2.4 -.7l2.4 -.4l2.4 -.1l2.4 .1l2.4 .1l2.5 .2l2.4 .3l2.4 .2l2.4 .2l2.4 .2l2.4 .1l2.4 0l2.4 0l2.4 -.1l2.4 0l2.4 -.1l2.4 -.1l2.4 -.2l2.4 -.1l2.4 -.2l2.4 -.1l2.5 -.2l2.4 -.2l2.4 -.2l2.4 -.3l2.4 -.4l2.4 -.5l2.4 -.6l2.4 -.6l2.4 -.7l2.4 -.7l2.4 -.8l2.4 -.7l2.4 -.8l2.4 -.7l2.4 -.7l2.4 -.8l2.4 -.7l2.5 -.8l2.4 -.8l2.4 -.8l2.4 -.9l2.4 -.9l2.4 -.9l2.4 -.9l2.4 -.9l2.4 -.9l2.4 -1l2.4 -.9l2.4 -1l2.4 -1l2.4 -1l2.4 -1.1l2.4 -1l2.4 -1.1l2.5 -1.2l2.4 -1.2l2.4 -1.2l2.4 -1.3l2.4 -1.3l2.4 -1.4l2.4 -1.6l2.4 -1.5l2.4 -1.7l2.4 -1.7l2.4 -1.7l2.4 -1.8l2.4 -1.8l2.4 -1.9l2.4 -1.8l2.4 -1.8l2.5 -1.8l2.4 -1.8l2.4 -1.8l2.4 -1.7l2.4 -1.8l2.4 -1.7l2.4 -1.8l2.4 -1.7l2.4 -1.8l2.4 -1.8l2.4 -1.9l2.4 -1.8l2.4 -1.8l2.4 -1.8l2.4 -1.8l2.4 -1.8l2.4 -1.8l2.5 -1.8l2.4 -1.7l2.4 -1.7l2.4 -1.7l2.4 -1.7l2.4 -1.6l2.4 -1.6l2.4 -1.5l2.4 -1.5l2.4 -1.4l2.4 -1.4l2.4 -1.3l2.4 -1.4l2.4 -1.3l2.4 -1.3l2.4 -1.2l2.4 -1.3l2.5 -1.2l2.4 -1.2l2.4 -1.1l2.4 -1.2l2.4 -1.1l2.4 -1l2.4 -1.1l2.4 -1l2.4 -1l2.4 -.9l2.4 -.9l2.4 -.9l2.4 -.8l2.4 -.9l2.4 -.8l2.4 -.8l2.5 -.7l2.4 -.8l2.4 -.8l2.4 -.8l2.4 -.8l2.4 -.9l2.4 -.8l2.4 -.9l2.4 -1l2.4 -1l2.4 -1.1l2.4 -1.2l2.4 -1.4l2.4 -1.4l2.4 -1.4l2.4 -1.4l2.4 -1.4l2.5 -1.4l2.4 -1.3l2.4 -1.2l2.4 -1.1l2.4 -1.1l2.4 -1.1l2.4 -1.2l2.4 -1.4l2.4 -1.6l.5 -.4l.7 -.6l.7 -.6l.5 -.4l.2 -.3l.8 -.7l.7 -.7l.7 -.9l.7 -.9l.8 -1.1l.7 -1.2l.2 -.4l.5 -.9l.7 -1.6l.7 -1.7l.5 -1.4l.3 -.7l.7 -2.4l.7 -2.8l.7 -3.3l.8 -3.9l.7 -4.7l.7 -5.4l.2 -2.1l.5 -4.4l.7 -7.5l.8 -8.9l.4 -6.7l.3 -3.6l.7 -12l.7 -13.8l.7 -15.9l.8 -18.1l.7 -20.4l.7 -23l.3 -8.2l.4 -17.4l.8 -28.3l.7 -31l.5 -22.2l.2 -11.6l.7 -36.3l.7 -38.8l.8 -40.9l.7 -42.8l.7 -44.3l.7 -45.2l.3 -15.1l.5 -30.4l.7 -45.2l.7 -44.1l.5 -28.3l.2 -13.8l.7 -39.3l.8 -35.5l.6 -25.9l.1 -4.7l.6 -21.3l.1 -3.8l.6 -15.9l.1 -2.6l.6 -9.9l.2 -1.4l.2 -2.1l.4 -1.6l.1 -.1l.6 2.7l.1 1.2l.6 9.1l.1 2.4l.5 11.6l.1 3.4l.1 3.6l.6 20.5l.2 4.6l.6 25.3l.1 5.5l.6 29.3l.1 6.2l.6 32.5l.1 6.8l.6 34.9l.1 7.2l.6 36.6l.2 7.4l.2 14.9l.4 22.6l.1 7.6l.6 37.8l.1 7.5l.6 37.6l.1 7.4l.5 29.5l.1 7.2l.2 7.3l.6 35.5l.1 6.9l.6 34l.1 6.6l.6 32.1l.1 6.2l.6 30l.1 5.8l.6 27.7l.2 5.4l.6 25.4l.1 4.9l.2 9.5l.4 13.6l.1 4.4l.6 20.8l.1 4l.6 18.5l.2 3.5l.4 13.2l.2 3.2l.1 3l.6 14.3l.1 2.7l.6 12.4l.1 2.3l.6 10.6l.1 2l.6 9l.2 1.7l.6 7.6l.1 1.4l.6 6.3l.1 1.1l.2 2.2l.4 3l.1 1l.6 4.2l.1 .7l.7 3.4l.1 .6l.5 2.2l.1 .5l.1 .5l.6 2.1l.1 .4l.6 1.6l.1 .3l.6 1.2l.2 .3l.6 .9l.1 .2l.6 .8l.1 .1l.6 .7l.1 .1l.3 .2l.3 .3l.1 .2l.6 .5l.2 .1l.6 .6l.1 .1l.5 .6l.1 .1l.1 .1l.6 .8l.1 .2l.6 .9l.2 .2l.6 1.1l.1 .2l.6 1.2l.1 .3l.6 1.4l.1 .3l.6 1.6l.1 .4l.3 .6l.3 1.1l.2 .4l.6 1.9l.7 2.5l.6 2.1l.1 .5l.7 2.7l.8 2.8l.7 2.9l.1 .5l.6 2.5l.7 3l.7 3.1l.4 1.5l.4 1.5l.7 3l.7 3l.6 2.5l.1 .5l.7 2.9l.8 2.8l.7 2.8l.1 .4l.6 2.3l.7 2.6l.8 2.5l.3 1.2l.4 1.3l.7 2.3l.7 2.3l.6 1.8l.1 .4l.8 2l.7 2l.7 2l.1 .3l.6 1.5l.8 1.7l.7 1.7l.3 .8l.4 .8l.7 1.5l.7 1.4l.6 1.2l.2 .2l.7 1.3l.7 1.3l.7 1.2l.1 .2l.6 .9l.8 1.1l.7 1.1l.4 .5l.3 .5l.7 1l.8 .9l.6 .8l.1 .1l.7 .9l.7 .8l.7 .8l.2 .2l2.4 2.5l2.4 2.3l2.4 2.2l2.4 2l2.4 1.9l2.4 1.8l2.4 1.7l2.4 1.5l2.4 1.5l2.4 1.4l2.4 1.2l2.4 1.1l2.4 1l2.4 .8l2.5 .7l2.4 .4l2.4 .3l2.4 0l2.4 -.3l2.4 -.6l1.9 -.8l.5 -.3l.2 -.1l.8 -.5l.7 -.5l.7 -.6l.7 -.7l.7 -.8l.8 -.9l.2 -.3l.5 -.7l.7 -1.2l.7 -1.2l.5 -1l.3 -.5l.7 -1.6l.7 -1.8l.7 -2.1l.7 -2.2l.8 -2.5l.7 -2.8l.2 -1l.5 -2.1l.7 -3.4l.7 -3.8l.5 -2.7l.3 -1.4l.7 -4.5l.7 -4.9l.7 -5.3l.8 -5.8l.7 -6.2l.7 -6.7l.2 -2.3l.5 -4.8l.7 -7.6l.8 -8.1l.4 -5.6l.3 -2.9l.7 -8.9l.7 -9.4l.8 -9.7l.7 -10.1l.7 -10.3l.7 -10.5l.3 -3.6l.4 -7.1l.8 -10.7l.7 -10.5l.5 -6.9l.2 -3.4l.7 -9.9l.7 -9.4l.8 -8.6l.7 -7.6l.7 -6.5l.7 -5.1l.3 -1.4l.5 -2.3l.7 -2.2l.7 -.4l.5 .4l.2 .3l.7 1.4l.8 2l.7 2.6l.7 3.2l.7 3.7l.8 4.3l.2 1.5l.5 3.2l.7 5.2l.7 5.6l.5 3.9l.2 2l.8 6.3l.7 6.5l.7 6.7l.7 6.9l.7 7l.8 7.1l.2 2.4l.5 4.8l.7 7.2l.7 7.3l.5 4.8l.3 2.4l.7 7.1l.7 7.1l.7 7l.7 6.9l.8 6.8l.7 6.7l.2 2.2l.5 4.3l.7 6.4l.8 6.2l.4 4.1l.3 2l.7 5.9l.7 5.7l.7 5.6l.8 5.3l.7 5.2l.7 5l.2 1.7l.5 3.2l.8 4.6l.7 4.5l.5 2.9l.2 1.4l.7 4.1l.7 4l.8 3.8l.7 3.6l.7 3.5l.7 3.3l.3 1.1l.4 2.1l.8 3.1l.7 2.9l.5 1.8l2.4 8.5l2.4 7.2l2.4 6.2l2.4 5.3l2.4 4.5l2.4 4l2.4 3.5l2.4 3l2.4 2.8l2.4 2.5l2.4 2.3l2.4 2.1l2.5 1.9l2.4 1.8l2.4 1.7l2.4 1.6l2.4 1.5l2.4 1.4l2.4 1.3l2.4 1.3l2.4 1.2l2.4 1.1l2.4 1l2.4 1l2.4 1l2.4 .9l2.4 .9l2.4 .8l2.4 .8l2.5 .8l2.4 .7l2.4 .8l2.4 .6l2.4 .7l2.4 .6l2.4 .7l2.4 .6l2.4 .5l2.4 .6l2.4 .6l2.4 .5l2.4 .5l2.4 .5l2.4 .5l2.4 .5l2.4 .5l2.5 .5l2.4 .4l2.4 .5l2.4 .4l2.4 .5l2.4 .4l2.4 .4l2.4 .4l2.4 .4l2.4 .4l2.4 .4l2.4 .3l2.4 .4l2.4 .3l2.4 .4l2.4 .3l2.4 .3l2.5 .3l2.4 .4l2.4 .2l2.4 .3l2.4 .3"/>
<path d="M1322.3 1232.6l2.4 -.1l2.4 -.2l2.4 -.2l2.4 -.3l2.4 -.4l2.4 -.4l2.4 -.4l2.4 -.5l2.4 -.5l2.4 -.6l2.4 -.6l2.4 -.7l2.4 -.7l2.5 -.7l2.4 -.7l2.4 -.8l2.4 -.7l2.4 -.8l2.4 -.8l2.4 -.8l2.4 -.9l2.4 -1l2.4 -1.2l2.4 -1.4l2.4 -1.4l2.4 -1.4l2.4 -1.5l2.4 -1.5l2.4 -1.5l2.4 -1.4l2.5 -1.2l2.4 -1.2l2.4 -1.1l2.4 -1.2l2.4 -1.2l2.4 -1.2l2.4 -1.1l2.4 -1.2l2.4 -1l2.4 -.9l2.4 -.7l2.4 -.6l2.4 -.4l2.4 -.1l2.4 .2l2.4 .4l2.5 .6l2.4 .8l2.4 .9l2.4 .9l2.4 1.1l2.4 1l2.4 1l2.4 .8l2.4 .8l2.4 .6l2.4 .3l2.4 .1l2.4 -.1l2.4 -.1l2.4 -.2l2.4 -.2l2.4 -.3l2.5 -.3l2.4 -.4l2.4 -.4l2.4 -.5l2.4 -.5l2.4 -.4l2.4 -.5l2.4 -.5l2.4 -.5l2.4 -.6l2.4 -.7l2.4 -.7l2.4 -.8l2.4 -.8l2.4 -.9l2.4 -1l2.5 -1l2.4 -1.1l2.4 -1l2.4 -1.2l2.4 -1.1l2.4 -1.2l2.4 -1.2l2.4 -1.2l2.4 -1.3l2.4 -1.2l2.4 -1.2l2.4 -1.2l2.4 -1.3l2.4 -1.2l2.4 -1.4l2.4 -1.3l2.4 -1.4l2.5 -1.4l2.4 -1.5l2.4 -1.5l2.4 -1.5l2.4 -1.6l2.4 -1.5l2.4 -1.6l2.4 -1.6l2.4 -1.6l2.4 -1.6l2.4 -1.6l2.4 -1.6l2.4 -1.6l2.4 -1.6l2.4 -1.6l2.4 -1.5l2.4 -1.6l2.5 -1.6l2.4 -1.6l2.4 -1.6l2.4 -1.7l2.4 -1.6l2.4 -1.6l2.4 -1.7l2.4 -1.6l2.4 -1.6l2.4 -1.6l2.4 -1.6l2.4 -1.5l2.4 -1.6l2.4 -1.5l2.4 -1.5l2.4 -1.6l2.4 -1.5l2.5 -1.6l2.4 -1.6l2.4 -1.5l2.4 -1.6l2.4 -1.5l2.4 -1.5l2.4 -1.6l2.4 -1.4l2.4 -1.5l2.4 -1.4l2.4 -1.4l2.4 -1.3l2.4 -1.4l2.4 -1.2l2.4 -1.2l2.4 -1.2l2.5 -1.1l2.4 -1.1l2.4 -1l2.4 -1l2.4 -1l2.4 -.9l2.4 -1l2.4 -.9l2.4 -.9l2.4 -.9l2.4 -.9l2.4 -.9l2.4 -.9l2.4 -.9l2.4 -1l2.4 -.9l2.4 -.9l2.5 -1l2.4 -1l2.4 -1.1l2.4 -1.1l2.4 -1.2l2.4 -1.4l2.4 -1.3l2.4 -1.5l2.4 -1.4l2.4 -1.5l2.4 -1.4l2.4 -1.4l2.4 -1.4l2.4 -1.3l2.4 -1.2l2.4 -1.1l2.5 -1.1l2.4 -.9l2.4 -.8l2.4 -1l2.4 -1l2.4 -1.2l2.4 -1.3l2.4 -1.5l1.9 -1.4l.5 -.5l.2 -.1l.7 -.7l.7 -.7l.7 -.8l.1 -.1l.7 -.7l.7 -1l.7 -1l.3 -.5l.4 -.7l.8 -1.3l.7 -1.4l.5 -1.3l.2 -.4l.7 -2l.7 -2.2l.8 -2.6l0 -.3l.7 -2.8l.7 -3.6l.7 -4.2l.3 -1.9l.4 -3l.8 -5.8l.7 -6.8l.5 -5.9l.2 -2.1l.7 -9.3l.8 -10.7l.7 -12.5l0 -1.1l.7 -13.1l.7 -16.4l.7 -18.5l.3 -8.4l.5 -12.5l.7 -23.4l.7 -25.9l.6 -21.3l.1 -7.4l.8 -31.3l.7 -34l.7 -36.5l.1 -3.2l.6 -35.7l.7 -41l.8 -42.9l.3 -18.2l.4 -26l.7 -45.1l.7 -45.5l.6 -33.9l.2 -11.2l.7 -44l.7 -42.1l.7 -39.3l.1 -3.1l.6 -32.3l.6 -25.9l.2 -4.8l.6 -21.3l.1 -3.7l.3 -8.5l.3 -7.4l.1 -2.6l.6 -10l.1 -1.4l.6 -3.7l.1 -.1l.6 2.2l0 .5l.2 1.2l.6 9l.1 2.5l.6 15l.1 3.5l.6 20.5l.1 4.6l.1 2.4l.5 22.9l.2 5.4l.6 29.3l.1 6.2l.6 32.4l.1 6.8l.3 17.2l.3 17.7l.1 7.1l.6 36.5l.1 7.4l.6 37.5l.2 7.5l.5 33.9l.1 3.8l.1 7.5l.6 37.5l.1 7.4l.6 36.7l.1 7.2l.6 35.5l.2 6.9l0 3.5l.6 30.5l.1 6.6l.6 32.1l.1 6.2l.6 30.1l.1 5.8l.3 14.2l.3 13.7l.1 5.4l.6 25.6l.2 4.9l.6 23.4l.1 4.4l.5 19l.1 2.1l.1 3.9l.6 18.9l.1 3.5l.6 16.6l.1 3.2l.6 14.6l.2 2.7l0 1.3l.6 11.4l.1 2.4l.6 10.9l.1 2l.6 9.3l.1 1.7l.3 4.1l.3 3.8l.2 1.5l.6 6.5l.1 1.2l.6 5.5l.1 .9l.5 4.1l.1 .4l.1 .8l.6 3.6l.1 .6l.6 2.8l.2 .6l.6 2.2l.1 .4l0 .2l.6 1.6l.1 .3l.6 1.3l.1 .3l.6 1.1l.2 .1l.3 .5l.3 .4l.1 .1l.6 .8l.1 .1l.6 .6l.1 .1l.6 .6l.1 .2l.6 .6l.2 .1l.6 .8l.1 .1l.6 .8l.1 .2l.1 .1l.5 .9l.1 .2l.6 1.2l.1 .2l.7 1.3l.1 .3l.3 .7l.3 .8l.1 .3l.6 1.7l.1 .3l.6 1.9l.1 .4l.6 1.8l0 .2l.8 2.6l.7 2.7l.7 2.9l.2 .7l.5 2.2l.7 3.1l.8 3.1l.4 1.8l.3 1.4l.7 3.1l.7 3.2l.7 2.9l.1 .3l.7 3.1l.7 3.1l.7 3l.2 .7l.5 2.3l.8 2.9l.7 2.8l.4 1.6l.3 1.1l.7 2.6l.8 2.6l.6 2.2l.1 .2l.7 2.4l.7 2.2l.7 2.2l.2 .5l.6 1.5l.7 2l.7 1.9l.4 1.1l.3 .7l.7 1.7l.8 1.6l.6 1.5l.1 .1l.7 1.5l.7 1.4l.8 1.3l.1 .3l.6 1l.7 1.2l.7 1.2l.4 .6l.3 .5l.8 1l.7 1.1l.6 .9l.1 0l.7 1l.8 .9l.7 .8l.2 .3l.5 .6l.7 .8l1.2 1.2l2.4 2.4l2.4 2.2l2.4 2.1l2.4 1.9l2.4 1.7l2.4 1.7l2.4 1.6l2.4 1.4l2.4 1.3l2.4 1.3l2.4 1l2.4 1l2.4 .8l2.4 .7l2.5 .4l2.4 .3l2.4 0l2.4 -.2l2.4 -.6l2.4 -.9l1.2 -.7l.7 -.5l.5 -.3l.2 -.2l.8 -.6l.7 -.7l.7 -.8l.7 -.9l.7 -1l.8 -1.1l.2 -.4l.5 -.9l.7 -1.4l.7 -1.6l.5 -1.2l.2 -.6l.8 -2l.7 -2.2l.7 -2.5l.7 -2.8l.8 -3l.7 -3.4l.2 -1.2l.5 -2.5l.7 -4.1l.7 -4.5l.5 -3.2l.3 -1.7l.7 -5.3l.7 -5.7l.7 -6.3l.8 -6.7l.7 -7.2l.7 -7.8l.2 -2.7l.5 -5.5l.7 -8.7l.8 -9.2l.4 -6.4l.3 -3.3l.7 -10.1l.7 -10.5l.7 -10.9l.8 -11.2l.7 -11.4l.7 -11.5l.3 -3.8l.4 -7.7l.8 -11.4l.7 -11.1l.5 -7.2l.2 -3.6l.7 -10.1l.7 -9.2l.8 -8.3l.7 -7l.7 -5.6l.7 -4.1l.3 -.9l.5 -1.4l.7 -.5l.7 .7l.5 .9l.2 .6l.7 2.1l.8 2.7l.7 3.4l.7 4l.7 4.5l.7 5.1l.3 1.8l.5 3.7l.7 6l.7 6.3l.5 4.5l.2 2.2l.8 7l.7 7.1l.7 7.4l.7 7.5l.7 7.6l.8 7.7l.2 2.6l.5 5.2l.7 7.7l.7 7.7l.5 5.1l.3 2.6l.7 7.5l.7 7.5l.7 7.4l.7 7.3l.8 7.1l.7 7l.2 2.3l.5 4.5l.7 6.7l.8 6.5l.4 4.2l.3 2.1l.7 6.1l.7 5.9l.7 5.7l.8 5.6l.7 5.3l.7 5.2l.2 1.7l.5 3.2l.7 4.8l.8 4.6l.5 3l.2 1.4l.7 4.2l.7 4.1l.8 3.9l.7 3.7l.7 3.5l.7 3.4l.3 1.1l.4 2.1l.8 3.1l1.2 4.8l2.4 8.6l2.4 7.2l2.4 6.2l2.4 5.3l2.4 4.6l2.4 3.9l2.4 3.5l2.4 3l2.4 2.8l2.4 2.4l2.4 2.3l2.4 2.1l2.4 1.9l2.5 1.8l2.4 1.6l2.4 1.6l2.4 1.4l2.4 1.4l2.4 1.3l2.4 1.2l2.4 1.1l2.4 1.1l2.4 1l2.4 1l2.4 1l2.4 .9l2.4 .8l2.4 .8l2.4 .8l2.4 .8l2.5 .7l2.4 .7l2.4 .7l2.4 .6l2.4 .7l2.4 .6l2.4 .6l2.4 .5l2.4 .6l2.4 .5l2.4 .6l2.4 .5l2.4 .5l2.4 .5l2.4 .4l2.4 .5l2.4 .5l2.5 .4l2.4 .5l2.4 .4l2.4 .4l2.4 .4l2.4 .4l2.4 .4l2.4 .4l2.4 .4l2.4 .4l2.4 .3l2.4 .4l2.4 .3l2.4 .3l2.4 .4l2.4 .3l2.5 .3l2.4 .3l2.4 .2l2.4 .3" stroke="#f00" stroke-width="13.7"/>
<path d="M1331.2 1284.9l2.4 -.1l2.4 -.2l2.4 -.2l2.4 -.3l2.4 -.3l2.4 -.4l2.4 -.4l2.4 -.4l2.4 -.6l2.4 -.5l2.4 -.6l2.4 -.6l2.4 -.6l2.4 -.7l2.4 -.7l2.5 -.7l2.4 -.7l2.4 -.8l2.4 -.7l2.4 -.8l2.4 -.8l2.4 -1l2.4 -1.1l2.4 -1.3l2.4 -1.3l2.4 -1.4l2.4 -1.5l2.4 -1.5l2.4 -1.4l2.4 -1.5l2.4 -1.3l2.5 -1.2l2.4 -1.1l2.4 -1.2l2.4 -1.3l2.4 -1.2l2.4 -1.3l2.4 -1.1l2.4 -1l2.4 -.9l2.4 -.8l2.4 -.6l2.4 -.4l2.4 -.2l2.4 .1l2.4 .3l2.4 .6l2.4 .8l2.5 .9l2.4 .9l2.4 1.1l2.4 1l2.4 .9l2.4 .8l2.4 .7l2.4 .6l2.4 .4l2.4 .1l2.4 0l2.4 -.1l2.4 -.1l2.4 -.2l2.4 -.3l2.4 -.3l2.5 -.4l2.4 -.4l2.4 -.4l2.4 -.5l2.4 -.4l2.4 -.5l2.4 -.5l2.4 -.5l2.4 -.6l2.4 -.6l2.4 -.7l2.4 -.8l2.4 -.8l2.4 -.8l2.4 -1l2.4 -.9l2.4 -1l2.5 -1.1l2.4 -1l2.4 -1.1l2.4 -1.2l2.4 -1.1l2.4 -1.2l2.4 -1.1l2.4 -1.2l2.4 -1.2l2.4 -1.2l2.4 -1.2l2.4 -1.2l2.4 -1.2l2.4 -1.4l2.4 -1.3l2.4 -1.4l2.4 -1.4l2.5 -1.5l2.4 -1.4l2.4 -1.5l2.4 -1.6l2.4 -1.5l2.4 -1.5l2.4 -1.6l2.4 -1.5l2.4 -1.6l2.4 -1.6l2.4 -1.5l2.4 -1.6l2.4 -1.5l2.4 -1.6l2.4 -1.6l2.4 -1.5l2.5 -1.6l2.4 -1.7l2.4 -1.6l2.4 -1.6l2.4 -1.6l2.4 -1.6l2.4 -1.6l2.4 -1.6l2.4 -1.6l2.4 -1.5l2.4 -1.6l2.4 -1.5l2.4 -1.5l2.4 -1.5l2.4 -1.5l2.4 -1.5l2.4 -1.6l2.5 -1.5l2.4 -1.5l2.4 -1.6l2.4 -1.5l2.4 -1.5l2.4 -1.4l2.4 -1.5l2.4 -1.4l2.4 -1.4l2.4 -1.4l2.4 -1.4l2.4 -1.3l2.4 -1.2l2.4 -1.3l2.4 -1.1l2.4 -1.2l2.4 -1.1l2.5 -1l2.4 -1.1l2.4 -1l2.4 -1l2.4 -1l2.4 -.9l2.4 -1l2.4 -1l2.4 -.9l2.4 -1l2.4 -1l2.4 -.9l2.4 -1l2.4 -1l2.4 -1.1l2.4 -1l2.5 -1.1l2.4 -1.1l2.4 -1.2l2.4 -1.3l2.4 -1.3l2.4 -1.5l2.4 -1.4l2.4 -1.6l2.4 -1.5l2.4 -1.5l2.4 -1.6l2.4 -1.5l2.4 -1.5l2.4 -1.5l2.4 -1.4l2.4 -1.3l2.4 -1.2l2.5 -1.1l2.4 -1.2l2.4 -1.2l2.4 -1.3l2.4 -1.6l2.4 -1.7l2.1 -2l.3 -.2l.5 -.5l.7 -.8l.7 -.8l.5 -.6l.2 -.3l.8 -1l.7 -1.1l.7 -1.2l.7 -1.4l.7 -1.5l.8 -1.7l.2 -.6l.5 -1.3l.7 -2.2l.7 -2.5l.5 -1.9l.3 -1l.7 -3.4l.7 -4l.7 -4.6l.7 -5.4l.8 -6.3l.7 -7.3l.2 -2.7l.5 -5.8l.7 -9.9l.7 -11.4l.5 -8.5l.3 -4.5l.7 -15l.7 -17l.7 -19.3l.8 -21.6l.7 -24.1l.7 -26.7l.2 -9.5l.5 -19.9l.7 -32l.8 -34.7l.4 -24.5l.3 -12.6l.7 -39.5l.7 -41.7l.8 -43.4l.7 -44.8l.7 -45.6l.7 -46l.3 -15.3l.4 -30.4l.8 -44.5l.7 -42.6l.5 -26.9l.2 -12.8l.7 -35.9l.6 -26.3l.2 -4.8l.6 -21.6l.1 -3.8l.6 -16.1l.1 -2.7l.6 -10.2l.1 -1.4l.6 -3.8l.1 -.1l.3 .4l.3 2.3l.2 1.2l.6 9.1l.1 2.4l.6 15.1l.1 3.6l.5 16.2l.1 4.5l.1 4.6l.6 25.5l.1 5.5l.6 29.5l.2 6.3l.6 32.7l.1 6.8l.6 35.2l.1 7.2l.6 36.8l.1 7.5l.6 37.7l.2 7.6l.2 15.2l.4 22.8l.1 7.6l.6 37.8l.1 7.5l.6 37l.1 7.3l.5 28.7l.1 7.1l.1 7l.6 34.3l.2 6.7l.6 32.5l.1 6.3l.6 30.5l.1 5.9l.6 28.3l.1 5.4l.6 26.1l.2 5l.6 23.7l.1 4.6l.2 8.8l.4 12.7l.1 4l.6 19.3l.1 3.6l.6 17.1l.1 3.2l.5 12.2l.1 2.9l.2 2.8l.6 13.1l.1 2.4l.6 11.4l.1 2.1l.6 9.6l.1 1.8l.6 8.2l.1 1.5l.6 6.9l.2 1.3l.6 5.7l.1 1l.2 2l.4 2.7l.1 .9l.6 3.8l.1 .6l.6 3.1l.2 .5l.4 2l.2 .5l.1 .4l.6 1.9l.1 .3l.6 1.5l.1 .3l.6 1.1l.1 .2l.6 .9l.2 .2l.6 .8l.1 .1l.6 .7l.1 .1l.2 .3l.4 .4l.1 .1l.6 .7l.2 .1l.6 .8l.1 .2l.5 .6l.1 .2l.1 .2l.6 1l.1 .2l.6 1.2l.1 .3l.6 1.3l.2 .3l.6 1.6l.1 .3l.6 1.8l.1 .3l.6 1.9l.1 .4l.3 .9l.3 1.2l.8 2.7l.7 2.8l.6 2.5l.1 .5l.7 3.1l.7 3.2l.8 3.2l.1 .5l.6 2.8l.7 3.2l.7 3.3l.4 1.7l.3 1.6l.8 3.2l.7 3.2l.6 2.6l.1 .5l.7 3.1l.8 3l.7 2.9l.1 .4l.6 2.4l.7 2.7l.7 2.6l.4 1.3l.4 1.2l.7 2.4l.7 2.3l.6 1.9l.1 .3l.8 2.2l.7 2l.7 1.9l.1 .3l.6 1.5l.7 1.7l.8 1.7l.3 .8l.4 .8l.7 1.4l.7 1.5l.6 1.1l.1 .2l.8 1.3l.7 1.2l.7 1.1l.1 .2l.6 .9l.8 1.1l.7 1l.3 .5l.4 .4l.7 1l.7 .8l.6 .8l.2 .1l.7 .8l.7 1l.9 1.2l2.4 4l2.4 4.1l2.4 3.3l2.4 2.2l2.4 2l2.4 1.9l2.4 1.7l2.4 1.6l2.4 1.4l2.4 1.3l2.4 1.1l2.4 1l2.4 .8l2.4 .7l2.4 .4l2.4 .2l2.5 0l2.4 -.2l2.4 -.6l2.4 -1l2.4 -1.4l.7 -.5l.7 -.7l.7 -.6l.3 -.3l.5 -.5l.7 -.8l.7 -1l.5 -.7l.2 -.3l.8 -1.2l.7 -1.3l.7 -1.4l.7 -1.6l.7 -1.8l.8 -2l.2 -.7l.5 -1.5l.7 -2.5l.7 -2.7l.5 -1.9l.2 -1.1l.8 -3.3l.7 -3.6l.7 -4l.7 -4.4l.8 -4.8l.7 -5.2l.2 -1.9l.5 -3.8l.7 -6.2l.7 -6.7l.5 -4.7l.3 -2.4l.7 -7.7l.7 -8.2l.7 -8.8l.8 -9.3l.7 -9.7l.7 -10.3l.2 -3.5l.5 -7.3l.7 -11.1l.8 -11.6l.4 -7.8l.3 -4l.7 -12.1l.7 -12.2l.8 -12.2l.7 -12.1l.7 -11.8l.7 -11.4l.3 -3.6l.4 -7.1l.8 -9.8l.7 -8.7l.5 -5.1l.2 -2.4l.7 -5.9l.7 -4.3l.8 -2.4l.7 -.6l.7 .8l.7 1.5l.3 .6l.5 1.6l.7 2.9l.7 3.6l.5 2.8l.2 1.5l.7 4.8l.8 5.4l.7 5.8l.7 6.4l.7 6.7l.8 7l.2 2.5l.5 4.9l.7 7.6l.7 7.8l.5 5.3l.2 2.7l.8 8.1l.7 8.2l.7 8.2l.7 8.2l.7 8.2l.8 8.1l.2 2.7l.5 5.3l.7 8l.7 7.9l.5 5.1l.3 2.6l.7 7.6l.7 7.4l.7 7.2l.7 7.1l.8 6.9l.7 6.7l.2 2.2l.5 4.3l.7 6.3l.8 6.1l.4 3.9l.3 2l.7 5.7l.7 5.4l.7 5.3l.8 5.1l.7 4.9l.7 4.7l.2 1.5l.5 3l.7 4.3l.8 4.2l.5 2.6l.2 1.3l.7 3.8l.7 3.6l.8 3.4l.7 3.3l1.7 7.1l2.4 8.9l2.4 7.5l2.4 6.5l2.4 5.5l2.4 4.7l2.4 4.1l2.4 3.6l2.4 3.2l2.4 2.8l2.4 2.6l2.4 2.3l2.4 2.1l2.4 2l2.4 1.7l2.5 1.7l2.4 1.5l2.4 1.4l2.4 1.3l2.4 1.2l2.4 1.2l2.4 1.1l2.4 1l2.4 1l2.4 .9l2.4 .9l2.4 .9l2.4 .8l2.4 .8l2.4 .7l2.4 .8l2.4 .7l2.5 .6l2.4 .7l2.4 .6l2.4 .7l2.4 .6l2.4 .6l2.4 .5l2.4 .6l2.4 .6l2.4 .5l2.4 .6l2.4 .5l2.4 .5l2.4 .5l2.4 .5l2.4 .5l2.5 .5l2.4 .4l2.4 .5l2.4 .4l2.4 .4l2.4 .4l2.4 .4l2.4 .4l2.4 .4l2.4 .4l2.4 .3l2.4 .4l2.4 .3l2.4 .3l2.4 .3l2.4 .4l2.4 .2l2.5 .3l2.4 .3"/>
<path d="M1340.0 1334.3l2.5 -.1l2.4 -.1l2.4 -.2l2.4 -.3l2.4 -.3l2.4 -.3l2.4 -.4l2.4 -.4l2.4 -.5l2.4 -.5l2.4 -.5l2.4 -.6l2.4 -.6l2.4 -.6l2.4 -.7l2.4 -.6l2.5 -.7l2.4 -.7l2.4 -.7l2.4 -.7l2.4 -.8l2.4 -.9l2.4 -1.1l2.4 -1.1l2.4 -1.2l2.4 -1.4l2.4 -1.4l2.4 -1.5l2.4 -1.5l2.4 -1.4l2.4 -1.4l2.4 -1.2l2.4 -1.2l2.5 -1.3l2.4 -1.3l2.4 -1.3l2.4 -1.2l2.4 -1.2l2.4 -1l2.4 -.9l2.4 -.8l2.4 -.6l2.4 -.5l2.4 -.2l2.4 0l2.4 .3l2.4 .5l2.4 .8l2.4 .9l2.5 1l2.4 1l2.4 1l2.4 .9l2.4 .8l2.4 .7l2.4 .5l2.4 .4l2.4 .2l2.4 0l2.4 0l2.4 -.1l2.4 -.2l2.4 -.2l2.4 -.3l2.4 -.3l2.4 -.4l2.5 -.4l2.4 -.4l2.4 -.5l2.4 -.5l2.4 -.5l2.4 -.5l2.4 -.5l2.4 -.6l2.4 -.7l2.4 -.7l2.4 -.7l2.4 -.8l2.4 -.9l2.4 -.9l2.4 -.9l2.4 -1l2.4 -1l2.5 -1.1l2.4 -1l2.4 -1.1l2.4 -1.1l2.4 -1.1l2.4 -1.2l2.4 -1.1l2.4 -1.1l2.4 -1.1l2.4 -1.2l2.4 -1.2l2.4 -1.3l2.4 -1.3l2.4 -1.3l2.4 -1.4l2.4 -1.4l2.4 -1.4l2.5 -1.4l2.4 -1.5l2.4 -1.5l2.4 -1.5l2.4 -1.5l2.4 -1.5l2.4 -1.5l2.4 -1.5l2.4 -1.5l2.4 -1.5l2.4 -1.6l2.4 -1.5l2.4 -1.6l2.4 -1.5l2.4 -1.6l2.4 -1.6l2.5 -1.6l2.4 -1.6l2.4 -1.6l2.4 -1.5l2.4 -1.6l2.4 -1.6l2.4 -1.5l2.4 -1.5l2.4 -1.5l2.4 -1.5l2.4 -1.5l2.4 -1.5l2.4 -1.5l2.4 -1.5l2.4 -1.5l2.4 -1.4l2.4 -1.5l2.5 -1.5l2.4 -1.5l2.4 -1.5l2.4 -1.4l2.4 -1.4l2.4 -1.4l2.4 -1.4l2.4 -1.4l2.4 -1.3l2.4 -1.3l2.4 -1.3l2.4 -1.2l2.4 -1.2l2.4 -1.1l2.4 -1.1l2.4 -1.1l2.5 -1.1l2.4 -1l2.4 -1.1l2.4 -1l2.4 -1l2.4 -1l2.4 -1l2.4 -1l2.4 -1l2.4 -1l2.4 -1.1l2.4 -1l2.4 -1.1l2.4 -1.1l2.4 -1.1l2.4 -1.1l2.4 -1.2l2.5 -1.2l2.4 -1.3l2.4 -1.4l2.4 -1.5l2.4 -1.5l2.4 -1.5l2.4 -1.6l2.4 -1.6l2.4 -1.6l2.4 -1.7l2.4 -1.7l2.4 -1.7l2.4 -1.6l2.4 -1.5l2.4 -1.4l2.4 -1.3l2.4 -1.3l2.5 -1.3l2.4 -1.4l2.4 -1.6l2.4 -1.8l2.4 -2.2l1.2 -1.2l.7 -.9l.5 -.6l.2 -.3l.7 -.9l.8 -1.1l.7 -1.1l.7 -1.2l.7 -1.4l.8 -1.5l.2 -.5l.5 -1.1l.7 -1.9l.7 -2.2l.5 -1.6l.2 -.8l.8 -2.8l.7 -3.2l.7 -3.7l.7 -4.3l.8 -4.9l.7 -5.8l.2 -2.1l.5 -4.6l.7 -7.7l.7 -8.9l.5 -6.8l.3 -3.6l.7 -11.8l.7 -13.6l.7 -15.4l.7 -17.5l.8 -19.7l.7 -22l.2 -7.9l.5 -16.7l.7 -27l.8 -29.7l.4 -21.2l.3 -11.1l.7 -34.8l.7 -37.3l.7 -39.6l.8 -41.7l.7 -43.4l.7 -44.8l.2 -15.1l.5 -30.5l.8 -46l.7 -45.5l.5 -29.9l.2 -14.6l.7 -42.5l.7 -39.7l.8 -35.9l.6 -26.3l.1 -4.8l.6 -21.6l.1 -3.8l.6 -16.2l.1 -2.7l.3 -4.7l.3 -5.5l.1 -1.4l.7 -3.9l.1 -.1l.6 2.6l.1 1.2l.5 6.8l.1 2.2l.1 2.5l.6 15l.1 3.6l.6 20.6l.2 4.6l.6 25.4l.1 5.5l.6 29.3l.1 6.3l.6 32.6l.1 6.8l.6 35l.1 7.1l.3 14.6l.3 22.1l.2 7.4l.6 37.6l.1 7.5l.6 37.9l.1 7.6l.5 30.1l.1 7.5l.1 7.4l.6 36.9l.2 7.2l.6 35.7l.1 7l.6 34.2l.1 6.7l.6 32.4l.1 6.3l.6 30.5l.1 5.9l.6 28.3l.2 5.5l.2 10.7l.4 15.4l.1 5l.6 23.9l.1 4.6l.6 21.6l.1 4.1l.5 15.7l.1 3.7l.2 3.7l.6 17.3l.1 3.3l.6 15.2l.1 2.9l.6 13.3l.1 2.5l.6 11.5l.1 2.2l.6 9.9l.2 1.8l.6 8.5l.1 1.5l.2 3l.4 4.1l.1 1.3l.6 5.9l.1 1.1l.6 4.8l.1 .9l.5 3.2l.1 .8l.2 .7l.6 3.2l.1 .5l.6 2.6l.1 .4l.6 2l.1 .4l.6 1.5l.2 .3l.6 1.3l.1 .2l.6 1l.1 .1l.2 .4l.4 .4l.1 .2l.6 .7l.1 .2l.6 .6l.2 .2l.4 .5l.2 .2l.1 .1l.6 .8l.1 .2l.6 .9l.1 .2l.6 1l.2 .3l.6 1.2l.1 .3l.6 1.4l.1 .3l.6 1.6l.1 .3l.3 .7l.3 1.1l.1 .4l.6 2l.2 .4l.6 2.2l.6 2.2l.1 .5l.7 2.9l.7 3.1l.7 3.2l.2 .6l.6 2.7l.7 3.3l.7 3.4l.4 1.7l.3 1.7l.8 3.4l.7 3.4l.6 2.8l.1 .5l.7 3.3l.7 3.3l.8 3.1l.1 .5l.6 2.6l.7 3l.7 2.8l.4 1.4l.4 1.4l.7 2.7l.7 2.6l.6 2.1l.1 .4l.7 2.3l.8 2.3l.7 2.1l.1 .4l.6 1.7l.7 1.9l.8 1.9l.3 .9l.4 .8l.7 1.7l.7 1.6l.6 1.2l.1 .3l.8 1.4l.7 1.3l.7 1.3l.1 .2l.6 1l.7 1.2l.8 1.1l.3 .5l.4 .5l.7 1l.7 .9l.6 .8l.2 .1l.7 .9l.7 1.2l.7 1.3l.1 .3l.6 1.3l1.8 4.4l2.5 6.1l2.4 4.7l2.4 2.6l2.4 2.2l2.4 2.1l2.4 1.9l2.4 1.8l2.4 1.5l2.4 1.4l2.4 1.2l2.4 1.1l2.4 .8l2.4 .6l2.4 .5l2.4 .2l2.4 -.1l2.5 -.3l2.4 -.7l2.4 -1l2.4 -1.5l1.8 -1.5l.6 -.5l.1 -.2l.7 -.7l.7 -.9l.8 -.9l.1 -.2l.6 -.9l.7 -1.1l.7 -1.3l.4 -.6l.3 -.7l.8 -1.6l.7 -1.7l.6 -1.5l.1 -.4l.7 -2l.8 -2.3l.7 -2.5l.1 -.5l.6 -2.3l.7 -3.1l.7 -3.4l.4 -1.8l.4 -1.9l.7 -4.1l.7 -4.5l.6 -4l.1 -.9l.8 -5.3l.7 -5.8l.7 -6.3l.1 -1.1l.6 -5.6l.7 -7.3l.8 -7.8l.3 -4.1l.4 -4.3l.7 -8.8l.7 -9.4l.6 -8.3l.1 -1.7l.8 -10.4l.7 -10.9l.7 -11.3l.1 -1.9l.6 -9.7l.8 -12l.7 -12.3l.3 -6.1l.4 -6.2l.7 -12.4l.7 -12.2l.6 -10l.2 -2l.7 -11.5l.7 -10.8l.7 -9.9l.2 -1.6l.6 -7.3l.7 -7.5l.7 -6l.4 -2.4l.3 -1.9l.7 -2.5l.8 -.5l.6 .6l.1 .2l.7 1.6l.7 2.2l.7 3l.2 .6l.6 3.1l.7 4.3l.7 4.9l.4 2.7l.3 2.8l.8 6l.7 6.4l.6 5.7l.1 1.2l.7 7.2l.7 7.5l.8 7.7l.1 1.4l.6 6.6l.7 8.1l.7 8.2l.4 4.2l.4 4.1l.7 8.4l.7 8.4l.6 6.9l.1 1.4l.7 8.3l.8 8.2l.7 8.1l.1 1.3l.6 6.7l.7 7.9l.8 7.7l.3 3.8l.4 3.7l.7 7.4l.7 7.2l.6 5.9l.1 1.2l.8 6.8l.7 6.6l.7 6.4l.1 1.1l.6 5.2l.7 6l.8 5.8l.3 2.8l.4 2.8l.7 5.4l.7 5.2l.6 4.2l.2 .8l.7 4.8l.7 4.6l.7 4.5l.1 .7l.6 3.5l.8 4l.7 3.9l.3 1.9l.4 1.8l.7 3.6l.8 3.3l.6 2.7l2.4 9.8l2.4 8.4l2.4 7.1l2.4 6.1l2.4 5.3l2.4 4.5l2.4 4l2.4 3.4l2.4 3.1l2.4 2.8l2.4 2.4l2.4 2.3l2.4 2l2.4 1.8l2.4 1.6l2.4 1.5l2.5 1.5l2.4 1.3l2.4 1.2l2.4 1.1l2.4 1.1l2.4 1l2.4 1l2.4 .9l2.4 .9l2.4 .8l2.4 .8l2.4 .8l2.4 .7l2.4 .7l2.4 .7l2.4 .7l2.5 .7l2.4 .6l2.4 .6l2.4 .6l2.4 .7l2.4 .6l2.4 .6l2.4 .6l2.4 .6l2.4 .5l2.4 .6l2.4 .6l2.4 .5l2.4 .5l2.4 .6l2.4 .5l2.4 .4l2.5 .5l2.4 .5l2.4 .4l2.4 .4l2.4 .4l2.4 .4l2.4 .4l2.4 .4l2.4 .4l2.4 .3l2.4 .4l2.4 .3l2.4 .3l2.4 .3l2.4 .3l2.4 .3l2.5 .3"/>
<path d="M1348.9 1386.0l2.4 -.1l2.5 -.1l2.4 -.2l2.4 -.2l2.4 -.3l2.4 -.3l2.4 -.4l2.4 -.4l2.4 -.4l2.4 -.5l2.4 -.5l2.4 -.5l2.4 -.6l2.4 -.6l2.4 -.6l2.4 -.6l2.4 -.6l2.4 -.7l2.5 -.7l2.4 -.7l2.4 -.7l2.4 -.9l2.4 -.9l2.4 -1l2.4 -1.2l2.4 -1.3l2.4 -1.4l2.4 -1.5l2.4 -1.5l2.4 -1.5l2.4 -1.4l2.4 -1.3l2.4 -1.2l2.4 -1.3l2.5 -1.4l2.4 -1.3l2.4 -1.3l2.4 -1.2l2.4 -1l2.4 -.9l2.4 -.8l2.4 -.7l2.4 -.5l2.4 -.3l2.4 0l2.4 .2l2.4 .5l2.4 .7l2.4 .9l2.4 1l2.4 1l2.5 1l2.4 .9l2.4 .7l2.4 .6l2.4 .6l2.4 .3l2.4 .2l2.4 .1l2.4 .1l2.4 -.1l2.4 -.1l2.4 -.2l2.4 -.2l2.4 -.4l2.4 -.3l2.4 -.4l2.4 -.5l2.5 -.4l2.4 -.5l2.4 -.5l2.4 -.5l2.4 -.5l2.4 -.6l2.4 -.7l2.4 -.6l2.4 -.7l2.4 -.8l2.4 -.8l2.4 -.9l2.4 -.9l2.4 -.9l2.4 -.9l2.4 -1l2.4 -1l2.5 -1.1l2.4 -1l2.4 -1.1l2.4 -1l2.4 -1.1l2.4 -1.1l2.4 -1.1l2.4 -1.1l2.4 -1.2l2.4 -1.2l2.4 -1.2l2.4 -1.3l2.4 -1.4l2.4 -1.3l2.4 -1.4l2.4 -1.4l2.5 -1.4l2.4 -1.4l2.4 -1.5l2.4 -1.4l2.4 -1.5l2.4 -1.4l2.4 -1.5l2.4 -1.5l2.4 -1.5l2.4 -1.5l2.4 -1.6l2.4 -1.5l2.4 -1.6l2.4 -1.5l2.4 -1.6l2.4 -1.6l2.4 -1.6l2.5 -1.6l2.4 -1.5l2.4 -1.6l2.4 -1.5l2.4 -1.5l2.4 -1.5l2.4 -1.5l2.4 -1.4l2.4 -1.5l2.4 -1.4l2.4 -1.5l2.4 -1.5l2.4 -1.4l2.4 -1.5l2.4 -1.5l2.4 -1.4l2.5 -1.5l2.4 -1.4l2.4 -1.4l2.4 -1.4l2.4 -1.4l2.4 -1.4l2.4 -1.3l2.4 -1.4l2.4 -1.2l2.4 -1.3l2.4 -1.2l2.4 -1.2l2.4 -1.2l2.4 -1.1l2.4 -1.2l2.4 -1.1l2.4 -1l2.5 -1.1l2.4 -1.1l2.4 -1.1l2.4 -1l2.4 -1.1l2.4 -1l2.4 -1.1l2.4 -1.1l2.4 -1.1l2.4 -1.1l2.4 -1.1l2.4 -1.2l2.4 -1.1l2.4 -1.2l2.4 -1.3l2.4 -1.2l2.4 -1.4l2.5 -1.4l2.4 -1.5l2.4 -1.6l2.4 -1.5l2.4 -1.7l2.4 -1.6l2.4 -1.8l2.4 -1.8l2.4 -1.9l2.4 -1.9l2.4 -1.8l2.4 -1.8l2.4 -1.6l2.4 -1.6l2.4 -1.4l2.4 -1.4l2.4 -1.4l2.5 -1.7l2.4 -1.9l2.4 -2.3l2.3 -2.6l.1 -.1l.6 -.8l.7 -1l.7 -1.1l.4 -.6l.3 -.6l.8 -1.2l.7 -1.4l.6 -1.2l.1 -.3l.7 -1.7l.7 -1.8l.8 -2.1l.1 -.4l.6 -2l.7 -2.6l.7 -3.1l.4 -1.6l.4 -1.8l.7 -4l.7 -4.6l.6 -4.3l.1 -1l.7 -6l.8 -7.1l.7 -8.1l.1 -1.5l.6 -7.8l.7 -10.7l.8 -12.3l.3 -6.7l.4 -7.2l.7 -15.8l.7 -17.8l.6 -16.5l.1 -3.5l.8 -22.3l.7 -24.8l.7 -27.2l.1 -4.8l.6 -25l.8 -32.3l.7 -34.8l.3 -18.4l.4 -18.9l.7 -39.4l.7 -41.5l.6 -35.8l.2 -7.3l.7 -44.5l.7 -45.3l.7 -45.6l.1 -7.5l.6 -37.7l.8 -44.1l.7 -42.3l.4 -20.1l.3 -19.3l.7 -35.7l.6 -26.1l.2 -4.8l.6 -21.5l.1 -3.8l.6 -16.1l.1 -2.7l.6 -10.2l.1 -1.4l.6 -3.9l.1 -.1l.2 .1l.4 2.5l.2 1.1l.6 8.9l.1 2.4l.6 14.9l.1 3.5l.4 11.7l.2 8.7l.1 4.6l.6 25.1l.2 5.4l.6 29.1l.1 6.2l.6 32.2l.1 6.7l.6 34.7l.1 7.1l.6 36.2l.1 7.4l.6 37.1l.2 7.5l.1 7.5l.5 30l.1 7.4l.6 37.2l.1 7.4l.6 36.5l.1 7.2l.4 21.3l.2 14l.1 6.9l.7 33.9l.1 6.6l.6 32.2l.1 6.2l.6 30.3l.1 5.8l.6 28.2l.1 5.4l.6 26l.2 5l.6 23.8l.1 4.6l.1 4.4l.5 17.2l.1 4.1l.6 19.4l.1 3.7l.6 17.4l.1 3.2l.4 9.4l.2 6l.2 2.9l.6 13.4l.1 2.5l.6 11.7l.1 2.2l.6 10l.1 1.9l.6 8.6l.2 1.5l.6 7.3l.1 1.3l.6 6l.1 1.1l.1 1.1l.5 3.9l.1 .9l.6 4.1l.1 .7l.6 3.3l.2 .6l.3 1.7l.3 1l.1 .4l.6 2.1l.1 .4l.6 1.6l.1 .3l.6 1.3l.2 .2l.6 1l.1 .2l.6 .9l.1 .1l.6 .8l.1 .1l.1 .1l.5 .6l.1 .2l.6 .7l.2 .2l.6 .8l.1 .1l.3 .6l.3 .4l.1 .2l.6 1.1l.1 .2l.6 1.2l.1 .3l.6 1.5l.2 .3l.6 1.6l.1 .4l.6 1.8l.1 .4l.6 2.1l.1 .4l.2 .4l.4 1.8l.8 2.9l.7 3l.5 2.1l.2 1.1l.7 3.3l.7 3.4l.8 3.4l.7 3.5l.7 3.5l.7 3.6l.3 1.1l.5 2.3l.7 3.5l.7 3.4l.5 2.2l.2 1.1l.7 3.2l.8 3.2l.7 3.1l.7 2.9l.7 2.9l.7 2.7l.3 .9l.5 1.8l.7 2.5l.7 2.4l.5 1.6l.2 .7l.8 2.2l.7 2.1l.7 2l.7 1.9l.7 1.8l.8 1.6l.2 .6l.5 1l.7 1.5l.7 1.5l.5 .9l.3 .4l.7 1.3l.7 1.2l.7 1.1l.7 1.1l.8 1.1l.7 .9l.2 .3l.5 .7l.7 1.1l.8 1.5l.4 1.2l.3 .6l.7 2.1l.7 2.4l.7 2.4l2.4 8.1l2.5 6l2.4 2.9l2.4 2.6l2.4 2.3l2.4 2.1l2.4 1.9l2.4 1.7l2.4 1.5l2.4 1.4l2.4 1.1l2.4 .9l2.4 .7l2.4 .5l2.4 .2l2.4 0l2.4 -.3l2.4 -.6l2.5 -.9l2.4 -1.4l2.4 -1.8l1.8 -1.7l.6 -.6l.2 -.2l.7 -.9l.7 -.9l.7 -1l.1 -.1l.6 -1l.8 -1.2l.7 -1.3l.3 -.6l.4 -.8l.7 -1.6l.7 -1.7l.6 -1.4l.2 -.5l.7 -2.1l.7 -2.4l.7 -2.5l.1 -.2l.7 -2.6l.7 -3.1l.7 -3.4l.3 -1.5l.4 -2.3l.7 -4.1l.8 -4.5l.5 -3.6l.2 -1.3l.7 -5.3l.7 -5.8l.8 -6.3l0 -.5l.7 -6.3l.7 -7.3l.7 -7.8l.3 -3.4l.4 -4.9l.8 -8.9l.7 -9.4l.5 -7.4l.2 -2.5l.7 -10.4l.7 -10.9l.8 -11.3l0 -1l.7 -10.7l.7 -12l.7 -12.2l.3 -5.1l.5 -7.2l.7 -12.4l.7 -12.2l.5 -9l.2 -2.9l.7 -11.5l.8 -10.8l.7 -9.9l0 -.8l.7 -8l.7 -7.5l.8 -6l.3 -2l.4 -2.3l.7 -2.4l.7 -.5l.6 .6l.1 .2l.8 1.6l.7 2.4l.7 3l.1 .3l.6 3.4l.7 4.4l.8 4.9l.3 2.3l.4 3.3l.7 6l.7 6.5l.6 5.1l.2 1.8l.7 7.2l.7 7.6l.7 7.8l.1 .7l.6 7.3l.8 8.2l.7 8.3l.3 3.5l.4 4.8l.7 8.4l.8 8.5l.5 6.3l.2 2l.7 8.4l.7 8.3l.7 8.1l.1 .7l.7 7.4l.7 7.9l.7 7.8l.3 3.2l.4 4.4l.8 7.5l.7 7.2l.5 5.3l.2 1.8l.7 6.9l.7 6.7l.8 6.5l0 .5l.7 5.7l.7 6.1l.7 5.9l.3 2.4l.4 3.3l.8 5.4l.7 5.3l.5 3.8l.2 1.2l.7 4.9l.8 4.6l.7 4.5l0 .4l.7 3.9l.7 4.1l.7 3.9l.3 1.6l.5 2.2l.7 3.5l.7 3.5l.5 2.4l2.5 10l2.4 8.5l2.4 7.3l2.4 6.2l2.4 5.4l2.4 4.6l2.4 4l2.4 3.5l2.4 3.1l2.4 2.7l2.4 2.4l2.4 2.2l2.4 1.9l2.4 1.7l2.4 1.6l2.4 1.4l2.5 1.4l2.4 1.2l2.4 1.1l2.4 1.1l2.4 1l2.4 1l2.4 .9l2.4 .9l2.4 .8l2.4 .8l2.4 .7l2.4 .7l2.4 .7l2.4 .7l2.4 .7l2.4 .6l2.4 .7l2.5 .6l2.4 .6l2.4 .6l2.4 .7l2.4 .6l2.4 .6l2.4 .6l2.4 .7l2.4 .6l2.4 .5l2.4 .6l2.4 .6l2.4 .5l2.4 .6l2.4 .5l2.4 .5l2.5 .4l2.4 .5l2.4 .4l2.4 .4l2.4 .4l2.4 .4l2.4 .4l2.4 .4l2.4 .3l2.4 .4l2.4 .3l2.4 .3l2.4 .3l2.4 .3l2.4 .3l2.4 .3"/>
<path d="M1357.8 1435.5l2.4 -.1l2.4 -.1l2.4 -.2l2.5 -.2l2.4 -.2l2.4 -.3l2.4 -.3l2.4 -.4l2.4 -.4l2.4 -.4l2.4 -.4l2.4 -.5l2.4 -.5l2.4 -.6l2.4 -.5l2.4 -.6l2.4 -.6l2.4 -.6l2.4 -.7l2.4 -.6l2.5 -.7l2.4 -.8l2.4 -.8l2.4 -1l2.4 -1l2.4 -1.3l2.4 -1.4l2.4 -1.5l2.4 -1.5l2.4 -1.5l2.4 -1.4l2.4 -1.3l2.4 -1.3l2.4 -1.4l2.4 -1.4l2.4 -1.4l2.5 -1.3l2.4 -1.2l2.4 -1.1l2.4 -.8l2.4 -.8l2.4 -.7l2.4 -.6l2.4 -.3l2.4 -.1l2.4 .1l2.4 .5l2.4 .7l2.4 .9l2.4 1l2.4 1l2.4 1l2.4 .9l2.5 .7l2.4 .6l2.4 .5l2.4 .3l2.4 .3l2.4 .2l2.4 0l2.4 .1l2.4 -.1l2.4 -.2l2.4 -.2l2.4 -.3l2.4 -.3l2.4 -.4l2.4 -.4l2.4 -.5l2.4 -.4l2.5 -.5l2.4 -.5l2.4 -.6l2.4 -.5l2.4 -.6l2.4 -.6l2.4 -.7l2.4 -.7l2.4 -.8l2.4 -.8l2.4 -.8l2.4 -.9l2.4 -.9l2.4 -.9l2.4 -.9l2.4 -1l2.5 -1l2.4 -1l2.4 -1l2.4 -1l2.4 -1l2.4 -1.1l2.4 -1.1l2.4 -1.1l2.4 -1.1l2.4 -1.2l2.4 -1.3l2.4 -1.2l2.4 -1.3l2.4 -1.3l2.4 -1.4l2.4 -1.3l2.4 -1.4l2.5 -1.4l2.4 -1.4l2.4 -1.4l2.4 -1.4l2.4 -1.5l2.4 -1.4l2.4 -1.5l2.4 -1.5l2.4 -1.5l2.4 -1.5l2.4 -1.6l2.4 -1.5l2.4 -1.6l2.4 -1.6l2.4 -1.5l2.4 -1.6l2.5 -1.5l2.4 -1.5l2.4 -1.5l2.4 -1.5l2.4 -1.4l2.4 -1.5l2.4 -1.4l2.4 -1.4l2.4 -1.5l2.4 -1.4l2.4 -1.4l2.4 -1.5l2.4 -1.4l2.4 -1.4l2.4 -1.4l2.4 -1.4l2.4 -1.4l2.5 -1.4l2.4 -1.4l2.4 -1.4l2.4 -1.3l2.4 -1.3l2.4 -1.3l2.4 -1.3l2.4 -1.3l2.4 -1.2l2.4 -1.2l2.4 -1.2l2.4 -1.2l2.4 -1.1l2.4 -1.1l2.4 -1.1l2.4 -1.2l2.4 -1.1l2.5 -1.1l2.4 -1.1l2.4 -1.1l2.4 -1.1l2.4 -1.1l2.4 -1.1l2.4 -1.2l2.4 -1.1l2.4 -1.2l2.4 -1.2l2.4 -1.3l2.4 -1.2l2.4 -1.3l2.4 -1.3l2.4 -1.4l2.4 -1.5l2.4 -1.5l2.5 -1.6l2.4 -1.6l2.4 -1.7l2.4 -1.7l2.4 -1.8l2.4 -2.1l2.4 -2l2.4 -2.1l2.4 -2.1l2.4 -2l2.4 -1.8l2.4 -1.8l2.4 -1.6l2.4 -1.5l2.4 -1.5l2.4 -1.7l2.5 -2l2.4 -2.4l2.4 -2.9l.9 -1.2l.7 -1l.7 -1.1l.1 -.1l.6 -1.1l.8 -1.3l.7 -1.4l.3 -.7l.4 -.9l.7 -1.6l.7 -1.9l.6 -1.5l.2 -.5l.7 -2.3l.7 -2.6l.7 -2.9l.1 -.3l.6 -3l.8 -3.8l.7 -4.2l.3 -2l.4 -2.9l.7 -5.7l.8 -6.4l.5 -5.5l.2 -2l.7 -8.5l.7 -9.7l.7 -11.1l.1 -1l.7 -11.7l.7 -14.4l.7 -16.2l.3 -7.3l.4 -10.9l.8 -20.4l.7 -22.7l.5 -18.6l.2 -6.4l.7 -27.6l.7 -30l.8 -32.5l0 -2.8l.7 -32.1l.7 -37.3l.7 -39.5l.3 -17l.5 -24.4l.7 -43.1l.7 -44.4l.5 -33.8l.2 -11.4l.7 -45.4l.8 -45.1l.7 -44.1l0 -3.6l.7 -38.5l.7 -39.4l.7 -35.6l.3 -13.5l.3 -12.6l.2 -4.8l.6 -21.5l.1 -3.8l.6 -16.1l.1 -2.7l.6 -9.4l0 -.8l.1 -1.4l.6 -4l.2 -.1l.6 2.5l.1 1.1l.6 8.8l.1 2.4l.1 1.3l.5 13.5l.1 3.5l.6 20.3l.1 4.5l.6 25l.2 5.4l.3 14.1l.3 14.8l.1 6.2l.6 32.1l.1 6.6l.6 34.5l.1 7l.6 32.4l0 3.7l.2 7.3l.6 36.9l.1 7.4l.6 37.3l.1 7.4l.6 37l.1 7.3l.1 3.7l.5 32.6l.1 7.1l.6 35.2l.2 6.9l.6 33.7l.1 6.6l.3 16.2l.3 15.8l.1 6.2l.6 30.2l.1 5.8l.6 28.1l.1 5.4l.6 23.5l.1 2.6l.1 4.9l.6 23.9l.1 4.6l.6 21.6l.1 4.2l.6 19.5l.1 3.7l.1 1.8l.5 15.7l.2 3.3l.6 15.5l.1 2.9l.6 13.6l.1 2.6l.3 6.1l.3 5.7l.1 2.2l.6 10.3l.1 1.9l.6 8.7l.2 1.7l.5 6.7l.1 .7l.1 1.3l.6 6.2l.1 1.2l.6 5.1l.1 1l.6 4.2l.2 .7l0 .4l.6 3.1l.1 .6l.6 2.7l.1 .5l.6 2.2l.1 .4l.3 .9l.3 .8l.1 .3l.6 1.3l.2 .3l.6 1.1l.1 .2l.5 .8l.1 .1l.1 .1l.6 .8l.1 .2l.6 .7l.2 .2l.6 .8l.1 .1l0 .1l.6 .8l.1 .2l.6 .9l.1 .2l.6 1.2l.1 .2l.3 .6l.3 .7l.2 .3l.6 1.5l.1 .3l.6 1.7l.1 .4l.5 1.7l.1 .2l.1 .4l.6 2.1l.1 .5l.6 2.3l.8 2.9l.2 .8l.5 2.4l.7 3.3l.7 3.4l.5 2l.3 1.5l.7 3.6l.7 3.6l.7 3.3l0 .3l.7 3.6l.8 3.6l.7 3.6l.2 .9l.5 2.6l.7 3.4l.8 3.3l.4 2l.3 1.3l.7 3.2l.7 3l.7 2.7l0 .2l.8 2.9l.7 2.7l.7 2.6l.2 .6l.5 1.8l.7 2.4l.8 2.2l.4 1.3l.3 .9l.7 2l.7 1.9l.7 1.7l.1 .1l.7 1.7l.7 1.6l.7 1.6l.2 .3l.5 1.1l.8 1.3l.7 1.3l.4 .7l.3 .5l.7 1.2l.8 1.1l.6 .9l.1 .1l.7 1l.7 1.5l.7 1.9l.2 .6l.6 1.8l.7 2.8l.7 2.9l.4 1.8l.3 1.3l2.1 8.8l2.4 7.4l2.4 3.3l2.5 2.8l2.4 2.6l2.4 2.3l2.4 2.1l2.4 1.8l2.4 1.6l2.4 1.4l2.4 1.2l2.4 1l2.4 .7l2.4 .5l2.4 .2l2.4 -.1l2.4 -.3l2.4 -.6l2.4 -1.1l2.4 -1.4l2.5 -1.8l2.4 -2.2l.9 -1.1l.7 -.9l.8 -.9l.7 -1l.7 -1l.7 -1.2l.3 -.4l.5 -.9l.7 -1.3l.7 -1.5l.5 -1.1l.2 -.5l.7 -1.8l.8 -1.9l.7 -2.2l.7 -2.3l.7 -2.6l.7 -2.9l.3 -1l.5 -2.1l.7 -3.5l.7 -3.8l.5 -2.7l.2 -1.4l.8 -4.5l.7 -5l.7 -5.4l.7 -5.8l.7 -6.4l.8 -6.8l.2 -2.4l.5 -4.9l.7 -7.9l.7 -8.4l.5 -5.9l.3 -3l.7 -9.5l.7 -10l.7 -10.5l.7 -10.9l.8 -11.4l.7 -11.7l.2 -4l.5 -8.1l.7 -12.3l.8 -12.4l.4 -8.3l.3 -4.1l.7 -12.3l.7 -12l.7 -11.6l.8 -10.8l.7 -10l.7 -8.8l.2 -2.7l.5 -4.9l.7 -5.9l.8 -4.3l.4 -1.8l.3 -.6l.7 -.5l.7 .9l.8 1.6l.7 2.4l.7 3.1l.7 3.8l.3 1.4l.4 3.1l.8 5l.7 5.6l.5 4.1l.2 2.1l.7 6.5l.8 7l.7 7.4l.7 7.7l.7 7.9l.7 8.1l.3 2.8l.5 5.5l.7 8.4l.7 8.5l.5 5.7l.2 2.8l.7 8.5l.8 8.5l.7 8.5l.7 8.4l.7 8.3l.8 8.2l.2 2.7l.5 5.3l.7 7.9l.7 7.7l.5 5.1l.2 2.5l.8 7.4l.7 7.1l.7 7l.7 6.8l.8 6.6l.7 6.4l.2 2.1l.5 4.1l.7 6l.7 5.7l.5 3.7l.3 1.9l.7 5.3l.7 5.1l.7 5l.7 4.7l.8 4.6l.7 4.3l.2 1.5l.5 2.7l.7 4l.8 3.9l.4 2.4l.3 1.2l.7 3.5l1.4 6.5l2.5 9.6l2.4 8.2l2.4 7l2.4 6l2.4 5.2l2.4 4.4l2.4 3.9l2.4 3.4l2.4 3l2.4 2.6l2.4 2.3l2.4 1.9l2.4 1.8l2.4 1.6l2.4 1.5l2.4 1.3l2.4 1.2l2.5 1.2l2.4 1.1l2.4 1l2.4 .9l2.4 .9l2.4 .9l2.4 .8l2.4 .7l2.4 .8l2.4 .7l2.4 .7l2.4 .6l2.4 .7l2.4 .6l2.4 .7l2.4 .6l2.5 .7l2.4 .6l2.4 .7l2.4 .6l2.4 .7l2.4 .7l2.4 .6l2.4 .6l2.4 .7l2.4 .6l2.4 .6l2.4 .6l2.4 .5l2.4 .6l2.4 .5l2.4 .5l2.4 .4l2.5 .5l2.4 .4l2.4 .4l2.4 .4l2.4 .4l2.4 .4l2.4 .4l2.4 .3l2.4 .4l2.4 .3l2.4 .3l2.4 .3l2.4 .3l2.4 .3"/>
<path d="M1366.7 1485.5l2.4 -.1l2.4 -.1l2.4 -.1l2.4 -.2l2.5 -.2l2.4 -.2l2.4 -.3l2.4 -.4l2.4 -.3l2.4 -.4l2.4 -.4l2.4 -.4l2.4 -.5l2.4 -.5l2.4 -.5l2.4 -.6l2.4 -.5l2.4 -.6l2.4 -.6l2.4 -.6l2.4 -.6l2.5 -.8l2.4 -.7l2.4 -.8l2.4 -1l2.4 -1.2l2.4 -1.4l2.4 -1.5l2.4 -1.5l2.4 -1.5l2.4 -1.5l2.4 -1.4l2.4 -1.3l2.4 -1.4l2.4 -1.4l2.4 -1.5l2.4 -1.3l2.4 -1.3l2.5 -1l2.4 -.9l2.4 -.8l2.4 -.7l2.4 -.6l2.4 -.4l2.4 -.2l2.4 .1l2.4 .5l2.4 .7l2.4 .8l2.4 1.1l2.4 1l2.4 1l2.4 .8l2.4 .7l2.4 .5l2.5 .5l2.4 .4l2.4 .3l2.4 .2l2.4 .1l2.4 .1l2.4 0l2.4 -.2l2.4 -.2l2.4 -.2l2.4 -.3l2.4 -.4l2.4 -.4l2.4 -.4l2.4 -.5l2.4 -.5l2.5 -.5l2.4 -.5l2.4 -.5l2.4 -.6l2.4 -.6l2.4 -.6l2.4 -.6l2.4 -.7l2.4 -.8l2.4 -.8l2.4 -.8l2.4 -.8l2.4 -.9l2.4 -.8l2.4 -1l2.4 -.9l2.4 -.9l2.5 -1l2.4 -.9l2.4 -1l2.4 -1l2.4 -1l2.4 -1.1l2.4 -1.1l2.4 -1.2l2.4 -1.1l2.4 -1.2l2.4 -1.3l2.4 -1.2l2.4 -1.3l2.4 -1.3l2.4 -1.4l2.4 -1.3l2.5 -1.3l2.4 -1.4l2.4 -1.3l2.4 -1.4l2.4 -1.5l2.4 -1.4l2.4 -1.5l2.4 -1.5l2.4 -1.5l2.4 -1.5l2.4 -1.6l2.4 -1.5l2.4 -1.6l2.4 -1.5l2.4 -1.5l2.4 -1.5l2.4 -1.5l2.5 -1.5l2.4 -1.4l2.4 -1.4l2.4 -1.4l2.4 -1.5l2.4 -1.4l2.4 -1.4l2.4 -1.4l2.4 -1.3l2.4 -1.4l2.4 -1.4l2.4 -1.4l2.4 -1.4l2.4 -1.4l2.4 -1.3l2.4 -1.4l2.4 -1.3l2.5 -1.4l2.4 -1.3l2.4 -1.3l2.4 -1.3l2.4 -1.3l2.4 -1.2l2.4 -1.3l2.4 -1.2l2.4 -1.2l2.4 -1.1l2.4 -1.2l2.4 -1.2l2.4 -1.1l2.4 -1.2l2.4 -1.1l2.4 -1.1l2.4 -1.2l2.5 -1.1l2.4 -1.2l2.4 -1.2l2.4 -1.1l2.4 -1.2l2.4 -1.3l2.4 -1.2l2.4 -1.3l2.4 -1.3l2.4 -1.3l2.4 -1.3l2.4 -1.4l2.4 -1.4l2.4 -1.5l2.4 -1.5l2.4 -1.6l2.5 -1.7l2.4 -1.7l2.4 -1.7l2.4 -2l2.4 -2.2l2.4 -2.2l2.4 -2.3l2.4 -2.3l2.4 -2.2l2.4 -2l2.4 -2l2.4 -1.7l2.4 -1.5l2.4 -1.6l2.4 -1.8l2.4 -2.1l2.4 -2.4l2.5 -2.9l1.9 -2.8l.5 -.6l.3 -.5l.7 -1.2l.7 -1.3l.7 -1.3l0 -.1l.7 -1.6l.8 -1.6l.7 -1.9l.2 -.5l.5 -1.5l.7 -2.2l.8 -2.5l.4 -1.5l.3 -1.2l.7 -3.1l.7 -3.5l.7 -3.6l0 -.4l.8 -4.5l.7 -5.1l.7 -5.9l.2 -1.6l.5 -5.1l.8 -7.7l.7 -8.8l.4 -5.6l.3 -4.4l.7 -11.3l.7 -12.9l.7 -13.2l.1 -1.3l.7 -16.4l.7 -18.3l.7 -20.4l.2 -5.4l.5 -17.2l.8 -24.9l.7 -27.3l.4 -17.1l.3 -12.7l.7 -32.1l.8 -34.4l.6 -33.6l.1 -3.2l.7 -38.8l.7 -40.7l.7 -42.3l.2 -10.8l.6 -32.7l.7 -44.4l.7 -44.6l.4 -25.9l.3 -18.3l.8 -43.2l.7 -41.4l.6 -35.5l.1 -3.1l.7 -35l.6 -25.7l.1 -4.7l.6 -21.1l.2 -3.7l.1 -5.3l.5 -10.6l.1 -2.6l.6 -10.1l.1 -1.4l.6 -3.9l.1 -.2l.5 1.1l.1 1.3l.2 1.1l.6 8.6l.1 2.3l.6 14.4l.1 3.5l.6 19.8l.1 2.2l0 2.2l.6 24.4l.1 5.3l.6 28.3l.2 6l.6 31.4l.1 6.5l.2 9.9l.4 23.7l.1 6.9l.6 35.3l.1 7.1l.6 36.1l.1 7.3l.5 25.4l.1 10.9l.2 7.3l.6 36.1l.1 7.2l.6 35.4l.1 7l.6 34.4l.1 3.3l0 3.4l.6 33l.2 6.4l.6 31.4l.1 6.1l.6 29.5l.1 5.7l.2 8.4l.4 19.2l.1 5.3l.6 25.5l.1 4.9l.6 23.5l.2 4.5l.4 15.1l.2 6.2l.1 4.1l.6 19.3l.1 3.6l.6 17.3l.1 3.2l.6 15.4l.1 1.4l.1 1.5l.6 13.5l.1 2.5l.6 11.8l.1 2.2l.6 10.2l.1 1.9l.2 2.8l.4 6l.1 1.6l.6 7.4l.2 1.3l.6 6.3l.1 1.1l.4 3.7l.2 1.5l.1 .9l.6 4.3l.1 .8l.6 3.4l.1 .6l.6 2.8l.1 .2l.1 .3l.6 2.2l.1 .4l.6 1.7l.1 .3l.6 1.4l.1 .2l.2 .4l.4 .7l.2 .2l.6 1l.1 .1l.6 .8l.1 .2l.4 .5l.2 .2l.1 .2l.6 .8l.1 .2l.6 .8l.2 .2l.6 1l0 .1l.1 .1l.6 1.1l.1 .3l.6 1.3l.1 .3l.6 1.6l.2 .3l.1 .5l.5 1.2l.1 .4l.6 2l.1 .4l.6 2.2l.1 .4l.4 1.7l.2 .7l.7 3.1l.8 3.2l.7 3.4l0 .3l.7 3.2l.7 3.6l.8 3.7l.3 1.5l.4 2.2l.7 3.7l.7 3.8l.6 2.7l.1 1l.8 3.6l.7 3.6l.7 3.5l.1 .3l.6 3.2l.7 3.3l.8 3.3l.3 1.3l.4 1.8l.7 3l.7 2.9l.6 2.1l.2 .7l.7 2.6l.7 2.6l.7 2.4l.1 .2l.6 2l.8 2.2l.7 2.1l.3 .8l.4 1.1l.7 1.8l.8 1.8l.5 1.2l.2 .4l.7 1.5l.7 1.5l.7 1.3l.1 .1l.7 1.2l.7 1.2l.7 1.2l.3 .4l.4 .6l.7 1.4l.8 2l.5 1.9l.2 .7l.7 3l.7 3.4l.8 3.7l0 .3l.7 3.4l.7 3.7l1 5.1l2.4 8.7l2.4 3.7l2.4 3.2l2.4 2.8l2.5 2.5l2.4 2.2l2.4 2l2.4 1.8l2.4 1.5l2.4 1.2l2.4 1l2.4 .7l2.4 .5l2.4 .2l2.4 0l2.4 -.4l2.4 -.6l2.4 -1.1l2.4 -1.5l2.4 -1.8l2.4 -2.2l2.5 -2.6l.3 -.3l.7 -.9l.7 -1l.7 -.9l0 -.1l.7 -1.1l.8 -1.2l.7 -1.2l.2 -.4l.5 -1l.7 -1.5l.8 -1.6l.4 -1l.3 -.7l.7 -2l.7 -2.1l.7 -2.1l0 -.2l.8 -2.6l.7 -2.9l.7 -3.1l.2 -.8l.5 -2.6l.7 -3.7l.8 -4.1l.4 -2.6l.3 -1.9l.7 -4.9l.7 -5.4l.7 -5.2l.1 -.5l.7 -6.3l.7 -6.8l.7 -7.2l.2 -1.9l.5 -5.9l.8 -8.3l.7 -8.8l.4 -5.4l.3 -4l.7 -9.8l.8 -10.4l.6 -9.9l.1 -.9l.7 -11.3l.7 -11.6l.7 -11.9l.2 -3l.6 -9.2l.7 -12.2l.7 -12.3l.4 -7.1l.3 -5.1l.8 -11.8l.7 -11.4l.6 -9.9l.1 -.8l.7 -9.8l.7 -8.8l.8 -7.4l.1 -1.6l.6 -4.3l.7 -4.1l.7 -2.4l.4 -.5l.3 .1l.8 .9l.7 1.7l.7 2.2l0 .2l.7 3.2l.8 3.8l.7 4.4l.2 1.3l.5 3.8l.7 5.6l.7 6.2l.5 3.8l.3 2.8l.7 7l.7 7.3l.7 7l0 .7l.8 7.9l.7 8.1l.7 8.3l.2 2.1l.5 6.3l.7 8.5l.8 8.5l.4 4.9l.3 3.6l.7 8.5l.7 8.4l.7 7.7l0 .7l.8 8.3l.7 8.1l.7 8.1l.2 2l.5 5.9l.8 7.7l.7 7.5l.4 4.4l.3 3l.7 7.2l.7 7l.7 6.2l.1 .6l.7 6.6l.7 6.4l.7 6.1l.2 1.6l.6 4.4l.7 5.8l.7 5.5l.4 3.2l.3 2.2l.7 5.1l.8 5l.6 4.4l.1 .4l.7 4.5l.7 4.4l.7 4.2l.2 1l.6 3l.7 3.8l.7 3.7l.4 2.1l.3 1.4l2.1 9.4l2.4 9.2l2.5 7.9l2.4 6.8l2.4 5.7l2.4 5l2.4 4.3l2.4 3.7l2.4 3.2l2.4 2.8l2.4 2.4l2.4 2.1l2.4 1.8l2.4 1.6l2.4 1.5l2.4 1.3l2.4 1.3l2.4 1.1l2.4 1.1l2.5 1l2.4 .9l2.4 .9l2.4 .8l2.4 .8l2.4 .8l2.4 .7l2.4 .7l2.4 .7l2.4 .6l2.4 .7l2.4 .6l2.4 .7l2.4 .6l2.4 .7l2.4 .6l2.5 .7l2.4 .7l2.4 .7l2.4 .7l2.4 .6l2.4 .7l2.4 .7l2.4 .6l2.4 .7l2.4 .6l2.4 .6l2.4 .5l2.4 .6l2.4 .5l2.4 .4l2.4 .5l2.4 .4l2.5 .5l2.4 .4l2.4 .4l2.4 .4l2.4 .4l2.4 .3l2.4 .4l2.4 .3l2.4 .3l2.4 .3l2.4 .3l2.4 .3"/>
<path d="M1375.6 1535.3l2.4 -.1l2.4 0l2.4 -.2l2.4 -.1l2.4 -.2l2.4 -.2l2.5 -.3l2.4 -.3l2.4 -.3l2.4 -.3l2.4 -.4l2.4 -.4l2.4 -.4l2.4 -.5l2.4 -.5l2.4 -.5l2.4 -.5l2.4 -.5l2.4 -.6l2.4 -.5l2.4 -.6l2.4 -.7l2.4 -.7l2.5 -.7l2.4 -.9l2.4 -1.1l2.4 -1.3l2.4 -1.5l2.4 -1.6l2.4 -1.5l2.4 -1.5l2.4 -1.5l2.4 -1.3l2.4 -1.5l2.4 -1.5l2.4 -1.5l2.4 -1.3l2.4 -1.3l2.4 -1.1l2.4 -.8l2.5 -.8l2.4 -.8l2.4 -.6l2.4 -.5l2.4 -.2l2.4 0l2.4 .4l2.4 .7l2.4 .9l2.4 1l2.4 1l2.4 1l2.4 .8l2.4 .6l2.4 .5l2.4 .5l2.5 .4l2.4 .3l2.4 .3l2.4 .2l2.4 .1l2.4 0l2.4 -.1l2.4 -.2l2.4 -.2l2.4 -.3l2.4 -.3l2.4 -.4l2.4 -.4l2.4 -.5l2.4 -.5l2.4 -.5l2.4 -.5l2.5 -.5l2.4 -.5l2.4 -.6l2.4 -.5l2.4 -.6l2.4 -.7l2.4 -.7l2.4 -.7l2.4 -.8l2.4 -.7l2.4 -.8l2.4 -.9l2.4 -.8l2.4 -.9l2.4 -.9l2.4 -.9l2.4 -.9l2.5 -.9l2.4 -.9l2.4 -1l2.4 -1l2.4 -1.1l2.4 -1.1l2.4 -1.1l2.4 -1.2l2.4 -1.2l2.4 -1.2l2.4 -1.2l2.4 -1.3l2.4 -1.2l2.4 -1.3l2.4 -1.3l2.4 -1.3l2.5 -1.3l2.4 -1.4l2.4 -1.4l2.4 -1.4l2.4 -1.5l2.4 -1.5l2.4 -1.5l2.4 -1.5l2.4 -1.5l2.4 -1.5l2.4 -1.6l2.4 -1.5l2.4 -1.5l2.4 -1.5l2.4 -1.4l2.4 -1.4l2.4 -1.4l2.5 -1.4l2.4 -1.4l2.4 -1.4l2.4 -1.4l2.4 -1.4l2.4 -1.3l2.4 -1.4l2.4 -1.4l2.4 -1.3l2.4 -1.4l2.4 -1.3l2.4 -1.4l2.4 -1.3l2.4 -1.3l2.4 -1.3l2.4 -1.3l2.4 -1.3l2.5 -1.3l2.4 -1.3l2.4 -1.3l2.4 -1.3l2.4 -1.2l2.4 -1.2l2.4 -1.2l2.4 -1.2l2.4 -1.2l2.4 -1.2l2.4 -1.2l2.4 -1.2l2.4 -1.2l2.4 -1.1l2.4 -1.2l2.4 -1.2l2.5 -1.2l2.4 -1.3l2.4 -1.2l2.4 -1.3l2.4 -1.3l2.4 -1.3l2.4 -1.3l2.4 -1.3l2.4 -1.4l2.4 -1.4l2.4 -1.5l2.4 -1.4l2.4 -1.6l2.4 -1.5l2.4 -1.7l2.4 -1.7l2.4 -1.7l2.5 -1.8l2.4 -2.1l2.4 -2.3l2.4 -2.5l2.4 -2.5l2.4 -2.5l2.4 -2.5l2.4 -2.3l2.4 -2.2l2.4 -1.9l2.4 -1.7l2.4 -1.6l2.4 -2l2.4 -2.2l2.4 -2.6l2.4 -3.1l2.4 -3.6l.2 -.3l.8 -1.3l.7 -1.4l.7 -1.4l.1 -.2l.6 -1.4l.7 -1.7l.8 -1.8l.3 -.9l.4 -1.1l.7 -2.3l.7 -2.4l.6 -2l.1 -.7l.8 -3l.7 -3.4l.7 -3.7l.1 -.4l.6 -3.9l.8 -4.9l.7 -5.4l.3 -2.5l.4 -3.8l.7 -7.1l.7 -8.1l.6 -6.7l.2 -2.4l.7 -10.5l.7 -11.7l.7 -13.4l.1 -1.1l.7 -13.8l.7 -16.8l.7 -18.8l.3 -8.4l.4 -12.4l.7 -23l.8 -25.3l.5 -20.5l.2 -7.1l.7 -30l.7 -32.4l.7 -34.7l.1 -3l.7 -33.9l.7 -38.9l.7 -40.8l.3 -17.5l.4 -24.9l.8 -43.6l.7 -44.4l.5 -33.4l.2 -11.2l.7 -44.3l.7 -43.2l.8 -41.5l0 -3.3l.7 -35.4l.7 -35l.6 -25.7l.1 -4.8l.3 -11.1l.3 -10.1l.2 -3.7l.6 -15.9l.1 -2.7l.6 -10.1l.1 -1.4l.5 -3.9l.1 -.1l.1 -.2l.6 2.3l.1 1.1l.6 8.5l.2 2.4l.6 14.3l.1 3.5l0 1.8l.6 17.9l.1 4.4l.6 24.4l.1 5.3l.6 28.2l.2 6l.3 15.4l.3 15.9l.1 6.5l.6 33.6l.1 6.9l.6 35.1l.1 7.1l.6 32.4l0 3.6l.1 7.3l.6 36.2l.2 7.3l.6 36l.1 7.1l.6 35.4l.1 6.9l.1 3.5l.5 30.8l.1 6.7l.6 33l.1 6.4l.6 31.3l.2 6.1l.3 14.9l.3 14.6l.1 5.7l.6 27.6l.1 5.3l.6 25.6l.1 4.9l.6 21.3l0 2.2l.2 4.5l.6 21.5l.1 4.1l.6 19.4l.1 3.7l.6 17.4l.1 3.3l.1 1.6l.5 13.9l.1 2.9l.6 13.7l.2 2.6l.6 12l.1 2.2l.3 5.4l.3 5l.1 2l.6 8.9l.1 1.7l.6 7.6l.2 1.4l.5 5.8l.1 .6l.1 1.1l.6 5.4l.1 1l.6 4.4l.1 .8l.6 3.6l.1 .6l.1 .3l.5 2.6l.2 .5l.6 2.3l.1 .4l.6 1.9l.1 .3l.3 .8l.3 .7l.1 .2l.6 1.2l.1 .2l.7 1l.1 .2l.5 .7l.1 .1l.1 .2l.6 .8l.1 .2l.6 .8l.1 .2l.6 .9l.2 .2l0 .1l.6 .9l.1 .2l.6 1.2l.1 .3l.6 1.4l.1 .3l.3 .8l.3 .8l.1 .3l.6 1.9l.2 .3l.6 2.1l.1 .4l.5 2l.1 .3l.1 .4l.6 2.5l.7 3.2l.8 3.3l.1 .9l.6 2.6l.7 3.6l.7 3.8l.4 2.2l.3 1.6l.8 3.8l.7 3.9l.6 3.5l.1 .3l.7 3.9l.8 3.7l.7 3.7l.2 1l.5 2.7l.7 3.5l.7 3.5l.5 1.9l.3 1.4l.7 3.2l.7 3.1l.7 2.7l0 .3l.7 2.8l.8 2.7l.7 2.6l.2 .7l.5 1.8l.7 2.3l.8 2.2l.4 1.3l.3 .8l.7 2l.7 1.9l.7 1.6l0 .1l.8 1.7l.7 1.5l.7 1.5l.2 .3l.5 1.1l.8 1.3l.7 1.2l.4 .6l.3 .5l.7 1.3l.7 2.2l.7 2.6l.1 .2l.7 3.5l.7 3.9l.7 4.2l.2 1l.5 3.3l.8 4.4l.7 4.2l.4 2.3l2.4 10.2l2.4 4.1l2.4 3.4l2.4 3l2.4 2.7l2.4 2.4l2.5 2.2l2.4 1.8l2.4 1.6l2.4 1.3l2.4 1l2.4 .8l2.4 .5l2.4 .2l2.4 -.1l2.4 -.4l2.4 -.8l2.4 -1.1l2.4 -1.6l2.4 -1.8l2.4 -2.2l2.4 -2.5l2.2 -2.5l.3 -.3l.4 -.6l.7 -1l.7 -1l.6 -.8l.1 -.3l.8 -1.2l.7 -1.2l.7 -1.4l.1 -.1l.6 -1.4l.7 -1.6l.8 -1.7l.3 -.8l.4 -1.2l.7 -2.1l.7 -2.3l.6 -1.9l.2 -.7l.7 -2.8l.7 -3.1l.7 -3.4l.1 -.3l.6 -3.5l.8 -4.1l.7 -4.4l.3 -2l.4 -2.9l.7 -5.3l.8 -5.8l.5 -4.6l.2 -1.6l.7 -6.8l.7 -7.2l.7 -7.7l.1 -.7l.7 -7.6l.7 -8.8l.7 -9.3l.3 -4.1l.4 -5.8l.7 -10.3l.8 -10.8l.5 -8.4l.2 -2.8l.7 -11.6l.7 -11.9l.8 -12.1l0 -1l.7 -11.2l.7 -12.2l.7 -12.1l.3 -5l.4 -6.8l.8 -11.4l.7 -10.7l.5 -7.4l.2 -2.3l.7 -8.7l.8 -7.4l.7 -5.8l0 -.4l.7 -3.8l.7 -2.2l.7 -.4l.3 .3l.5 .7l.7 1.7l.7 2.5l.5 2.3l.2 .9l.8 3.9l.7 4.5l.7 5.1l.1 .5l.6 5.2l.7 6.2l.8 6.6l.3 2.9l.4 4.2l.7 7.4l.7 7.7l.6 6l.1 2l.8 8.2l.7 8.3l.7 8.5l.1 .7l.6 7.8l.8 8.6l.7 8.5l.3 3.6l.4 5l.7 8.5l.7 8.4l.6 6.3l.2 2.1l.7 8.2l.7 8.1l.7 7.9l.1 .7l.7 7.1l.7 7.6l.7 7.4l.3 3.1l.4 4.2l.7 7l.8 6.9l.5 5l.2 1.6l.7 6.4l.7 6.3l.7 6l.1 .5l.7 5.3l.7 5.6l.7 5.4l.3 2.2l.4 3l.8 5l.7 4.8l.5 3.5l.2 1.1l.7 4.4l.7 4.3l.8 4l0 .3l.7 3.6l.7 3.7l.7 3.5l.3 1.5l2.4 10.5l2.4 8.9l2.5 7.7l2.4 6.5l2.4 5.6l2.4 4.8l2.4 4.1l2.4 3.5l2.4 3l2.4 2.6l2.4 2.2l2.4 1.9l2.4 1.7l2.4 1.5l2.4 1.4l2.4 1.2l2.4 1.2l2.4 1.1l2.4 1l2.5 .9l2.4 .9l2.4 .8l2.4 .7l2.4 .8l2.4 .7l2.4 .7l2.4 .6l2.4 .7l2.4 .6l2.4 .7l2.4 .6l2.4 .7l2.4 .6l2.4 .7l2.4 .7l2.4 .7l2.5 .7l2.4 .8l2.4 .7l2.4 .7l2.4 .7l2.4 .7l2.4 .7l2.4 .6l2.4 .6l2.4 .6l2.4 .6l2.4 .5l2.4 .4l2.4 .5l2.4 .5l2.4 .4l2.4 .4l2.5 .4l2.4 .4l2.4 .4l2.4 .4l2.4 .4l2.4 .3l2.4 .3l2.4 .3l2.4 .3l2.4 .3"/>
<path d="M1384.5 1586.4l2.4 0l2.4 -.1l2.4 -.1l2.4 -.1l2.4 -.2l2.4 -.2l2.4 -.2l2.4 -.3l2.5 -.3l2.4 -.3l2.4 -.3l2.4 -.4l2.4 -.4l2.4 -.4l2.4 -.4l2.4 -.5l2.4 -.5l2.4 -.5l2.4 -.5l2.4 -.5l2.4 -.6l2.4 -.6l2.4 -.6l2.4 -.6l2.4 -.8l2.5 -1.1l2.4 -1.3l2.4 -1.5l2.4 -1.5l2.4 -1.6l2.4 -1.6l2.4 -1.5l2.4 -1.4l2.4 -1.5l2.4 -1.5l2.4 -1.6l2.4 -1.4l2.4 -1.3l2.4 -1l2.4 -.9l2.4 -.8l2.5 -.8l2.4 -.7l2.4 -.5l2.4 -.3l2.4 -.1l2.4 .4l2.4 .6l2.4 .9l2.4 1l2.4 1.1l2.4 .9l2.4 .8l2.4 .6l2.4 .4l2.4 .5l2.4 .4l2.4 .3l2.5 .4l2.4 .2l2.4 .2l2.4 0l2.4 -.1l2.4 -.1l2.4 -.2l2.4 -.3l2.4 -.3l2.4 -.4l2.4 -.4l2.4 -.5l2.4 -.5l2.4 -.5l2.4 -.5l2.4 -.5l2.4 -.5l2.5 -.5l2.4 -.5l2.4 -.6l2.4 -.6l2.4 -.6l2.4 -.7l2.4 -.6l2.4 -.8l2.4 -.7l2.4 -.8l2.4 -.8l2.4 -.8l2.4 -.8l2.4 -.9l2.4 -.8l2.4 -.9l2.5 -.9l2.4 -1l2.4 -.9l2.4 -1.1l2.4 -1l2.4 -1.1l2.4 -1.1l2.4 -1.1l2.4 -1.2l2.4 -1.2l2.4 -1.2l2.4 -1.2l2.4 -1.2l2.4 -1.3l2.4 -1.2l2.4 -1.3l2.4 -1.3l2.5 -1.4l2.4 -1.4l2.4 -1.4l2.4 -1.5l2.4 -1.5l2.4 -1.5l2.4 -1.5l2.4 -1.5l2.4 -1.6l2.4 -1.5l2.4 -1.4l2.4 -1.5l2.4 -1.4l2.4 -1.4l2.4 -1.4l2.4 -1.4l2.4 -1.3l2.5 -1.4l2.4 -1.4l2.4 -1.3l2.4 -1.3l2.4 -1.4l2.4 -1.3l2.4 -1.3l2.4 -1.3l2.4 -1.4l2.4 -1.3l2.4 -1.3l2.4 -1.3l2.4 -1.3l2.4 -1.3l2.4 -1.2l2.4 -1.3l2.5 -1.3l2.4 -1.3l2.4 -1.2l2.4 -1.3l2.4 -1.2l2.4 -1.2l2.4 -1.2l2.4 -1.3l2.4 -1.2l2.4 -1.2l2.4 -1.2l2.4 -1.2l2.4 -1.3l2.4 -1.2l2.4 -1.2l2.4 -1.3l2.4 -1.3l2.5 -1.3l2.4 -1.3l2.4 -1.3l2.4 -1.4l2.4 -1.4l2.4 -1.4l2.4 -1.4l2.4 -1.4l2.4 -1.5l2.4 -1.5l2.4 -1.6l2.4 -1.6l2.4 -1.6l2.4 -1.7l2.4 -1.8l2.4 -1.9l2.4 -2.2l2.5 -2.5l2.4 -2.6l2.4 -2.7l2.4 -2.7l2.4 -2.7l2.4 -2.5l2.4 -2.4l2.4 -2l2.4 -1.8l2.4 -1.7l2.4 -2l2.4 -2.4l2.4 -2.7l2.4 -3.1l2.4 -3.8l.9 -1.5l.7 -1.4l.7 -1.5l.1 -.2l.6 -1.4l.8 -1.7l.7 -1.8l.4 -1l.3 -1l.7 -2.2l.8 -2.4l.6 -2.1l.1 -.5l.7 -2.9l.7 -3.2l.7 -3.7l.2 -.6l.6 -3.4l.7 -4.6l.7 -5.1l.4 -2.8l.3 -3.1l.8 -6.5l.7 -7.5l.6 -7l.1 -1.5l.7 -9.6l.7 -10.8l.8 -12.3l.1 -2.2l.6 -11.5l.7 -15.5l.7 -17.3l.4 -9.3l.3 -9.9l.8 -21.2l.7 -23.5l.6 -21.2l.1 -4.5l.7 -28l.8 -30.3l.7 -32.7l.1 -5.7l.6 -29.3l.7 -37.2l.7 -39.2l.4 -20.3l.4 -20.7l.7 -42.6l.7 -43.8l.6 -37l.1 -7.5l.8 -44.8l.7 -44.4l.7 -43.4l.1 -7.1l.6 -34.4l.7 -38.8l.8 -35.1l.3 -15.8l.4 -14.6l.7 -24.9l.7 -18.4l.6 -10l.2 -1.4l.7 -3.8l.6 2.7l.1 1.1l.6 9l.1 2.4l.1 2.5l.5 12.3l.1 3.6l.6 20.3l.2 4.5l.6 25l.1 5.4l.3 17l.3 12l.1 6.1l.6 32.1l.1 6.6l.6 34.4l.1 7.1l.6 36l.2 7.3l.6 37l.1 7.4l.6 37.3l.1 7.5l.6 37.1l.1 7.4l.2 7.3l.4 29.2l.2 7.2l.6 35.5l.1 7l.6 34.3l.1 6.7l.4 19.8l.2 12.9l.1 6.4l.6 31l.1 6.1l.6 29.2l.2 5.7l.6 27.3l.1 5.2l.6 25.4l.1 4.9l.6 23.3l.1 4.5l.6 21.4l.2 4.1l.1 4l.5 15.5l.1 3.7l.6 17.6l.1 3.3l.6 15.9l.1 3l.4 8.6l.2 5.5l.1 2.6l.6 12.5l.2 2.4l.6 10.9l.1 2.1l.6 9.5l.1 1.8l.6 8.1l.1 1.5l.6 6.9l.1 1.3l.6 5.7l.2 1l.1 1l.5 3.5l.1 .8l.6 3.5l.1 .6l.6 2.4l.1 .4l.4 .9l.2 .5l.2 .2l.6 .6l.1 0l.6 -.3l.1 -.2l.6 -1.1l.1 -.2l.6 -1.9l.1 -.4l.6 -2.4l.2 -.5l.6 -2.9l.1 -.6l.1 -.7l.5 -2.6l.1 -.7l.6 -3.5l.1 -.7l.6 -3.5l.2 -.6l.3 -2.1l.3 -1.3l.1 -.6l.6 -3l.1 -.5l.6 -2.3l.1 -.4l.6 -1.5l.1 -.2l.6 -.5l.2 0l.6 .6l.7 2.1l.2 1l.5 2.4l.7 4.6l.8 5.7l.4 4.2l.3 2.2l.7 7l.7 7.2l.7 7.4l.8 7.3l.7 7l.7 6.7l.2 2.1l.5 4.1l.7 5.8l.8 5.2l.4 3.2l.3 1.5l.7 4.1l.7 3.7l.8 3.2l.7 2.7l.7 2.4l.7 2l.3 .6l.4 1.2l.8 1.5l.7 1.3l.5 .8l.2 .4l.7 1l.8 .9l.7 .8l.7 .8l.7 .7l.7 .6l.3 .2l.5 .4l.7 .6l.7 .6l.5 .3l.2 .2l.7 .7l.8 1.8l.7 2.6l.7 3.4l.7 3.9l.8 4.4l.2 1.5l.5 3.1l.7 4.6l.7 4.6l.5 2.8l.2 1.4l.8 3.8l.7 3.2l.7 2.4l.7 1.4l.8 1.1l.9 1.3l2.4 3.2l2.4 2.9l2.4 2.6l2.4 2.3l2.4 2l2.5 1.7l2.4 1.5l2.4 1.2l2.4 .9l2.4 .6l2.4 .3l2.4 0l2.4 -.2l2.4 -.6l2.4 -1l2.4 -1.4l2.4 -1.8l2.4 -2.1l2.4 -2.4l2.4 -2.6l2.4 -3l.7 -.8l.7 -1l.7 -1l.3 -.5l.5 -.6l.7 -1.1l.7 -1.3l.6 -.9l.1 -.4l.8 -1.4l.7 -1.5l.7 -1.6l.1 -.2l.6 -1.6l.7 -2l.8 -2.2l.3 -.9l.4 -1.5l.7 -2.6l.7 -2.8l.6 -2.3l.2 -.9l.7 -3.4l.7 -3.8l.7 -4.1l.1 -.4l.6 -4.1l.8 -4.9l.7 -5.4l.3 -2.4l.4 -3.4l.7 -6.3l.7 -6.7l.6 -5.5l.2 -1.8l.7 -7.8l.7 -8.4l.7 -8.8l.1 -.8l.7 -8.6l.7 -9.9l.7 -10.4l.3 -4.5l.4 -6.3l.7 -11.3l.8 -11.7l.5 -8.9l.2 -3l.7 -12.2l.7 -12.3l.8 -12.3l0 -1l.7 -11.2l.7 -11.9l.7 -11.4l.3 -4.5l.4 -6.2l.8 -9.8l.7 -8.8l.5 -5.6l.2 -1.7l.7 -5.9l.8 -4.1l.7 -2.3l0 -.1l.7 -.2l.7 1l.7 1.8l.3 1l.5 1.6l.7 3.2l.7 4l.5 3.3l.2 1.3l.7 5.2l.8 5.7l.7 6.3l.1 .6l.6 6.2l.7 7.1l.8 7.5l.3 3.3l.4 4.6l.7 8l.7 8.3l.6 6.4l.1 2.1l.8 8.5l.7 8.7l.7 8.7l.1 .7l.6 8l.8 8.6l.7 8.7l.3 3.5l.4 5l.7 8.5l.7 8.3l.6 6.1l.2 2.1l.7 8l.7 7.9l.7 7.7l.1 .7l.6 6.9l.8 7.3l.7 7.2l.3 2.9l.4 4l.7 6.7l.8 6.6l.5 4.7l.2 1.6l.7 6.1l.7 5.9l.7 5.7l.1 .5l.7 5l.7 5.2l.7 5.1l.3 2.1l.4 2.8l.8 4.7l.7 4.5l.5 3.2l.2 1.1l.7 4.1l.7 3.9l.8 3.8l0 .3l.7 3.3l1.7 8l2.4 9.7l2.4 8.3l2.4 7.1l2.5 6l2.4 5.1l2.4 4.4l2.4 3.8l2.4 3.2l2.4 2.7l2.4 2.2l2.4 1.9l2.4 1.7l2.4 1.5l2.4 1.4l2.4 1.3l2.4 1.1l2.4 1.1l2.4 .9l2.4 .9l2.4 .9l2.5 .7l2.4 .8l2.4 .7l2.4 .7l2.4 .6l2.4 .7l2.4 .6l2.4 .6l2.4 .6l2.4 .7l2.4 .6l2.4 .7l2.4 .7l2.4 .7l2.4 .7l2.4 .8l2.4 .7l2.5 .8l2.4 .7l2.4 .7l2.4 .8l2.4 .6l2.4 .7l2.4 .7l2.4 .6l2.4 .5l2.4 .5l2.4 .5l2.4 .5l2.4 .4l2.4 .5l2.4 .4l2.4 .4l2.5 .4l2.4 .4l2.4 .4l2.4 .4l2.4 .3l2.4 .3l2.4 .3l2.4 .3l2.4 .3"/>
</g>
<path d="M404.1 1629.5H1253.0" stroke="#000" stroke-width="6.5" fill="none"/>
<path d="M407.5 1626.2V1665.8M527.8 1626.2V1649.0M648.1 1626.2V1665.8M768.4 1626.2V1649.0M888.7 1626.2V1665.8M1009.0 1626.2V1649.0M1129.3 1626.2V1665.8M1249.6 1626.2V1649.0" stroke="#000" stroke-width="6.8" fill="none"/>
<path d="M1381.1 1629.5H2230.0" stroke="#000" stroke-width="6.5" fill="none"/>
<path d="M1384.5 1626.2V1665.8M1504.8 1626.2V1649.0M1625.1 1626.2V1665.8M1745.4 1626.2V1649.0M1865.7 1626.2V1665.8M1986.0 1626.2V1649.0M2106.3 1626.2V1665.8M2226.6 1626.2V1649.0" stroke="#000" stroke-width="6.8" fill="none"/>
<text x="486" y="334" font-family="Liberation Serif, Times New Roman, serif" font-size="104" font-weight="bold">PCL</text>
<text x="1228" y="334" font-family="Liberation Serif, Times New Roman, serif" font-size="104" font-weight="bold">PCL-SBA9</text>
<text x="81" y="625" font-family="Liberation Serif, Times New Roman, serif" font-size="90">60</text>
<text x="15" y="1129" font-family="Liberation Serif, Times New Roman, serif" font-size="90">T (°C)</text>
<text x="204" y="1629" font-family="Liberation Serif, Times New Roman, serif" font-size="90">-20</text>
<text x="406.0" y="1736" font-family="Liberation Serif, Times New Roman, serif" font-size="82" text-anchor="middle">1.6</text>
<text x="646.6" y="1736" font-family="Liberation Serif, Times New Roman, serif" font-size="82" text-anchor="middle">2.0</text>
<text x="887.2" y="1736" font-family="Liberation Serif, Times New Roman, serif" font-size="82" text-anchor="middle">2.4</text>
<text x="1127.8" y="1736" font-family="Liberation Serif, Times New Roman, serif" font-size="82" text-anchor="middle">2.8</text>
<text x="673.0" y="1856" font-family="Liberation Serif, Times New Roman, serif" font-size="90"><tspan font-style="italic">s</tspan> (nm<tspan font-size="60" dy="-41">-1</tspan><tspan dy="41">)</tspan></text>
<text x="1383.0" y="1736" font-family="Liberation Serif, Times New Roman, serif" font-size="82" text-anchor="middle">1.6</text>
<text x="1623.6" y="1736" font-family="Liberation Serif, Times New Roman, serif" font-size="82" text-anchor="middle">2.0</text>
<text x="1864.2" y="1736" font-family="Liberation Serif, Times New Roman, serif" font-size="82" text-anchor="middle">2.4</text>
<text x="2104.8" y="1736" font-family="Liberation Serif, Times New Roman, serif" font-size="82" text-anchor="middle">2.8</text>
<text x="1650.0" y="1856" font-family="Liberation Serif, Times New Roman, serif" font-size="90"><tspan font-style="italic">s</tspan> (nm<tspan font-size="60" dy="-41">-1</tspan><tspan dy="41">)</tspan></text>
<path d="M206.3 588.3L366.4 1574.0" stroke="#000" stroke-width="9.8" stroke-linecap="round" fill="none"/><path d="M372.7 1608.7L355.9 1573.5L376.9 1570.4Z" fill="#000"/>
</svg></body></html>
